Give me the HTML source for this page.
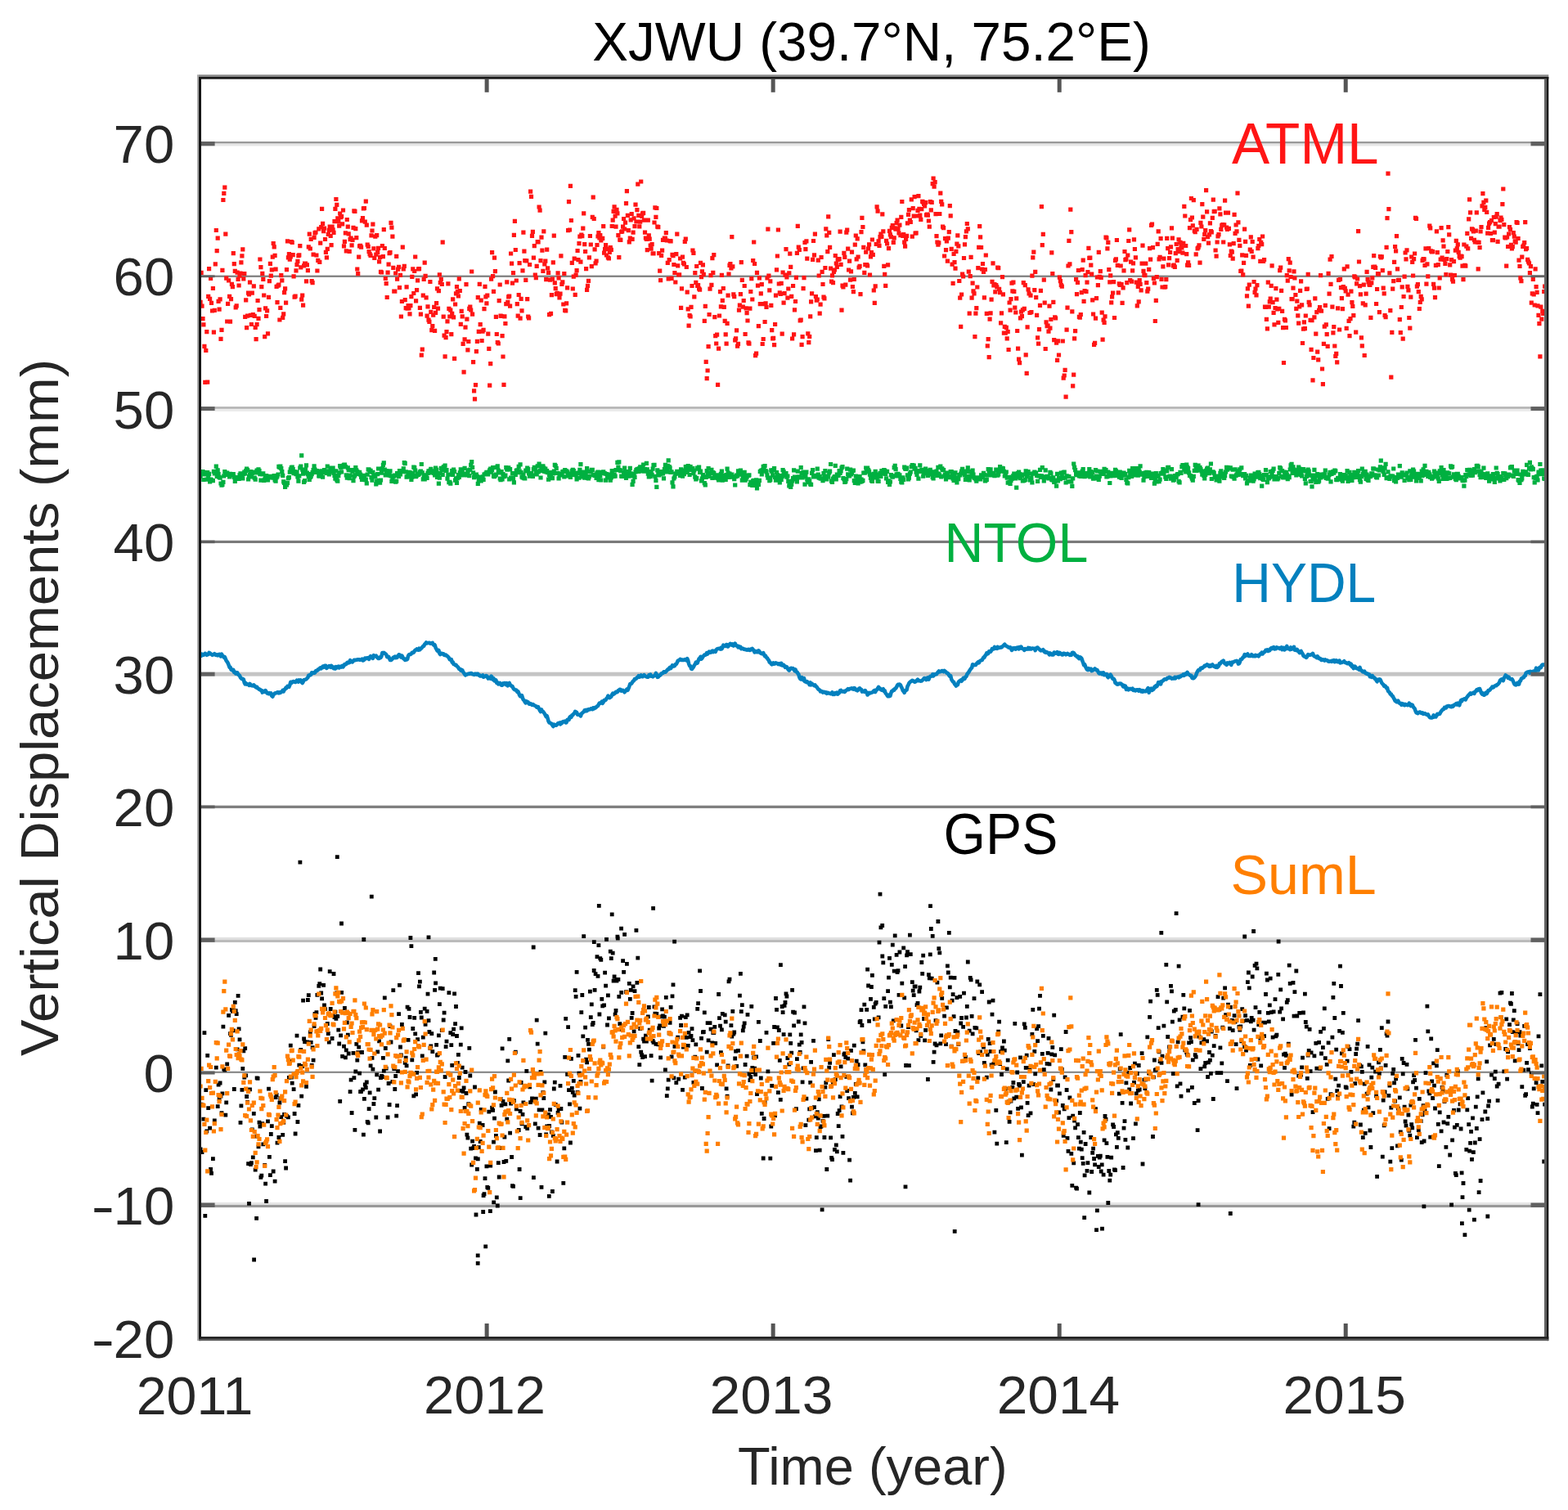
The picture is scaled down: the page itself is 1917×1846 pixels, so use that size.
<!DOCTYPE html><html><head><meta charset="utf-8"><title>XJWU</title><style>html,body{margin:0;padding:0;background:#fff;overflow:hidden}svg{display:block}</style></head><body><svg width="1917" height="1846" viewBox="0 0 1917 1846"><rect width="1917" height="1846" fill="#fff"/><g><rect x="246" y="173.0" width="1642" height="2.6" fill="#999999"/><rect x="246" y="175.6" width="1642" height="2.9" fill="#e6e6e6"/><rect x="246" y="336.6" width="1642" height="2.3" fill="#808080"/><rect x="246" y="497.1" width="1642" height="2.8" fill="#b5b5b5"/><rect x="246" y="499.9" width="1642" height="3.1" fill="#ebebeb"/><rect x="246" y="660.8" width="1642" height="3.2" fill="#7a7a7a"/><rect x="246" y="821.7" width="1642" height="4.9" fill="#c4c4c4"/><rect x="246" y="984.75" width="1642" height="3.35" fill="#7f7f7f"/><rect x="246" y="1145.9" width="1642" height="3.0" fill="#e0e0e0"/><rect x="246" y="1148.9" width="1642" height="3.1" fill="#bbbbbb"/><rect x="246" y="1309.7" width="1642" height="2.2" fill="#888888"/><rect x="246" y="1469.9" width="1642" height="3.0" fill="#e5e5e5"/><rect x="246" y="1472.9" width="1642" height="3.2" fill="#999999"/></g><g fill="none" stroke-linecap="butt"><path d="M242.5 369.4h5.2M243.5 333.3h5.2M244.4 374.1h5.2M245.4 389.6h5.2M246.3 396.8h5.2M247.3 423.3h5.2M248.2 467.3h5.2M249.2 428.5h5.2M250.2 405.7h5.2M251.1 467.1h5.2M252.1 362.4h5.2M253.0 328.6h5.2M254.0 365.3h5.2M255.0 340.3h5.2M255.9 370.3h5.2M256.9 380.0h5.2M257.8 352.5h5.2M258.8 406.1h5.2M259.7 379.3h5.2M260.7 322.9h5.2M261.7 281.5h5.2M262.6 306.6h5.2M263.6 291.1h5.2M264.5 368.3h5.2M265.5 378.2h5.2M266.5 365.8h5.2M267.4 414.4h5.2M268.4 403.3h5.2M269.3 330.4h5.2M270.3 244.5h5.2M271.2 236.3h5.2M272.2 229.1h5.2M273.2 286.2h5.2M274.1 340.1h5.2M275.1 393.0h5.2M276.0 371.3h5.2M277.0 342.8h5.2M278.0 362.3h5.2M278.9 393.1h5.2M279.9 365.7h5.2M280.8 347.3h5.2M281.8 350.7h5.2M282.7 309.6h5.2M283.7 322.7h5.2M284.7 331.3h5.2M285.6 375.8h5.2M286.6 373.9h5.2M287.5 333.2h5.2M288.5 341.5h5.2M289.5 349.0h5.2M290.4 337.2h5.2M291.4 334.0h5.2M292.3 320.9h5.2M293.3 312.9h5.2M294.2 304.9h5.2M295.2 340.9h5.2M296.2 334.5h5.2M297.1 387.3h5.2M298.1 366.9h5.2M299.0 400.6h5.2M300.0 386.2h5.2M301.0 358.1h5.2M301.9 359.8h5.2M302.9 345.2h5.2M303.8 385.4h5.2M304.8 396.5h5.2M305.7 358.1h5.2M306.7 384.7h5.2M307.7 349.8h5.2M308.6 386.4h5.2M309.6 400.3h5.2M310.5 414.7h5.2M311.5 396.7h5.2M312.5 367.5h5.2M313.4 389.3h5.2M314.4 378.7h5.2M315.3 317.0h5.2M316.3 326.7h5.2M317.2 350.6h5.2M318.2 334.3h5.2M319.2 341.4h5.2M320.1 361.0h5.2M321.1 411.6h5.2M322.0 376.9h5.2M323.0 386.5h5.2M324.0 379.9h5.2M324.9 407.8h5.2M325.9 363.3h5.2M326.8 343.7h5.2M327.8 322.3h5.2M328.7 337.1h5.2M329.7 329.8h5.2M330.7 314.1h5.2M331.6 297.5h5.2M332.6 301.8h5.2M333.5 312.4h5.2M334.5 329.2h5.2M335.5 350.4h5.2M336.4 369.7h5.2M337.4 349.1h5.2M338.3 348.2h5.2M339.3 391.0h5.2M340.2 376.3h5.2M341.2 336.7h5.2M342.2 342.9h5.2M343.1 388.4h5.2M344.1 383.9h5.2M345.0 357.7h5.2M346.0 352.9h5.2M347.0 370.1h5.2M347.9 329.7h5.2M348.9 294.9h5.2M349.8 314.9h5.2M350.8 310.6h5.2M351.7 317.2h5.2M352.7 313.8h5.2M353.7 295.5h5.2M354.6 296.5h5.2M355.6 311.7h5.2M356.5 337.9h5.2M357.5 363.1h5.2M358.5 362.1h5.2M359.4 330.9h5.2M360.4 323.6h5.2M361.3 319.4h5.2M362.3 312.7h5.2M363.2 311.9h5.2M364.2 300.6h5.2M365.2 326.8h5.2M366.1 366.1h5.2M367.1 361.0h5.2M368.0 373.1h5.2M369.0 324.9h5.2M370.0 322.1h5.2M370.9 322.1h5.2M371.9 343.9h5.2M372.8 323.9h5.2M373.8 330.7h5.2M374.7 301.9h5.2M375.7 286.2h5.2M376.7 304.0h5.2M377.6 292.3h5.2M378.6 343.6h5.2M379.5 345.6h5.2M380.5 311.1h5.2M381.5 290.3h5.2M382.4 284.9h5.2M383.4 284.0h5.2M384.3 312.0h5.2M385.3 331.0h5.2M386.2 318.4h5.2M387.2 279.9h5.2M388.2 320.4h5.2M389.1 297.1h5.2M390.1 277.6h5.2M391.0 255.4h5.2M392.0 273.3h5.2M393.0 282.6h5.2M393.9 279.0h5.2M394.9 292.5h5.2M395.8 308.3h5.2M396.8 314.8h5.2M397.7 304.3h5.2M398.7 286.5h5.2M399.7 281.3h5.2M400.6 277.1h5.2M401.6 288.5h5.2M402.5 299.6h5.2M403.5 277.0h5.2M404.5 280.8h5.2M405.4 284.3h5.2M406.4 270.7h5.2M407.3 255.3h5.2M408.3 243.5h5.2M409.2 250.4h5.2M410.2 266.8h5.2M411.2 270.6h5.2M412.1 276.2h5.2M413.1 261.0h5.2M414.0 265.7h5.2M415.0 264.7h5.2M416.0 273.9h5.2M416.9 257.0h5.2M417.9 300.8h5.2M418.8 295.3h5.2M419.8 284.8h5.2M420.7 306.9h5.2M421.7 268.5h5.2M422.7 277.2h5.2M423.6 285.9h5.2M424.6 307.3h5.2M425.5 292.7h5.2M426.5 291.0h5.2M427.5 299.8h5.2M428.4 293.3h5.2M429.4 278.4h5.2M430.3 257.9h5.2M431.3 258.4h5.2M432.2 279.7h5.2M433.2 290.6h5.2M434.2 329.0h5.2M435.1 334.7h5.2M436.1 314.2h5.2M437.0 300.8h5.2M438.0 300.3h5.2M439.0 302.1h5.2M439.9 269.9h5.2M440.9 266.7h5.2M441.8 254.9h5.2M442.8 254.5h5.2M443.7 271.2h5.2M444.7 246.1h5.2M445.7 275.2h5.2M446.6 299.1h5.2M447.6 301.4h5.2M448.5 307.7h5.2M449.5 310.6h5.2M450.5 312.4h5.2M451.4 287.8h5.2M452.4 282.0h5.2M453.3 274.1h5.2M454.3 303.8h5.2M455.2 315.3h5.2M456.2 289.2h5.2M457.2 311.1h5.2M458.1 287.6h5.2M459.1 308.5h5.2M460.0 303.3h5.2M461.0 319.9h5.2M462.0 314.4h5.2M462.9 332.4h5.2M463.9 333.0h5.2M464.8 300.5h5.2M465.8 313.7h5.2M466.7 280.7h5.2M467.7 303.5h5.2M468.7 340.5h5.2M469.6 346.7h5.2M470.6 363.5h5.2M471.5 333.1h5.2M472.5 323.2h5.2M473.5 309.6h5.2M474.4 308.6h5.2M475.4 272.4h5.2M476.3 278.2h5.2M477.3 289.1h5.2M478.2 327.3h5.2M479.2 356.1h5.2M480.2 356.1h5.2M481.1 334.0h5.2M482.1 313.3h5.2M483.0 341.1h5.2M484.0 329.2h5.2M485.0 326.4h5.2M485.9 351.6h5.2M486.9 336.4h5.2M487.8 387.0h5.2M488.8 368.5h5.2M489.7 302.2h5.2M490.7 328.8h5.2M491.7 325.4h5.2M492.6 366.7h5.2M493.6 376.6h5.2M494.5 350.8h5.2M495.5 377.1h5.2M496.5 373.5h5.2M497.4 376.8h5.2M498.4 383.9h5.2M499.3 373.7h5.2M500.3 362.6h5.2M501.2 338.3h5.2M502.2 328.9h5.2M503.2 358.5h5.2M504.1 331.5h5.2M505.1 314.0h5.2M506.0 367.8h5.2M507.0 354.7h5.2M508.0 342.9h5.2M508.9 328.9h5.2M509.9 328.6h5.2M510.8 376.4h5.2M511.8 384.2h5.2M512.7 434.1h5.2M513.7 427.2h5.2M514.7 361.2h5.2M515.6 341.3h5.2M516.6 321.2h5.2M517.5 337.4h5.2M518.5 363.9h5.2M519.5 386.2h5.2M520.4 374.8h5.2M521.4 391.2h5.2M522.3 393.4h5.2M523.3 344.5h5.2M524.2 381.4h5.2M525.2 403.6h5.2M526.2 398.5h5.2M527.1 385.2h5.2M528.1 375.4h5.2M529.0 404.4h5.2M530.0 382.4h5.2M531.0 370.7h5.2M531.9 352.9h5.2M532.9 377.2h5.2M533.8 355.7h5.2M534.8 335.8h5.2M535.7 345.5h5.2M536.7 341.6h5.2M537.7 347.5h5.2M538.6 296.1h5.2M539.6 387.1h5.2M540.5 410.1h5.2M541.5 435.8h5.2M542.5 412.6h5.2M543.4 405.6h5.2M544.4 392.8h5.2M545.3 346.9h5.2M546.3 377.3h5.2M547.2 387.0h5.2M548.2 379.2h5.2M549.2 408.7h5.2M550.1 383.4h5.2M551.1 365.8h5.2M552.0 387.8h5.2M553.0 438.3h5.2M554.0 372.0h5.2M554.9 358.8h5.2M555.9 350.6h5.2M556.8 356.7h5.2M557.8 362.0h5.2M558.7 340.9h5.2M559.7 355.5h5.2M560.7 396.4h5.2M561.6 380.4h5.2M562.6 386.9h5.2M563.5 420.3h5.2M564.5 454.9h5.2M565.5 414.9h5.2M566.4 400.2h5.2M567.4 347.6h5.2M568.3 390.2h5.2M569.3 427.8h5.2M570.2 417.5h5.2M571.2 377.4h5.2M572.2 375.1h5.2M573.1 379.0h5.2M574.1 332.0h5.2M575.0 384.2h5.2M576.0 442.7h5.2M577.0 477.9h5.2M577.9 487.8h5.2M578.9 470.6h5.2M579.8 429.6h5.2M580.8 417.3h5.2M581.7 363.7h5.2M582.7 405.3h5.2M583.7 347.3h5.2M584.6 396.7h5.2M585.6 367.1h5.2M586.5 416.5h5.2M587.5 405.2h5.2M588.5 403.4h5.2M589.4 377.7h5.2M590.4 350.4h5.2M591.3 362.8h5.2M592.3 370.8h5.2M593.2 361.2h5.2M594.2 408.1h5.2M595.2 426.4h5.2M596.1 471.2h5.2M597.1 444.6h5.2M598.0 341.1h5.2M599.0 308.7h5.2M600.0 337.6h5.2M600.9 356.4h5.2M601.9 315.1h5.2M602.8 331.6h5.2M603.8 387.3h5.2M604.7 408.5h5.2M605.7 418.5h5.2M606.7 420.0h5.2M607.6 367.6h5.2M608.6 348.0h5.2M609.5 386.2h5.2M610.5 386.5h5.2M611.5 410.6h5.2M612.4 436.0h5.2M613.4 470.4h5.2M614.3 386.9h5.2M615.3 395.5h5.2M616.2 371.7h5.2M617.2 344.9h5.2M618.2 369.3h5.2M619.1 362.9h5.2M620.1 362.0h5.2M621.0 374.1h5.2M622.0 310.0h5.2M623.0 322.1h5.2M623.9 346.1h5.2M624.9 333.7h5.2M625.8 287.3h5.2M626.8 270.4h5.2M627.7 305.5h5.2M628.7 343.0h5.2M629.7 371.6h5.2M630.6 386.1h5.2M631.6 360.5h5.2M632.5 321.7h5.2M633.5 389.2h5.2M634.5 365.4h5.2M635.4 379.9h5.2M636.4 330.8h5.2M637.3 284.2h5.2M638.3 307.2h5.2M639.2 318.7h5.2M640.2 342.3h5.2M641.2 318.8h5.2M642.1 365.6h5.2M643.1 387.0h5.2M644.0 388.8h5.2M645.0 323.5h5.2M646.0 234.1h5.2M646.9 240.4h5.2M647.9 288.4h5.2M648.8 283.4h5.2M649.8 315.2h5.2M650.7 300.7h5.2M651.7 336.0h5.2M652.7 339.6h5.2M653.6 325.4h5.2M654.6 295.5h5.2M655.5 295.8h5.2M656.5 253.0h5.2M657.5 257.1h5.2M658.4 318.6h5.2M659.4 290.1h5.2M660.3 306.1h5.2M661.3 331.4h5.2M662.2 282.8h5.2M663.2 323.0h5.2M664.2 319.2h5.2M665.1 341.7h5.2M666.1 305.1h5.2M667.0 327.9h5.2M668.0 333.3h5.2M669.0 384.6h5.2M669.9 342.1h5.2M670.9 383.3h5.2M671.8 360.7h5.2M672.8 341.2h5.2M673.7 320.8h5.2M674.7 288.2h5.2M675.7 345.9h5.2M676.6 352.7h5.2M677.6 359.6h5.2M678.5 358.3h5.2M679.5 333.8h5.2M680.5 339.9h5.2M681.4 364.0h5.2M682.4 359.2h5.2M683.3 312.9h5.2M684.3 347.5h5.2M685.2 344.8h5.2M686.2 372.0h5.2M687.2 334.5h5.2M688.1 379.4h5.2M689.1 379.8h5.2M690.0 370.8h5.2M691.0 351.8h5.2M692.0 281.6h5.2M692.9 246.6h5.2M693.9 281.0h5.2M694.8 227.3h5.2M695.8 269.5h5.2M696.7 321.4h5.2M697.7 353.0h5.2M698.7 338.2h5.2M699.6 316.1h5.2M700.6 360.3h5.2M701.5 336.2h5.2M702.5 330.7h5.2M703.5 306.5h5.2M704.4 317.7h5.2M705.4 297.7h5.2M706.3 289.2h5.2M707.3 320.1h5.2M708.2 287.1h5.2M709.2 288.6h5.2M710.2 279.1h5.2M711.1 260.8h5.2M712.1 298.6h5.2M713.0 307.5h5.2M714.0 328.6h5.2M715.0 354.3h5.2M715.9 349.4h5.2M716.9 343.3h5.2M717.8 314.8h5.2M718.8 288.5h5.2M719.7 299.0h5.2M720.7 325.7h5.2M721.7 265.3h5.2M722.6 241.1h5.2M723.6 267.5h5.2M724.5 304.9h5.2M725.5 321.8h5.2M726.5 319.0h5.2M727.4 299.5h5.2M728.4 289.0h5.2M729.3 284.5h5.2M730.3 290.9h5.2M731.2 287.6h5.2M732.2 293.8h5.2M733.2 291.6h5.2M734.1 291.3h5.2M735.1 276.7h5.2M736.0 309.2h5.2M737.0 304.7h5.2M738.0 299.5h5.2M738.9 312.0h5.2M739.9 304.4h5.2M740.8 314.8h5.2M741.8 316.0h5.2M742.7 308.4h5.2M743.7 302.7h5.2M744.7 305.3h5.2M745.6 276.5h5.2M746.6 269.1h5.2M747.5 258.3h5.2M748.5 252.8h5.2M749.5 264.2h5.2M750.4 277.1h5.2M751.4 256.3h5.2M752.3 260.8h5.2M753.3 287.7h5.2M754.2 314.7h5.2M755.2 293.1h5.2M756.2 293.4h5.2M757.1 283.5h5.2M758.1 282.8h5.2M759.0 277.2h5.2M760.0 267.5h5.2M761.0 280.0h5.2M761.9 272.1h5.2M762.9 248.7h5.2M763.8 233.6h5.2M764.8 263.3h5.2M765.7 281.6h5.2M766.7 295.8h5.2M767.7 291.0h5.2M768.6 268.9h5.2M769.6 261.5h5.2M770.5 292.3h5.2M771.5 284.2h5.2M772.5 266.8h5.2M773.4 276.7h5.2M774.4 250.2h5.2M775.3 271.0h5.2M776.3 256.6h5.2M777.2 225.2h5.2M778.2 263.3h5.2M779.2 276.9h5.2M780.1 271.1h5.2M781.1 222.0h5.2M782.0 264.3h5.2M783.0 260.8h5.2M784.0 260.4h5.2M784.9 269.2h5.2M785.9 284.2h5.2M786.8 291.0h5.2M787.8 292.3h5.2M788.7 305.6h5.2M789.7 269.2h5.2M790.7 287.9h5.2M791.6 292.1h5.2M792.6 300.0h5.2M793.5 304.2h5.2M794.5 298.6h5.2M795.5 309.9h5.2M796.4 309.8h5.2M797.4 272.0h5.2M798.3 253.9h5.2M799.3 265.4h5.2M800.2 254.5h5.2M801.2 277.1h5.2M802.2 277.6h5.2M803.1 309.6h5.2M804.1 331.2h5.2M805.0 342.6h5.2M806.0 312.3h5.2M807.0 306.1h5.2M807.9 293.4h5.2M808.9 293.4h5.2M809.8 291.2h5.2M810.8 291.4h5.2M811.7 284.6h5.2M812.7 294.0h5.2M813.7 321.3h5.2M814.6 340.9h5.2M815.6 317.7h5.2M816.5 294.7h5.2M817.5 294.9h5.2M818.5 340.3h5.2M819.4 311.3h5.2M820.4 312.6h5.2M821.3 323.5h5.2M822.3 333.5h5.2M823.2 345.0h5.2M824.2 310.6h5.2M825.2 286.1h5.2M826.1 324.8h5.2M827.1 335.8h5.2M828.0 335.8h5.2M829.0 316.0h5.2M830.0 376.4h5.2M830.9 352.8h5.2M831.9 314.1h5.2M832.8 321.4h5.2M833.8 322.9h5.2M834.7 295.5h5.2M835.7 292.2h5.2M836.7 326.5h5.2M837.6 357.1h5.2M838.6 377.8h5.2M839.5 398.2h5.2M840.5 385.5h5.2M841.5 387.0h5.2M842.4 375.4h5.2M843.4 349.5h5.2M844.3 306.0h5.2M845.3 309.3h5.2M846.2 362.8h5.2M847.2 333.6h5.2M848.2 345.3h5.2M849.1 325.5h5.2M850.1 349.3h5.2M851.0 348.7h5.2M852.0 352.9h5.2M853.0 354.1h5.2M853.9 321.4h5.2M854.9 338.7h5.2M855.8 331.8h5.2M856.8 323.8h5.2M857.7 335.4h5.2M858.7 392.4h5.2M859.7 374.4h5.2M860.6 442.3h5.2M861.6 462.7h5.2M862.5 453.0h5.2M863.5 423.7h5.2M864.5 384.5h5.2M865.4 353.1h5.2M866.4 336.6h5.2M867.3 348.4h5.2M868.3 315.6h5.2M869.2 333.3h5.2M870.2 311.7h5.2M871.2 387.6h5.2M872.1 410.7h5.2M873.1 420.0h5.2M874.0 409.1h5.2M875.0 470.3h5.2M876.0 426.2h5.2M876.9 386.0h5.2M877.9 356.7h5.2M878.8 374.9h5.2M879.8 336.3h5.2M880.7 367.4h5.2M881.7 352.5h5.2M882.7 375.4h5.2M883.6 392.3h5.2M884.6 408.9h5.2M885.5 420.2h5.2M886.5 395.4h5.2M887.5 361.2h5.2M888.4 335.0h5.2M889.4 324.4h5.2M890.3 322.7h5.2M891.3 327.8h5.2M892.2 289.6h5.2M893.2 325.8h5.2M894.2 359.9h5.2M895.1 362.6h5.2M896.1 415.8h5.2M897.0 413.8h5.2M898.0 403.8h5.2M899.0 423.1h5.2M899.9 420.3h5.2M900.9 379.2h5.2M901.8 373.2h5.2M902.8 359.7h5.2M903.7 320.7h5.2M904.7 342.3h5.2M905.7 375.2h5.2M906.6 367.5h5.2M907.6 349.5h5.2M908.5 408.5h5.2M909.5 376.8h5.2M910.5 382.7h5.2M911.4 392.0h5.2M912.4 418.8h5.2M913.3 420.2h5.2M914.3 377.2h5.2M915.2 356.5h5.2M916.2 340.6h5.2M917.2 366.0h5.2M918.1 318.5h5.2M919.1 296.0h5.2M920.0 322.5h5.2M921.0 434.6h5.2M922.0 432.2h5.2M922.9 333.4h5.2M923.9 349.1h5.2M924.8 398.6h5.2M925.8 339.9h5.2M926.7 371.7h5.2M927.7 358.8h5.2M928.7 347.6h5.2M929.6 420.5h5.2M930.6 414.5h5.2M931.5 371.7h5.2M932.5 393.5h5.2M933.5 370.9h5.2M934.4 375.5h5.2M935.4 340.0h5.2M936.3 280.1h5.2M937.3 337.2h5.2M938.2 354.8h5.2M939.2 343.8h5.2M940.2 373.3h5.2M941.1 403.7h5.2M942.1 413.8h5.2M943.0 413.4h5.2M944.0 421.7h5.2M945.0 396.5h5.2M945.9 361.1h5.2M946.9 329.9h5.2M947.8 313.0h5.2M948.8 281.0h5.2M949.7 347.0h5.2M950.7 357.8h5.2M951.7 359.5h5.2M952.6 346.4h5.2M953.6 408.1h5.2M954.5 333.0h5.2M955.5 370.2h5.2M956.5 358.7h5.2M957.4 336.2h5.2M958.4 304.7h5.2M959.3 338.8h5.2M960.3 364.1h5.2M961.2 353.0h5.2M962.2 333.9h5.2M963.2 310.2h5.2M964.1 326.4h5.2M965.1 362.3h5.2M966.0 414.0h5.2M967.0 349.5h5.2M968.0 408.9h5.2M968.9 378.9h5.2M969.9 368.5h5.2M970.8 339.3h5.2M971.8 309.3h5.2M972.7 276.3h5.2M973.7 302.1h5.2M974.7 305.5h5.2M975.6 391.8h5.2M976.6 391.1h5.2M977.5 421.3h5.2M978.5 411.7h5.2M979.5 352.6h5.2M980.4 339.7h5.2M981.4 296.5h5.2M982.3 304.6h5.2M983.3 294.8h5.2M984.2 316.2h5.2M985.2 407.8h5.2M986.2 418.7h5.2M987.1 411.5h5.2M988.1 386.8h5.2M989.0 368.9h5.2M990.0 358.9h5.2M991.0 317.4h5.2M991.9 294.5h5.2M992.9 311.9h5.2M993.8 286.2h5.2M994.8 362.5h5.2M995.7 367.1h5.2M996.7 366.0h5.2M997.7 318.2h5.2M998.6 337.0h5.2M999.6 383.1h5.2M1000.5 372.1h5.2M1001.5 314.5h5.2M1002.5 332.4h5.2M1003.4 347.5h5.2M1004.4 363.1h5.2M1005.3 364.8h5.2M1006.3 327.5h5.2M1007.2 279.9h5.2M1008.2 287.9h5.2M1009.2 307.6h5.2M1010.1 264.9h5.2M1011.1 284.4h5.2M1012.0 302.3h5.2M1013.0 328.1h5.2M1014.0 344.2h5.2M1014.9 336.8h5.2M1015.9 345.7h5.2M1016.8 332.4h5.2M1017.8 330.0h5.2M1018.7 312.5h5.2M1019.7 322.0h5.2M1020.7 326.4h5.2M1021.6 317.3h5.2M1022.6 317.2h5.2M1023.5 316.7h5.2M1024.5 283.1h5.2M1025.5 323.3h5.2M1026.4 379.1h5.2M1027.4 349.1h5.2M1028.3 351.0h5.2M1029.3 309.4h5.2M1030.2 314.3h5.2M1031.2 348.1h5.2M1032.2 284.1h5.2M1033.1 281.1h5.2M1034.1 304.2h5.2M1035.0 330.0h5.2M1036.0 319.2h5.2M1037.0 342.2h5.2M1037.9 331.9h5.2M1038.9 308.2h5.2M1039.8 350.5h5.2M1040.8 356.6h5.2M1041.7 341.5h5.2M1042.7 299.1h5.2M1043.7 288.0h5.2M1044.6 316.8h5.2M1045.6 291.9h5.2M1046.5 314.0h5.2M1047.5 327.0h5.2M1048.5 325.3h5.2M1049.4 359.7h5.2M1050.4 283.6h5.2M1051.3 266.3h5.2M1052.3 277.5h5.2M1053.2 302.3h5.2M1054.2 333.4h5.2M1055.2 323.6h5.2M1056.1 308.1h5.2M1057.1 323.5h5.2M1058.0 325.0h5.2M1059.0 304.0h5.2M1060.0 298.9h5.2M1060.9 336.0h5.2M1061.9 313.9h5.2M1062.8 308.6h5.2M1063.8 293.0h5.2M1064.7 311.3h5.2M1065.7 355.0h5.2M1066.7 370.3h5.2M1067.6 349.9h5.2M1068.6 298.5h5.2M1069.5 252.9h5.2M1070.5 258.2h5.2M1071.5 294.8h5.2M1072.4 300.3h5.2M1073.4 289.6h5.2M1074.3 286.0h5.2M1075.3 289.3h5.2M1076.2 261.9h5.2M1077.2 282.8h5.2M1078.2 325.4h5.2M1079.1 335.3h5.2M1080.1 349.3h5.2M1081.0 294.3h5.2M1082.0 298.0h5.2M1083.0 323.8h5.2M1083.9 303.6h5.2M1084.9 282.3h5.2M1085.8 286.8h5.2M1086.8 289.7h5.2M1087.7 278.4h5.2M1088.7 275.7h5.2M1089.7 296.3h5.2M1090.6 290.9h5.2M1091.6 278.8h5.2M1092.5 280.1h5.2M1093.5 272.7h5.2M1094.5 269.2h5.2M1095.4 279.9h5.2M1096.4 285.0h5.2M1097.3 275.2h5.2M1098.3 287.6h5.2M1099.2 265.4h5.2M1100.2 246.5h5.2M1101.2 288.4h5.2M1102.1 286.5h5.2M1103.1 296.1h5.2M1104.0 301.2h5.2M1105.0 292.3h5.2M1106.0 288.3h5.2M1106.9 272.8h5.2M1107.9 262.4h5.2M1108.8 256.7h5.2M1109.8 269.0h5.2M1110.7 271.5h5.2M1111.7 243.8h5.2M1112.7 289.2h5.2M1113.6 254.6h5.2M1114.6 264.1h5.2M1115.5 240.7h5.2M1116.5 285.2h5.2M1117.5 284.9h5.2M1118.4 264.0h5.2M1119.4 257.3h5.2M1120.3 239.7h5.2M1121.3 255.3h5.2M1122.2 263.1h5.2M1123.2 268.4h5.2M1124.2 255.6h5.2M1125.1 246.4h5.2M1126.1 247.2h5.2M1127.0 249.4h5.2M1128.0 251.9h5.2M1129.0 247.7h5.2M1129.9 262.9h5.2M1130.9 262.1h5.2M1131.8 263.1h5.2M1132.8 270.0h5.2M1133.7 277.2h5.2M1134.7 246.6h5.2M1135.7 256.8h5.2M1136.6 247.3h5.2M1137.6 224.6h5.2M1138.5 218.0h5.2M1139.5 228.2h5.2M1140.5 222.7h5.2M1141.4 261.7h5.2M1142.4 288.7h5.2M1143.3 296.0h5.2M1144.3 299.2h5.2M1145.2 296.9h5.2M1146.2 261.5h5.2M1147.2 236.2h5.2M1148.1 246.3h5.2M1149.1 249.9h5.2M1150.0 277.1h5.2M1151.0 278.7h5.2M1152.0 313.0h5.2M1152.9 291.7h5.2M1153.9 305.7h5.2M1154.8 294.8h5.2M1155.8 319.1h5.2M1156.7 291.1h5.2M1157.7 283.7h5.2M1158.7 251.6h5.2M1159.6 263.9h5.2M1160.6 304.4h5.2M1161.5 323.1h5.2M1162.5 346.3h5.2M1163.5 310.4h5.2M1164.4 320.7h5.2M1165.4 328.2h5.2M1166.3 307.4h5.2M1167.3 298.2h5.2M1168.2 287.8h5.2M1169.2 300.8h5.2M1170.2 343.5h5.2M1171.1 364.1h5.2M1172.1 399.3h5.2M1173.0 360.0h5.2M1174.0 335.1h5.2M1175.0 338.0h5.2M1175.9 315.5h5.2M1176.9 298.8h5.2M1177.8 289.7h5.2M1178.8 282.9h5.2M1179.7 273.5h5.2M1180.7 279.8h5.2M1181.7 332.1h5.2M1182.6 383.2h5.2M1183.6 337.7h5.2M1184.5 314.4h5.2M1185.5 364.1h5.2M1186.5 346.1h5.2M1187.4 355.8h5.2M1188.4 358.9h5.2M1189.3 411.7h5.2M1190.3 383.1h5.2M1191.2 376.7h5.2M1192.2 351.0h5.2M1193.2 327.7h5.2M1194.1 302.3h5.2M1195.1 276.6h5.2M1196.0 289.9h5.2M1197.0 302.5h5.2M1198.0 329.0h5.2M1198.9 322.5h5.2M1199.9 332.5h5.2M1200.8 363.8h5.2M1201.8 329.5h5.2M1202.7 312.0h5.2M1203.7 383.4h5.2M1204.7 422.9h5.2M1205.6 414.6h5.2M1206.6 436.6h5.2M1207.5 390.2h5.2M1208.5 382.9h5.2M1209.5 366.1h5.2M1210.4 344.3h5.2M1211.4 321.9h5.2M1212.3 348.8h5.2M1213.3 347.6h5.2M1214.2 356.9h5.2M1215.2 348.5h5.2M1216.2 350.8h5.2M1217.1 327.1h5.2M1218.1 327.6h5.2M1219.0 353.4h5.2M1220.0 357.6h5.2M1221.0 394.8h5.2M1221.9 382.9h5.2M1222.9 338.7h5.2M1223.8 359.9h5.2M1224.8 407.2h5.2M1225.7 399.3h5.2M1226.7 407.2h5.2M1227.7 400.3h5.2M1228.6 413.8h5.2M1229.6 405.5h5.2M1230.5 427.5h5.2M1231.5 370.0h5.2M1232.5 379.2h5.2M1233.4 365.7h5.2M1234.4 346.1h5.2M1235.3 355.8h5.2M1236.3 345.1h5.2M1237.2 356.4h5.2M1238.2 376.1h5.2M1239.2 382.0h5.2M1240.1 364.8h5.2M1241.1 404.5h5.2M1242.0 426.1h5.2M1243.0 439.1h5.2M1244.0 443.6h5.2M1244.9 388.8h5.2M1245.9 381.1h5.2M1246.8 386.7h5.2M1247.8 378.8h5.2M1248.7 345.6h5.2M1249.7 377.3h5.2M1250.7 348.7h5.2M1251.6 433.9h5.2M1252.6 456.3h5.2M1253.5 399.9h5.2M1254.5 353.8h5.2M1255.5 358.8h5.2M1256.4 382.5h5.2M1257.4 361.2h5.2M1258.3 381.7h5.2M1259.3 337.2h5.2M1260.2 314.8h5.2M1261.2 308.1h5.2M1262.2 354.7h5.2M1263.1 332.3h5.2M1264.1 363.6h5.2M1265.0 385.4h5.2M1266.0 412.9h5.2M1267.0 420.2h5.2M1267.9 402.7h5.2M1268.9 373.3h5.2M1269.8 355.3h5.2M1270.8 252.6h5.2M1271.7 299.6h5.2M1272.7 286.4h5.2M1273.7 342.1h5.2M1274.6 370.2h5.2M1275.6 426.5h5.2M1276.5 393.8h5.2M1277.5 398.6h5.2M1278.5 398.1h5.2M1279.4 405.2h5.2M1280.4 374.2h5.2M1281.3 401.2h5.2M1282.3 390.5h5.2M1283.2 308.9h5.2M1284.2 334.5h5.2M1285.2 369.4h5.2M1286.1 415.7h5.2M1287.1 387.9h5.2M1288.0 389.0h5.2M1289.0 419.2h5.2M1290.0 440.3h5.2M1290.9 416.9h5.2M1291.9 434.0h5.2M1292.8 339.2h5.2M1293.8 343.6h5.2M1294.7 348.5h5.2M1295.7 350.1h5.2M1296.7 417.0h5.2M1297.6 462.2h5.2M1298.6 459.0h5.2M1299.5 452.4h5.2M1300.5 485.2h5.2M1301.5 403.2h5.2M1302.4 376.2h5.2M1303.4 325.0h5.2M1304.3 294.4h5.2M1305.3 322.9h5.2M1306.2 256.1h5.2M1307.2 283.7h5.2M1308.2 380.8h5.2M1309.1 471.8h5.2M1310.1 458.1h5.2M1311.0 413.9h5.2M1312.0 404.7h5.2M1313.0 341.6h5.2M1313.9 359.6h5.2M1314.9 345.4h5.2M1315.8 330.5h5.2M1316.8 387.3h5.2M1317.7 388.1h5.2M1318.7 384.5h5.2M1319.7 357.6h5.2M1320.6 329.6h5.2M1321.6 318.2h5.2M1322.5 368.4h5.2M1323.5 355.7h5.2M1324.5 336.6h5.2M1325.4 356.3h5.2M1326.4 345.2h5.2M1327.3 332.6h5.2M1328.3 303.3h5.2M1329.2 315.4h5.2M1330.2 315.1h5.2M1331.2 324.2h5.2M1332.1 335.2h5.2M1333.1 366.8h5.2M1334.0 384.0h5.2M1335.0 421.4h5.2M1336.0 419.4h5.2M1336.9 389.1h5.2M1337.9 364.6h5.2M1338.8 339.0h5.2M1339.8 348.6h5.2M1340.7 308.3h5.2M1341.7 338.4h5.2M1342.7 331.6h5.2M1343.6 339.3h5.2M1344.6 382.1h5.2M1345.5 415.1h5.2M1346.5 391.2h5.2M1347.5 394.4h5.2M1348.4 386.9h5.2M1349.4 290.2h5.2M1350.3 290.8h5.2M1351.3 303.9h5.2M1352.2 296.3h5.2M1353.2 329.7h5.2M1354.2 344.8h5.2M1355.1 336.8h5.2M1356.1 369.8h5.2M1357.0 362.9h5.2M1358.0 358.0h5.2M1359.0 344.6h5.2M1359.9 388.5h5.2M1360.9 318.4h5.2M1361.8 316.9h5.2M1362.8 293.5h5.2M1363.7 324.3h5.2M1364.7 357.8h5.2M1365.7 346.9h5.2M1366.6 348.3h5.2M1367.6 325.0h5.2M1368.5 347.7h5.2M1369.5 370.4h5.2M1370.5 351.9h5.2M1371.4 330.9h5.2M1372.4 307.5h5.2M1373.3 317.7h5.2M1374.3 316.8h5.2M1375.2 345.6h5.2M1376.2 312.0h5.2M1377.2 294.5h5.2M1378.1 280.8h5.2M1379.1 342.5h5.2M1380.0 320.2h5.2M1381.0 344.2h5.2M1382.0 330.9h5.2M1382.9 321.9h5.2M1383.9 292.8h5.2M1384.8 304.5h5.2M1385.8 314.9h5.2M1386.7 345.2h5.2M1387.7 373.8h5.2M1388.7 350.3h5.2M1389.6 368.9h5.2M1390.6 342.6h5.2M1391.5 347.5h5.2M1392.5 354.9h5.2M1393.5 322.2h5.2M1394.4 300.1h5.2M1395.4 331.3h5.2M1396.3 336.2h5.2M1397.3 336.6h5.2M1398.2 322.2h5.2M1399.2 345.7h5.2M1400.2 356.2h5.2M1401.1 353.2h5.2M1402.1 329.4h5.2M1403.0 303.6h5.2M1404.0 317.2h5.2M1405.0 275.4h5.2M1405.9 274.0h5.2M1406.9 302.6h5.2M1407.8 340.4h5.2M1408.8 346.0h5.2M1409.7 392.5h5.2M1410.7 367.4h5.2M1411.7 338.6h5.2M1412.6 298.4h5.2M1413.6 282.9h5.2M1414.5 316.9h5.2M1415.5 314.3h5.2M1416.5 291.7h5.2M1417.4 341.4h5.2M1418.4 351.0h5.2M1419.3 325.8h5.2M1420.3 316.2h5.2M1421.2 351.2h5.2M1422.2 350.7h5.2M1423.2 341.7h5.2M1424.1 291.3h5.2M1425.1 303.6h5.2M1426.0 323.8h5.2M1427.0 315.6h5.2M1428.0 308.5h5.2M1428.9 301.8h5.2M1429.9 278.9h5.2M1430.8 291.2h5.2M1431.8 324.8h5.2M1432.7 324.2h5.2M1433.7 326.4h5.2M1434.7 309.6h5.2M1435.6 298.5h5.2M1436.6 318.4h5.2M1437.5 304.7h5.2M1438.5 292.9h5.2M1439.5 307.6h5.2M1440.4 296.3h5.2M1441.4 301.2h5.2M1442.3 302.8h5.2M1443.3 309.2h5.2M1444.2 297.4h5.2M1445.2 252.3h5.2M1446.2 264.0h5.2M1447.1 300.5h5.2M1448.1 310.6h5.2M1449.0 324.1h5.2M1450.0 320.8h5.2M1451.0 324.3h5.2M1451.9 278.7h5.2M1452.9 268.7h5.2M1453.8 242.5h5.2M1454.8 266.0h5.2M1455.7 275.9h5.2M1456.7 244.6h5.2M1457.7 282.2h5.2M1458.6 283.6h5.2M1459.6 310.8h5.2M1460.5 280.4h5.2M1461.5 303.8h5.2M1462.5 302.5h5.2M1463.4 299.8h5.2M1464.4 321.1h5.2M1465.3 272.4h5.2M1466.3 277.0h5.2M1467.2 249.7h5.2M1468.2 265.1h5.2M1469.2 292.3h5.2M1470.1 286.5h5.2M1471.1 281.5h5.2M1472.0 232.7h5.2M1473.0 258.8h5.2M1474.0 289.6h5.2M1474.9 297.1h5.2M1475.9 286.9h5.2M1476.8 272.9h5.2M1477.8 282.5h5.2M1478.7 283.8h5.2M1479.7 266.4h5.2M1480.7 244.2h5.2M1481.6 258.7h5.2M1482.6 258.4h5.2M1483.5 306.0h5.2M1484.5 313.1h5.2M1485.5 296.0h5.2M1486.4 288.9h5.2M1487.4 286.7h5.2M1488.3 254.8h5.2M1489.3 261.8h5.2M1490.2 280.3h5.2M1491.2 275.6h5.2M1492.2 274.5h5.2M1493.1 296.0h5.2M1494.1 274.9h5.2M1495.0 245.1h5.2M1496.0 260.1h5.2M1497.0 278.2h5.2M1497.9 280.4h5.2M1498.9 260.1h5.2M1499.8 279.3h5.2M1500.8 298.8h5.2M1501.7 312.5h5.2M1502.7 307.2h5.2M1503.7 308.1h5.2M1504.6 316.2h5.2M1505.6 297.7h5.2M1506.5 262.3h5.2M1507.5 285.4h5.2M1508.5 275.0h5.2M1509.4 282.9h5.2M1510.4 236.2h5.2M1511.3 271.9h5.2M1512.3 293.4h5.2M1513.2 300.3h5.2M1514.2 331.5h5.2M1515.2 331.2h5.2M1516.1 311.8h5.2M1517.1 335.9h5.2M1518.0 321.3h5.2M1519.0 280.2h5.2M1520.0 295.3h5.2M1520.9 312.3h5.2M1521.9 361.9h5.2M1522.8 352.9h5.2M1523.8 374.2h5.2M1524.7 348.2h5.2M1525.7 305.1h5.2M1526.7 289.9h5.2M1527.6 307.3h5.2M1528.6 295.5h5.2M1529.5 314.1h5.2M1530.5 344.5h5.2M1531.5 357.3h5.2M1532.4 353.0h5.2M1533.4 360.9h5.2M1534.3 348.7h5.2M1535.3 303.6h5.2M1536.2 300.5h5.2M1537.2 292.5h5.2M1538.2 319.4h5.2M1539.1 296.4h5.2M1540.1 298.6h5.2M1541.0 289.0h5.2M1542.0 319.3h5.2M1543.0 317.5h5.2M1543.9 375.2h5.2M1544.9 375.5h5.2M1545.8 390.3h5.2M1546.8 401.9h5.2M1547.7 345.2h5.2M1548.7 375.2h5.2M1549.7 368.9h5.2M1550.6 365.2h5.2M1551.6 349.3h5.2M1552.5 324.8h5.2M1553.5 369.7h5.2M1554.5 382.3h5.2M1555.4 396.9h5.2M1556.4 376.5h5.2M1557.3 352.7h5.2M1558.3 366.2h5.2M1559.2 377.9h5.2M1560.2 394.3h5.2M1561.2 377.4h5.2M1562.1 330.6h5.2M1563.1 327.1h5.2M1564.0 355.4h5.2M1565.0 380.4h5.2M1566.0 400.6h5.2M1566.9 443.5h5.2M1567.9 390.3h5.2M1568.8 391.9h5.2M1569.8 400.5h5.2M1570.7 336.6h5.2M1571.7 343.1h5.2M1572.7 316.7h5.2M1573.6 330.8h5.2M1574.6 321.2h5.2M1575.5 338.5h5.2M1576.5 365.7h5.2M1577.5 365.6h5.2M1578.4 352.2h5.2M1579.4 331.8h5.2M1580.3 340.0h5.2M1581.3 360.5h5.2M1582.2 377.3h5.2M1583.2 368.1h5.2M1584.2 385.9h5.2M1585.1 395.2h5.2M1586.1 374.8h5.2M1587.0 355.4h5.2M1588.0 343.9h5.2M1589.0 372.9h5.2M1589.9 419.5h5.2M1590.9 402.1h5.2M1591.8 393.8h5.2M1592.8 401.7h5.2M1593.7 386.0h5.2M1594.7 353.3h5.2M1595.7 353.0h5.2M1596.6 335.4h5.2M1597.6 369.3h5.2M1598.5 372.8h5.2M1599.5 391.4h5.2M1600.5 427.4h5.2M1601.4 391.7h5.2M1602.4 464.8h5.2M1603.3 437.5h5.2M1604.3 387.8h5.2M1605.2 364.9h5.2M1606.2 408.2h5.2M1607.2 381.7h5.2M1608.1 430.1h5.2M1609.1 439.9h5.2M1610.0 379.4h5.2M1611.0 375.6h5.2M1612.0 336.6h5.2M1612.9 380.1h5.2M1613.9 451.0h5.2M1614.8 469.6h5.2M1615.8 420.4h5.2M1616.7 399.1h5.2M1617.7 373.3h5.2M1618.7 396.8h5.2M1619.6 408.6h5.2M1620.6 423.3h5.2M1621.5 334.3h5.2M1622.5 359.2h5.2M1623.5 317.2h5.2M1624.4 347.3h5.2M1625.4 313.5h5.2M1626.3 375.1h5.2M1627.3 406.9h5.2M1628.2 399.6h5.2M1629.2 423.0h5.2M1630.2 435.5h5.2M1631.1 432.4h5.2M1632.1 442.9h5.2M1633.0 376.8h5.2M1634.0 342.3h5.2M1635.0 403.0h5.2M1635.9 341.5h5.2M1636.9 351.7h5.2M1637.8 364.6h5.2M1638.8 377.7h5.2M1639.7 350.6h5.2M1640.7 328.9h5.2M1641.7 352.4h5.2M1642.6 355.8h5.2M1643.6 401.3h5.2M1644.5 325.9h5.2M1645.5 360.1h5.2M1646.5 392.3h5.2M1647.4 410.6h5.2M1648.4 389.6h5.2M1649.3 356.2h5.2M1650.3 369.6h5.2M1651.2 374.5h5.2M1652.2 385.6h5.2M1653.2 337.9h5.2M1654.1 338.9h5.2M1655.1 406.2h5.2M1656.0 346.9h5.2M1657.0 341.0h5.2M1658.0 282.7h5.2M1658.9 320.0h5.2M1659.9 349.6h5.2M1660.8 359.9h5.2M1661.8 412.8h5.2M1662.7 422.8h5.2M1663.7 370.8h5.2M1664.7 348.2h5.2M1665.6 434.5h5.2M1666.6 372.9h5.2M1667.5 359.1h5.2M1668.5 332.4h5.2M1669.5 341.7h5.2M1670.4 344.8h5.2M1671.4 347.9h5.2M1672.3 348.4h5.2M1673.3 388.4h5.2M1674.2 345.9h5.2M1675.2 339.8h5.2M1676.2 326.4h5.2M1677.1 312.6h5.2M1678.1 326.0h5.2M1679.0 327.5h5.2M1680.0 371.5h5.2M1681.0 353.5h5.2M1681.9 334.6h5.2M1682.9 335.2h5.2M1683.8 381.6h5.2M1684.8 313.5h5.2M1685.7 314.8h5.2M1686.7 313.9h5.2M1687.7 330.7h5.2M1688.6 352.1h5.2M1689.6 358.8h5.2M1690.5 385.5h5.2M1691.5 387.6h5.2M1692.5 302.3h5.2M1693.4 266.6h5.2M1694.4 212.1h5.2M1695.3 255.7h5.2M1696.3 333.8h5.2M1697.2 379.7h5.2M1698.2 461.2h5.2M1699.2 406.3h5.2M1700.1 353.1h5.2M1701.1 343.7h5.2M1702.0 320.3h5.2M1703.0 301.5h5.2M1704.0 306.8h5.2M1704.9 288.6h5.2M1705.9 328.8h5.2M1706.8 342.5h5.2M1707.8 342.3h5.2M1708.7 390.7h5.2M1709.7 406.6h5.2M1710.7 375.5h5.2M1711.6 350.9h5.2M1712.6 414.1h5.2M1713.5 362.5h5.2M1714.5 338.2h5.2M1715.5 309.0h5.2M1716.4 316.9h5.2M1717.4 305.9h5.2M1718.3 350.4h5.2M1719.3 354.9h5.2M1720.2 388.5h5.2M1721.2 401.2h5.2M1722.2 363.1h5.2M1723.1 314.0h5.2M1724.1 320.4h5.2M1725.0 337.0h5.2M1726.0 316.6h5.2M1727.0 310.0h5.2M1727.9 266.4h5.2M1728.9 267.4h5.2M1729.8 350.1h5.2M1730.8 347.7h5.2M1731.7 356.7h5.2M1732.7 377.5h5.2M1733.7 369.5h5.2M1734.6 362.3h5.2M1735.6 365.9h5.2M1736.5 318.3h5.2M1737.5 316.7h5.2M1738.5 316.8h5.2M1739.4 324.5h5.2M1740.4 303.9h5.2M1741.3 347.1h5.2M1742.3 322.8h5.2M1743.2 337.9h5.2M1744.2 303.6h5.2M1745.2 276.2h5.2M1746.1 278.8h5.2M1747.1 306.8h5.2M1748.0 307.8h5.2M1749.0 307.7h5.2M1750.0 347.3h5.2M1750.9 352.1h5.2M1751.9 363.6h5.2M1752.8 324.4h5.2M1753.8 282.9h5.2M1754.7 308.6h5.2M1755.7 323.6h5.2M1756.7 352.0h5.2M1757.6 339.9h5.2M1758.6 317.1h5.2M1759.5 278.7h5.2M1760.5 315.1h5.2M1761.5 293.9h5.2M1762.4 301.2h5.2M1763.4 317.4h5.2M1764.3 322.5h5.2M1765.3 335.6h5.2M1766.2 316.6h5.2M1767.2 307.5h5.2M1768.2 277.6h5.2M1769.1 286.9h5.2M1770.1 323.8h5.2M1771.0 336.1h5.2M1772.0 317.7h5.2M1773.0 341.6h5.2M1773.9 344.2h5.2M1774.9 319.6h5.2M1775.8 336.5h5.2M1776.8 306.1h5.2M1777.7 294.4h5.2M1778.7 303.8h5.2M1779.7 298.8h5.2M1780.6 308.3h5.2M1781.6 313.4h5.2M1782.5 315.1h5.2M1783.5 313.1h5.2M1784.5 313.7h5.2M1785.4 325.2h5.2M1786.4 341.7h5.2M1787.3 299.0h5.2M1788.3 324.4h5.2M1789.2 325.2h5.2M1790.2 301.2h5.2M1791.2 285.3h5.2M1792.1 303.8h5.2M1793.1 267.8h5.2M1794.0 243.8h5.2M1795.0 259.8h5.2M1796.0 291.3h5.2M1796.9 279.9h5.2M1797.9 280.7h5.2M1798.8 283.0h5.2M1799.8 293.4h5.2M1800.7 296.0h5.2M1801.7 282.2h5.2M1802.7 259.8h5.2M1803.6 296.1h5.2M1804.6 328.9h5.2M1805.5 296.4h5.2M1806.5 302.7h5.2M1807.5 283.0h5.2M1808.4 277.5h5.2M1809.4 251.9h5.2M1810.3 236.7h5.2M1811.3 247.4h5.2M1812.2 256.5h5.2M1813.2 253.3h5.2M1814.2 245.2h5.2M1815.1 259.4h5.2M1816.1 285.2h5.2M1817.0 278.3h5.2M1818.0 273.1h5.2M1819.0 271.7h5.2M1819.9 285.5h5.2M1820.9 269.6h5.2M1821.8 293.6h5.2M1822.8 293.6h5.2M1823.7 265.5h5.2M1824.7 284.2h5.2M1825.7 273.7h5.2M1826.6 265.2h5.2M1827.6 261.5h5.2M1828.5 295.3h5.2M1829.5 277.1h5.2M1830.5 277.1h5.2M1831.4 269.7h5.2M1832.4 266.0h5.2M1833.3 268.5h5.2M1834.3 249.6h5.2M1835.2 231.0h5.2M1836.2 274.7h5.2M1837.2 290.2h5.2M1838.1 290.9h5.2M1839.1 325.2h5.2M1840.0 290.0h5.2M1841.0 301.5h5.2M1842.0 286.0h5.2M1842.9 277.7h5.2M1843.9 280.6h5.2M1844.8 299.4h5.2M1845.8 303.9h5.2M1846.7 301.6h5.2M1847.7 284.6h5.2M1848.7 289.1h5.2M1849.6 294.8h5.2M1850.6 296.2h5.2M1851.5 271.7h5.2M1852.5 272.5h5.2M1853.5 291.5h5.2M1854.4 318.1h5.2M1855.4 325.5h5.2M1856.3 339.8h5.2M1857.3 343.6h5.2M1858.2 314.1h5.2M1859.2 301.5h5.2M1860.2 300.0h5.2M1861.1 296.5h5.2M1862.1 271.7h5.2M1863.0 304.6h5.2M1864.0 303.5h5.2M1865.0 317.4h5.2M1865.9 319.9h5.2M1866.9 321.8h5.2M1867.8 333.7h5.2M1868.8 325.6h5.2M1869.7 370.2h5.2M1870.7 358.9h5.2M1871.7 341.3h5.2M1872.6 359.9h5.2M1873.6 373.0h5.2M1874.5 328.9h5.2M1875.5 350.6h5.2M1876.5 357.4h5.2M1877.4 373.9h5.2M1878.4 385.3h5.2M1879.3 395.6h5.2M1880.3 435.8h5.2M1881.2 375.1h5.2M1882.2 390.1h5.2M1883.2 380.3h5.2M1884.1 383.4h5.2M1885.1 356.5h5.2M1886.0 350.2h5.2" stroke="#ff1515" stroke-width="5.2"/><path d="M242.5 582.2h5.2M243.5 578.2h5.2M244.4 579.8h5.2M245.4 576.6h5.2M246.3 586.5h5.2M247.3 580.0h5.2M248.2 577.7h5.2M249.2 578.3h5.2M250.2 586.1h5.2M251.1 577.7h5.2M252.1 582.8h5.2M253.0 579.3h5.2M254.0 588.9h5.2M255.0 586.1h5.2M255.9 586.8h5.2M256.9 587.7h5.2M257.8 587.6h5.2M258.8 576.3h5.2M259.7 579.0h5.2M260.7 578.6h5.2M261.7 570.1h5.2M262.6 582.3h5.2M263.6 574.8h5.2M264.5 579.7h5.2M265.5 583.4h5.2M266.5 584.2h5.2M267.4 591.0h5.2M268.4 593.2h5.2M269.3 592.4h5.2M270.3 589.3h5.2M271.2 581.9h5.2M272.2 576.5h5.2M273.2 580.5h5.2M274.1 579.0h5.2M275.1 578.0h5.2M276.0 580.5h5.2M277.0 579.7h5.2M278.0 583.0h5.2M278.9 579.4h5.2M279.9 581.2h5.2M280.8 580.8h5.2M281.8 579.6h5.2M282.7 579.5h5.2M283.7 583.4h5.2M284.7 588.3h5.2M285.6 584.8h5.2M286.6 585.4h5.2M287.5 585.4h5.2M288.5 583.5h5.2M289.5 585.3h5.2M290.4 580.9h5.2M291.4 578.9h5.2M292.3 583.8h5.2M293.3 580.5h5.2M294.2 584.9h5.2M295.2 579.3h5.2M296.2 577.0h5.2M297.1 578.8h5.2M298.1 575.5h5.2M299.0 573.2h5.2M300.0 574.7h5.2M301.0 586.0h5.2M301.9 582.5h5.2M302.9 580.4h5.2M303.8 576.6h5.2M304.8 582.9h5.2M305.7 578.3h5.2M306.7 577.6h5.2M307.7 577.0h5.2M308.6 584.2h5.2M309.6 586.1h5.2M310.5 577.8h5.2M311.5 575.1h5.2M312.5 577.9h5.2M313.4 573.9h5.2M314.4 575.7h5.2M315.3 579.7h5.2M316.3 587.1h5.2M317.2 578.8h5.2M318.2 579.9h5.2M319.2 578.8h5.2M320.1 587.5h5.2M321.1 586.1h5.2M322.0 581.5h5.2M323.0 581.7h5.2M324.0 584.1h5.2M324.9 587.0h5.2M325.9 582.3h5.2M326.8 582.6h5.2M327.8 582.7h5.2M328.7 582.4h5.2M329.7 583.9h5.2M330.7 583.2h5.2M331.6 584.2h5.2M332.6 581.7h5.2M333.5 586.8h5.2M334.5 588.2h5.2M335.5 583.6h5.2M336.4 582.2h5.2M337.4 580.0h5.2M338.3 570.4h5.2M339.3 571.4h5.2M340.2 570.1h5.2M341.2 572.7h5.2M342.2 576.5h5.2M343.1 581.4h5.2M344.1 588.8h5.2M345.0 590.4h5.2M346.0 595.5h5.2M347.0 592.4h5.2M347.9 593.0h5.2M348.9 590.4h5.2M349.8 584.7h5.2M350.8 583.7h5.2M351.7 577.2h5.2M352.7 573.9h5.2M353.7 571.6h5.2M354.6 571.2h5.2M355.6 573.7h5.2M356.5 578.6h5.2M357.5 576.5h5.2M358.5 578.7h5.2M359.4 579.6h5.2M360.4 577.2h5.2M361.3 582.9h5.2M362.3 588.2h5.2M363.2 581.8h5.2M364.2 572.0h5.2M365.2 570.0h5.2M366.1 556.9h5.2M367.1 574.1h5.2M368.0 579.1h5.2M369.0 589.3h5.2M370.0 587.7h5.2M370.9 574.2h5.2M371.9 568.8h5.2M372.8 578.1h5.2M373.8 579.6h5.2M374.7 582.6h5.2M375.7 586.5h5.2M376.7 583.4h5.2M377.6 582.2h5.2M378.6 579.6h5.2M379.5 577.6h5.2M380.5 574.5h5.2M381.5 569.9h5.2M382.4 574.2h5.2M383.4 576.9h5.2M384.3 577.3h5.2M385.3 575.5h5.2M386.2 577.2h5.2M387.2 582.0h5.2M388.2 582.2h5.2M389.1 576.5h5.2M390.1 581.7h5.2M391.0 575.9h5.2M392.0 583.1h5.2M393.0 577.5h5.2M393.9 574.7h5.2M394.9 577.0h5.2M395.8 577.3h5.2M396.8 578.4h5.2M397.7 570.1h5.2M398.7 575.8h5.2M399.7 579.9h5.2M400.6 576.9h5.2M401.6 572.1h5.2M402.5 573.2h5.2M403.5 576.0h5.2M404.5 572.0h5.2M405.4 578.3h5.2M406.4 581.5h5.2M407.3 585.2h5.2M408.3 575.8h5.2M409.2 586.8h5.2M410.2 588.1h5.2M411.2 581.7h5.2M412.1 577.8h5.2M413.1 569.7h5.2M414.0 571.7h5.2M415.0 577.0h5.2M416.0 571.0h5.2M416.9 569.4h5.2M417.9 568.3h5.2M418.8 568.1h5.2M419.8 570.6h5.2M420.7 580.8h5.2M421.7 584.1h5.2M422.7 571.9h5.2M423.6 574.7h5.2M424.6 584.7h5.2M425.5 581.0h5.2M426.5 575.0h5.2M427.5 574.6h5.2M428.4 576.2h5.2M429.4 587.7h5.2M430.3 582.5h5.2M431.3 580.9h5.2M432.2 571.7h5.2M433.2 574.8h5.2M434.2 576.6h5.2M435.1 579.3h5.2M436.1 579.2h5.2M437.0 577.4h5.2M438.0 580.1h5.2M439.0 583.1h5.2M439.9 586.3h5.2M440.9 581.7h5.2M441.8 581.5h5.2M442.8 581.3h5.2M443.7 586.7h5.2M444.7 586.2h5.2M445.7 590.9h5.2M446.6 580.2h5.2M447.6 573.8h5.2M448.5 574.2h5.2M449.5 576.8h5.2M450.5 575.4h5.2M451.4 583.7h5.2M452.4 587.1h5.2M453.3 577.3h5.2M454.3 582.6h5.2M455.2 580.8h5.2M456.2 582.7h5.2M457.2 591.8h5.2M458.1 588.2h5.2M459.1 579.6h5.2M460.0 573.0h5.2M461.0 587.3h5.2M462.0 590.1h5.2M462.9 587.0h5.2M463.9 578.2h5.2M464.8 572.8h5.2M465.8 568.4h5.2M466.7 565.8h5.2M467.7 574.1h5.2M468.7 580.9h5.2M469.6 575.6h5.2M470.6 578.3h5.2M471.5 578.3h5.2M472.5 580.2h5.2M473.5 581.2h5.2M474.4 575.8h5.2M475.4 581.9h5.2M476.3 588.4h5.2M477.3 586.8h5.2M478.2 582.3h5.2M479.2 582.0h5.2M480.2 581.1h5.2M481.1 589.1h5.2M482.1 588.1h5.2M483.0 578.6h5.2M484.0 579.5h5.2M485.0 582.4h5.2M485.9 575.5h5.2M486.9 579.9h5.2M487.8 576.0h5.2M488.8 576.6h5.2M489.7 576.0h5.2M490.7 572.8h5.2M491.7 565.6h5.2M492.6 566.6h5.2M493.6 576.8h5.2M494.5 583.1h5.2M495.5 582.7h5.2M496.5 581.8h5.2M497.4 577.4h5.2M498.4 578.2h5.2M499.3 577.9h5.2M500.3 586.4h5.2M501.2 583.1h5.2M502.2 578.8h5.2M503.2 571.2h5.2M504.1 571.7h5.2M505.1 575.1h5.2M506.0 582.7h5.2M507.0 581.1h5.2M508.0 580.2h5.2M508.9 580.4h5.2M509.9 579.2h5.2M510.8 577.0h5.2M511.8 576.1h5.2M512.7 567.5h5.2M513.7 577.9h5.2M514.7 585.9h5.2M515.6 580.9h5.2M516.6 585.8h5.2M517.5 583.6h5.2M518.5 581.9h5.2M519.5 584.4h5.2M520.4 578.3h5.2M521.4 575.9h5.2M522.3 577.0h5.2M523.3 575.4h5.2M524.2 573.4h5.2M525.2 577.9h5.2M526.2 575.9h5.2M527.1 577.1h5.2M528.1 578.3h5.2M529.0 581.0h5.2M530.0 572.2h5.2M531.0 574.4h5.2M531.9 583.5h5.2M532.9 579.2h5.2M533.8 591.2h5.2M534.8 584.1h5.2M535.7 578.3h5.2M536.7 572.4h5.2M537.7 575.0h5.2M538.6 580.5h5.2M539.6 571.1h5.2M540.5 570.5h5.2M541.5 569.1h5.2M542.5 575.5h5.2M543.4 574.6h5.2M544.4 585.2h5.2M545.3 580.2h5.2M546.3 589.6h5.2M547.2 589.3h5.2M548.2 591.2h5.2M549.2 580.1h5.2M550.1 575.6h5.2M551.1 580.3h5.2M552.0 574.2h5.2M553.0 576.5h5.2M554.0 587.2h5.2M554.9 585.2h5.2M555.9 590.4h5.2M556.8 584.7h5.2M557.8 580.5h5.2M558.7 583.4h5.2M559.7 577.8h5.2M560.7 573.8h5.2M561.6 580.8h5.2M562.6 577.6h5.2M563.5 579.0h5.2M564.5 580.6h5.2M565.5 572.3h5.2M566.4 579.2h5.2M567.4 581.0h5.2M568.3 580.6h5.2M569.3 577.5h5.2M570.2 574.9h5.2M571.2 581.6h5.2M572.2 574.2h5.2M573.1 568.4h5.2M574.1 564.7h5.2M575.0 571.3h5.2M576.0 577.8h5.2M577.0 583.6h5.2M577.9 580.0h5.2M578.9 580.1h5.2M579.8 580.1h5.2M580.8 582.7h5.2M581.7 591.3h5.2M582.7 586.8h5.2M583.7 583.9h5.2M584.6 583.4h5.2M585.6 588.0h5.2M586.5 585.0h5.2M587.5 582.9h5.2M588.5 586.4h5.2M589.4 580.0h5.2M590.4 579.9h5.2M591.3 579.1h5.2M592.3 577.4h5.2M593.2 579.6h5.2M594.2 579.9h5.2M595.2 577.2h5.2M596.1 574.8h5.2M597.1 573.0h5.2M598.0 577.1h5.2M599.0 574.7h5.2M600.0 571.7h5.2M600.9 582.1h5.2M601.9 582.6h5.2M602.8 581.1h5.2M603.8 580.2h5.2M604.7 571.4h5.2M605.7 569.9h5.2M606.7 575.2h5.2M607.6 577.8h5.2M608.6 585.0h5.2M609.5 586.7h5.2M610.5 576.7h5.2M611.5 586.0h5.2M612.4 579.7h5.2M613.4 582.7h5.2M614.3 582.4h5.2M615.3 581.2h5.2M616.2 571.7h5.2M617.2 573.8h5.2M618.2 574.1h5.2M619.1 571.9h5.2M620.1 585.8h5.2M621.0 573.7h5.2M622.0 584.1h5.2M623.0 584.9h5.2M623.9 578.7h5.2M624.9 584.6h5.2M625.8 589.9h5.2M626.8 579.0h5.2M627.7 580.4h5.2M628.7 575.3h5.2M629.7 574.8h5.2M630.6 577.7h5.2M631.6 570.4h5.2M632.5 575.8h5.2M633.5 567.9h5.2M634.5 577.5h5.2M635.4 582.8h5.2M636.4 583.9h5.2M637.3 580.2h5.2M638.3 584.7h5.2M639.2 585.0h5.2M640.2 575.1h5.2M641.2 576.0h5.2M642.1 572.0h5.2M643.1 573.6h5.2M644.0 578.8h5.2M645.0 582.2h5.2M646.0 579.5h5.2M646.9 578.7h5.2M647.9 581.0h5.2M648.8 582.4h5.2M649.8 573.7h5.2M650.7 571.3h5.2M651.7 573.5h5.2M652.7 577.5h5.2M653.6 579.9h5.2M654.6 569.9h5.2M655.5 576.9h5.2M656.5 567.0h5.2M657.5 575.7h5.2M658.4 584.0h5.2M659.4 571.8h5.2M660.3 575.6h5.2M661.3 569.9h5.2M662.2 572.1h5.2M663.2 576.4h5.2M664.2 573.0h5.2M665.1 577.0h5.2M666.1 575.7h5.2M667.0 577.7h5.2M668.0 586.2h5.2M669.0 580.4h5.2M669.9 581.8h5.2M670.9 580.8h5.2M671.8 577.6h5.2M672.8 584.6h5.2M673.7 578.9h5.2M674.7 576.0h5.2M675.7 568.3h5.2M676.6 569.5h5.2M677.6 572.3h5.2M678.5 578.3h5.2M679.5 578.4h5.2M680.5 584.9h5.2M681.4 579.7h5.2M682.4 580.0h5.2M683.3 580.8h5.2M684.3 579.5h5.2M685.2 576.8h5.2M686.2 576.4h5.2M687.2 582.8h5.2M688.1 574.5h5.2M689.1 576.3h5.2M690.0 575.8h5.2M691.0 577.0h5.2M692.0 582.0h5.2M692.9 579.0h5.2M693.9 580.5h5.2M694.8 583.3h5.2M695.8 580.3h5.2M696.7 575.8h5.2M697.7 574.3h5.2M698.7 575.5h5.2M699.6 579.7h5.2M700.6 580.6h5.2M701.5 580.1h5.2M702.5 585.8h5.2M703.5 578.4h5.2M704.4 578.0h5.2M705.4 584.1h5.2M706.3 574.4h5.2M707.3 567.6h5.2M708.2 579.0h5.2M709.2 579.5h5.2M710.2 582.9h5.2M711.1 577.2h5.2M712.1 584.1h5.2M713.0 579.1h5.2M714.0 577.1h5.2M715.0 572.7h5.2M715.9 584.3h5.2M716.9 585.0h5.2M717.8 582.7h5.2M718.8 576.3h5.2M719.7 577.0h5.2M720.7 574.4h5.2M721.7 574.4h5.2M722.6 580.7h5.2M723.6 580.2h5.2M724.5 581.3h5.2M725.5 581.4h5.2M726.5 584.3h5.2M727.4 578.0h5.2M728.4 577.0h5.2M729.3 586.6h5.2M730.3 579.3h5.2M731.2 581.6h5.2M732.2 587.0h5.2M733.2 577.3h5.2M734.1 578.2h5.2M735.1 576.9h5.2M736.0 578.5h5.2M737.0 578.8h5.2M738.0 587.1h5.2M738.9 579.5h5.2M739.9 582.6h5.2M740.8 580.7h5.2M741.8 580.2h5.2M742.7 584.0h5.2M743.7 587.2h5.2M744.7 583.8h5.2M745.6 575.5h5.2M746.6 580.2h5.2M747.5 582.3h5.2M748.5 580.2h5.2M749.5 582.2h5.2M750.4 574.6h5.2M751.4 574.6h5.2M752.3 565.3h5.2M753.3 571.1h5.2M754.2 564.8h5.2M755.2 574.6h5.2M756.2 575.7h5.2M757.1 582.2h5.2M758.1 582.3h5.2M759.0 582.0h5.2M760.0 577.6h5.2M761.0 572.0h5.2M761.9 576.6h5.2M762.9 584.4h5.2M763.8 581.6h5.2M764.8 581.0h5.2M765.7 582.1h5.2M766.7 576.5h5.2M767.7 572.4h5.2M768.6 578.8h5.2M769.6 582.0h5.2M770.5 592.3h5.2M771.5 588.4h5.2M772.5 579.7h5.2M773.4 583.4h5.2M774.4 576.9h5.2M775.3 574.6h5.2M776.3 573.8h5.2M777.2 573.3h5.2M778.2 576.3h5.2M779.2 572.7h5.2M780.1 570.8h5.2M781.1 573.0h5.2M782.0 576.0h5.2M783.0 571.2h5.2M784.0 568.0h5.2M784.9 576.2h5.2M785.9 573.5h5.2M786.8 575.7h5.2M787.8 566.3h5.2M788.7 573.9h5.2M789.7 579.1h5.2M790.7 583.0h5.2M791.6 576.5h5.2M792.6 582.4h5.2M793.5 577.5h5.2M794.5 580.4h5.2M795.5 573.2h5.2M796.4 568.6h5.2M797.4 568.3h5.2M798.3 582.4h5.2M799.3 587.3h5.2M800.2 595.4h5.2M801.2 574.9h5.2M802.2 579.5h5.2M803.1 581.0h5.2M804.1 579.7h5.2M805.0 576.5h5.2M806.0 579.2h5.2M807.0 578.7h5.2M807.9 578.9h5.2M808.9 584.9h5.2M809.8 573.6h5.2M810.8 568.3h5.2M811.7 573.5h5.2M812.7 576.9h5.2M813.7 569.3h5.2M814.6 562.9h5.2M815.6 570.7h5.2M816.5 572.1h5.2M817.5 577.5h5.2M818.5 576.8h5.2M819.4 589.8h5.2M820.4 594.9h5.2M821.3 585.0h5.2M822.3 583.0h5.2M823.2 579.3h5.2M824.2 578.9h5.2M825.2 576.3h5.2M826.1 576.6h5.2M827.1 578.8h5.2M828.0 577.1h5.2M829.0 581.3h5.2M830.0 573.8h5.2M830.9 581.1h5.2M831.9 582.1h5.2M832.8 576.6h5.2M833.8 579.7h5.2M834.7 575.2h5.2M835.7 570.6h5.2M836.7 571.4h5.2M837.6 577.5h5.2M838.6 569.7h5.2M839.5 572.5h5.2M840.5 580.5h5.2M841.5 570.7h5.2M842.4 574.3h5.2M843.4 574.1h5.2M844.3 572.7h5.2M845.3 578.6h5.2M846.2 575.0h5.2M847.2 583.1h5.2M848.2 586.0h5.2M849.1 584.7h5.2M850.1 572.1h5.2M851.0 573.2h5.2M852.0 571.1h5.2M853.0 577.5h5.2M853.9 576.2h5.2M854.9 587.8h5.2M855.8 585.1h5.2M856.8 580.5h5.2M857.7 582.8h5.2M858.7 590.6h5.2M859.7 592.9h5.2M860.6 583.5h5.2M861.6 575.6h5.2M862.5 579.6h5.2M863.5 572.5h5.2M864.5 582.4h5.2M865.4 578.4h5.2M866.4 578.0h5.2M867.3 574.3h5.2M868.3 584.3h5.2M869.2 577.7h5.2M870.2 578.6h5.2M871.2 583.6h5.2M872.1 584.2h5.2M873.1 583.4h5.2M874.0 580.8h5.2M875.0 584.7h5.2M876.0 586.8h5.2M876.9 583.4h5.2M877.9 582.4h5.2M878.8 579.4h5.2M879.8 576.0h5.2M880.7 587.2h5.2M881.7 584.6h5.2M882.7 581.8h5.2M883.6 581.4h5.2M884.6 586.4h5.2M885.5 580.6h5.2M886.5 573.1h5.2M887.5 578.1h5.2M888.4 583.5h5.2M889.4 579.0h5.2M890.3 580.3h5.2M891.3 580.5h5.2M892.2 580.1h5.2M893.2 583.1h5.2M894.2 582.6h5.2M895.1 585.6h5.2M896.1 593.0h5.2M897.0 582.7h5.2M898.0 581.0h5.2M899.0 581.9h5.2M899.9 575.8h5.2M900.9 579.7h5.2M901.8 575.8h5.2M902.8 575.2h5.2M903.7 580.2h5.2M904.7 587.2h5.2M905.7 582.6h5.2M906.6 581.5h5.2M907.6 577.4h5.2M908.5 587.2h5.2M909.5 585.6h5.2M910.5 583.1h5.2M911.4 581.3h5.2M912.4 581.5h5.2M913.3 580.8h5.2M914.3 592.7h5.2M915.2 589.3h5.2M916.2 589.3h5.2M917.2 593.4h5.2M918.1 587.8h5.2M919.1 587.3h5.2M920.0 590.7h5.2M921.0 593.5h5.2M922.0 586.9h5.2M922.9 597.0h5.2M923.9 590.7h5.2M924.8 592.3h5.2M925.8 587.3h5.2M926.7 576.5h5.2M927.7 575.3h5.2M928.7 579.8h5.2M929.6 574.7h5.2M930.6 570.4h5.2M931.5 572.5h5.2M932.5 569.5h5.2M933.5 575.7h5.2M934.4 576.8h5.2M935.4 580.8h5.2M936.3 584.1h5.2M937.3 584.0h5.2M938.2 587.6h5.2M939.2 586.3h5.2M940.2 574.9h5.2M941.1 576.2h5.2M942.1 581.1h5.2M943.0 574.6h5.2M944.0 572.7h5.2M945.0 583.5h5.2M945.9 587.2h5.2M946.9 577.7h5.2M947.8 580.6h5.2M948.8 581.5h5.2M949.7 585.3h5.2M950.7 589.9h5.2M951.7 581.5h5.2M952.6 586.5h5.2M953.6 582.6h5.2M954.5 574.5h5.2M955.5 576.5h5.2M956.5 581.1h5.2M957.4 579.3h5.2M958.4 578.7h5.2M959.3 583.2h5.2M960.3 582.0h5.2M961.2 588.3h5.2M962.2 593.9h5.2M963.2 591.1h5.2M964.1 595.3h5.2M965.1 592.1h5.2M966.0 588.0h5.2M967.0 584.6h5.2M968.0 574.9h5.2M968.9 583.1h5.2M969.9 585.0h5.2M970.8 586.0h5.2M971.8 589.0h5.2M972.7 576.2h5.2M973.7 582.9h5.2M974.7 583.7h5.2M975.6 583.8h5.2M976.6 571.5h5.2M977.5 578.3h5.2M978.5 583.8h5.2M979.5 577.0h5.2M980.4 582.6h5.2M981.4 592.1h5.2M982.3 581.6h5.2M983.3 577.2h5.2M984.2 586.2h5.2M985.2 589.7h5.2M986.2 585.8h5.2M987.1 588.2h5.2M988.1 592.0h5.2M989.0 592.3h5.2M990.0 578.4h5.2M991.0 574.7h5.2M991.9 583.0h5.2M992.9 582.8h5.2M993.8 581.4h5.2M994.8 582.8h5.2M995.7 582.1h5.2M996.7 573.2h5.2M997.7 580.0h5.2M998.6 584.1h5.2M999.6 582.7h5.2M1000.5 585.0h5.2M1001.5 585.1h5.2M1002.5 585.1h5.2M1003.4 587.7h5.2M1004.4 578.6h5.2M1005.3 582.9h5.2M1006.3 575.6h5.2M1007.2 582.3h5.2M1008.2 585.9h5.2M1009.2 582.2h5.2M1010.1 582.8h5.2M1011.1 577.8h5.2M1012.0 576.1h5.2M1013.0 567.5h5.2M1014.0 588.2h5.2M1014.9 589.5h5.2M1015.9 585.3h5.2M1016.8 584.1h5.2M1017.8 582.7h5.2M1018.7 569.4h5.2M1019.7 585.8h5.2M1020.7 580.1h5.2M1021.6 581.5h5.2M1022.6 581.1h5.2M1023.5 575.7h5.2M1024.5 578.5h5.2M1025.5 575.8h5.2M1026.4 572.0h5.2M1027.4 570.6h5.2M1028.3 584.5h5.2M1029.3 585.7h5.2M1030.2 589.4h5.2M1031.2 588.7h5.2M1032.2 585.6h5.2M1033.1 573.2h5.2M1034.1 579.9h5.2M1035.0 581.7h5.2M1036.0 582.0h5.2M1037.0 574.1h5.2M1037.9 580.0h5.2M1038.9 578.1h5.2M1039.8 575.4h5.2M1040.8 575.2h5.2M1041.7 587.6h5.2M1042.7 590.3h5.2M1043.7 582.2h5.2M1044.6 589.9h5.2M1045.6 586.4h5.2M1046.5 590.8h5.2M1047.5 583.8h5.2M1048.5 582.5h5.2M1049.4 589.1h5.2M1050.4 586.1h5.2M1051.3 588.5h5.2M1052.3 587.3h5.2M1053.2 578.1h5.2M1054.2 578.1h5.2M1055.2 577.8h5.2M1056.1 572.0h5.2M1057.1 575.8h5.2M1058.0 572.0h5.2M1059.0 574.5h5.2M1060.0 576.3h5.2M1060.9 580.2h5.2M1061.9 584.4h5.2M1062.8 587.5h5.2M1063.8 588.5h5.2M1064.7 582.1h5.2M1065.7 579.4h5.2M1066.7 584.0h5.2M1067.6 576.4h5.2M1068.6 581.5h5.2M1069.5 582.9h5.2M1070.5 588.2h5.2M1071.5 588.3h5.2M1072.4 580.2h5.2M1073.4 578.3h5.2M1074.3 582.3h5.2M1075.3 575.5h5.2M1076.2 578.2h5.2M1077.2 578.9h5.2M1078.2 574.6h5.2M1079.1 575.3h5.2M1080.1 579.4h5.2M1081.0 584.8h5.2M1082.0 576.4h5.2M1083.0 589.5h5.2M1083.9 587.8h5.2M1084.9 592.3h5.2M1085.8 589.0h5.2M1086.8 580.6h5.2M1087.7 582.0h5.2M1088.7 583.1h5.2M1089.7 581.8h5.2M1090.6 571.7h5.2M1091.6 569.4h5.2M1092.5 573.7h5.2M1093.5 579.9h5.2M1094.5 581.8h5.2M1095.4 579.3h5.2M1096.4 580.8h5.2M1097.3 580.9h5.2M1098.3 585.4h5.2M1099.2 589.1h5.2M1100.2 589.8h5.2M1101.2 583.8h5.2M1102.1 586.3h5.2M1103.1 571.2h5.2M1104.0 573.0h5.2M1105.0 573.4h5.2M1106.0 572.0h5.2M1106.9 580.9h5.2M1107.9 586.0h5.2M1108.8 584.1h5.2M1109.8 579.2h5.2M1110.7 577.0h5.2M1111.7 570.7h5.2M1112.7 568.7h5.2M1113.6 569.3h5.2M1114.6 569.2h5.2M1115.5 573.2h5.2M1116.5 572.3h5.2M1117.5 577.2h5.2M1118.4 580.3h5.2M1119.4 575.5h5.2M1120.3 585.2h5.2M1121.3 575.7h5.2M1122.2 568.8h5.2M1123.2 576.3h5.2M1124.2 574.3h5.2M1125.1 575.9h5.2M1126.1 582.1h5.2M1127.0 578.9h5.2M1128.0 576.5h5.2M1129.0 573.1h5.2M1129.9 577.6h5.2M1130.9 577.7h5.2M1131.8 581.3h5.2M1132.8 575.5h5.2M1133.7 577.8h5.2M1134.7 574.4h5.2M1135.7 580.0h5.2M1136.6 579.0h5.2M1137.6 583.3h5.2M1138.5 584.8h5.2M1139.5 576.8h5.2M1140.5 578.9h5.2M1141.4 579.5h5.2M1142.4 576.0h5.2M1143.3 581.5h5.2M1144.3 571.3h5.2M1145.2 579.0h5.2M1146.2 581.1h5.2M1147.2 570.1h5.2M1148.1 582.8h5.2M1149.1 572.9h5.2M1150.0 574.4h5.2M1151.0 574.6h5.2M1152.0 582.0h5.2M1152.9 580.0h5.2M1153.9 585.8h5.2M1154.8 578.1h5.2M1155.8 580.1h5.2M1156.7 583.0h5.2M1157.7 583.7h5.2M1158.7 582.5h5.2M1159.6 576.7h5.2M1160.6 576.6h5.2M1161.5 581.9h5.2M1162.5 585.1h5.2M1163.5 587.4h5.2M1164.4 580.1h5.2M1165.4 577.9h5.2M1166.3 584.2h5.2M1167.3 589.8h5.2M1168.2 585.4h5.2M1169.2 585.6h5.2M1170.2 580.5h5.2M1171.1 581.0h5.2M1172.1 579.0h5.2M1173.0 576.0h5.2M1174.0 573.4h5.2M1175.0 578.0h5.2M1175.9 576.0h5.2M1176.9 581.0h5.2M1177.8 586.5h5.2M1178.8 582.6h5.2M1179.7 576.1h5.2M1180.7 571.8h5.2M1181.7 576.6h5.2M1182.6 586.8h5.2M1183.6 582.4h5.2M1184.5 582.7h5.2M1185.5 578.9h5.2M1186.5 575.0h5.2M1187.4 580.1h5.2M1188.4 583.9h5.2M1189.3 584.4h5.2M1190.3 586.0h5.2M1191.2 588.2h5.2M1192.2 583.8h5.2M1193.2 586.0h5.2M1194.1 585.0h5.2M1195.1 584.7h5.2M1196.0 585.9h5.2M1197.0 580.9h5.2M1198.0 583.3h5.2M1198.9 582.8h5.2M1199.9 578.4h5.2M1200.8 580.6h5.2M1201.8 587.8h5.2M1202.7 586.9h5.2M1203.7 586.4h5.2M1204.7 581.0h5.2M1205.6 573.6h5.2M1206.6 576.6h5.2M1207.5 579.7h5.2M1208.5 573.8h5.2M1209.5 580.9h5.2M1210.4 579.8h5.2M1211.4 578.4h5.2M1212.3 580.2h5.2M1213.3 581.7h5.2M1214.2 580.8h5.2M1215.2 574.1h5.2M1216.2 575.2h5.2M1217.1 581.1h5.2M1218.1 579.9h5.2M1219.0 576.3h5.2M1220.0 570.6h5.2M1221.0 572.3h5.2M1221.9 576.0h5.2M1222.9 572.3h5.2M1223.8 572.8h5.2M1224.8 576.4h5.2M1225.7 582.0h5.2M1226.7 581.3h5.2M1227.7 577.0h5.2M1228.6 584.1h5.2M1229.6 590.1h5.2M1230.5 583.4h5.2M1231.5 589.5h5.2M1232.5 591.4h5.2M1233.4 587.4h5.2M1234.4 585.5h5.2M1235.3 583.2h5.2M1236.3 581.6h5.2M1237.2 579.1h5.2M1238.2 580.7h5.2M1239.2 584.9h5.2M1240.1 596.2h5.2M1241.1 583.1h5.2M1242.0 578.7h5.2M1243.0 577.2h5.2M1244.0 579.5h5.2M1244.9 584.6h5.2M1245.9 580.9h5.2M1246.8 581.5h5.2M1247.8 587.8h5.2M1248.7 580.0h5.2M1249.7 587.3h5.2M1250.7 586.4h5.2M1251.6 575.9h5.2M1252.6 582.5h5.2M1253.5 581.2h5.2M1254.5 576.5h5.2M1255.5 579.0h5.2M1256.4 586.8h5.2M1257.4 586.5h5.2M1258.3 584.3h5.2M1259.3 589.9h5.2M1260.2 579.1h5.2M1261.2 578.9h5.2M1262.2 577.0h5.2M1263.1 578.1h5.2M1264.1 578.1h5.2M1265.0 581.5h5.2M1266.0 588.4h5.2M1267.0 581.9h5.2M1267.9 581.6h5.2M1268.9 574.4h5.2M1269.8 583.4h5.2M1270.8 581.8h5.2M1271.7 571.7h5.2M1272.7 582.9h5.2M1273.7 587.8h5.2M1274.6 583.7h5.2M1275.6 574.8h5.2M1276.5 583.8h5.2M1277.5 582.4h5.2M1278.5 582.9h5.2M1279.4 584.9h5.2M1280.4 584.5h5.2M1281.3 577.4h5.2M1282.3 578.9h5.2M1283.2 586.4h5.2M1284.2 586.9h5.2M1285.2 583.9h5.2M1286.1 589.3h5.2M1287.1 588.7h5.2M1288.0 587.1h5.2M1289.0 594.1h5.2M1290.0 579.4h5.2M1290.9 588.0h5.2M1291.9 584.6h5.2M1292.8 584.0h5.2M1293.8 585.7h5.2M1294.7 578.1h5.2M1295.7 579.6h5.2M1296.7 584.5h5.2M1297.6 577.7h5.2M1298.6 577.2h5.2M1299.5 584.2h5.2M1300.5 590.0h5.2M1301.5 581.8h5.2M1302.4 582.4h5.2M1303.4 588.8h5.2M1304.3 582.7h5.2M1305.3 588.8h5.2M1306.2 588.5h5.2M1307.2 588.9h5.2M1308.2 594.4h5.2M1309.1 584.8h5.2M1310.1 567.0h5.2M1311.0 571.3h5.2M1312.0 574.6h5.2M1313.0 579.3h5.2M1313.9 580.7h5.2M1314.9 579.8h5.2M1315.8 577.8h5.2M1316.8 582.0h5.2M1317.7 581.5h5.2M1318.7 582.5h5.2M1319.7 579.3h5.2M1320.6 576.0h5.2M1321.6 573.5h5.2M1322.5 579.4h5.2M1323.5 582.6h5.2M1324.5 578.6h5.2M1325.4 581.1h5.2M1326.4 582.0h5.2M1327.3 579.4h5.2M1328.3 578.4h5.2M1329.2 573.5h5.2M1330.2 582.8h5.2M1331.2 576.6h5.2M1332.1 580.9h5.2M1333.1 577.7h5.2M1334.0 585.2h5.2M1335.0 583.6h5.2M1336.0 585.0h5.2M1336.9 574.6h5.2M1337.9 582.0h5.2M1338.8 576.0h5.2M1339.8 582.0h5.2M1340.7 586.5h5.2M1341.7 582.1h5.2M1342.7 576.4h5.2M1343.6 578.7h5.2M1344.6 576.8h5.2M1345.5 577.5h5.2M1346.5 579.3h5.2M1347.5 573.4h5.2M1348.4 576.9h5.2M1349.4 574.6h5.2M1350.3 582.8h5.2M1351.3 582.5h5.2M1352.2 577.0h5.2M1353.2 580.8h5.2M1354.2 590.5h5.2M1355.1 581.9h5.2M1356.1 578.3h5.2M1357.0 580.6h5.2M1358.0 579.9h5.2M1359.0 581.6h5.2M1359.9 579.0h5.2M1360.9 574.4h5.2M1361.8 575.8h5.2M1362.8 578.3h5.2M1363.7 581.4h5.2M1364.7 581.5h5.2M1365.7 583.1h5.2M1366.6 577.0h5.2M1367.6 583.4h5.2M1368.5 584.4h5.2M1369.5 580.5h5.2M1370.5 578.7h5.2M1371.4 578.1h5.2M1372.4 581.0h5.2M1373.3 579.5h5.2M1374.3 586.3h5.2M1375.2 590.1h5.2M1376.2 590.9h5.2M1377.2 583.6h5.2M1378.1 575.3h5.2M1379.1 579.5h5.2M1380.0 582.2h5.2M1381.0 582.3h5.2M1382.0 572.6h5.2M1382.9 575.1h5.2M1383.9 576.9h5.2M1384.8 580.8h5.2M1385.8 577.9h5.2M1386.7 572.7h5.2M1387.7 575.2h5.2M1388.7 581.1h5.2M1389.6 574.2h5.2M1390.6 576.9h5.2M1391.5 569.9h5.2M1392.5 579.5h5.2M1393.5 580.2h5.2M1394.4 578.5h5.2M1395.4 587.1h5.2M1396.3 582.8h5.2M1397.3 578.2h5.2M1398.2 579.4h5.2M1399.2 577.4h5.2M1400.2 577.6h5.2M1401.1 582.4h5.2M1402.1 577.6h5.2M1403.0 582.0h5.2M1404.0 582.2h5.2M1405.0 584.3h5.2M1405.9 579.0h5.2M1406.9 581.5h5.2M1407.8 582.7h5.2M1408.8 591.1h5.2M1409.7 586.7h5.2M1410.7 578.6h5.2M1411.7 588.8h5.2M1412.6 582.5h5.2M1413.6 581.3h5.2M1414.5 588.6h5.2M1415.5 586.1h5.2M1416.5 578.5h5.2M1417.4 579.2h5.2M1418.4 577.9h5.2M1419.3 573.7h5.2M1420.3 578.3h5.2M1421.2 575.0h5.2M1422.2 583.2h5.2M1423.2 585.5h5.2M1424.1 576.0h5.2M1425.1 571.6h5.2M1426.0 571.4h5.2M1427.0 582.5h5.2M1428.0 582.2h5.2M1428.9 585.1h5.2M1429.9 573.6h5.2M1430.8 582.9h5.2M1431.8 587.2h5.2M1432.7 586.3h5.2M1433.7 581.5h5.2M1434.7 583.3h5.2M1435.6 582.9h5.2M1436.6 580.0h5.2M1437.5 579.7h5.2M1438.5 588.4h5.2M1439.5 589.9h5.2M1440.4 577.3h5.2M1441.4 578.3h5.2M1442.3 570.6h5.2M1443.3 568.5h5.2M1444.2 569.0h5.2M1445.2 574.1h5.2M1446.2 569.8h5.2M1447.1 576.8h5.2M1448.1 568.0h5.2M1449.0 571.1h5.2M1450.0 572.6h5.2M1451.0 577.9h5.2M1451.9 581.3h5.2M1452.9 581.5h5.2M1453.8 582.9h5.2M1454.8 585.1h5.2M1455.7 587.2h5.2M1456.7 582.4h5.2M1457.7 575.4h5.2M1458.6 568.3h5.2M1459.6 570.3h5.2M1460.5 575.3h5.2M1461.5 574.4h5.2M1462.5 569.0h5.2M1463.4 573.5h5.2M1464.4 571.7h5.2M1465.3 573.6h5.2M1466.3 575.8h5.2M1467.2 580.1h5.2M1468.2 576.3h5.2M1469.2 581.5h5.2M1470.1 584.9h5.2M1471.1 580.5h5.2M1472.0 575.3h5.2M1473.0 573.0h5.2M1474.0 572.2h5.2M1474.9 577.1h5.2M1475.9 578.7h5.2M1476.8 573.8h5.2M1477.8 567.0h5.2M1478.7 585.5h5.2M1479.7 576.8h5.2M1480.7 577.0h5.2M1481.6 578.4h5.2M1482.6 582.2h5.2M1483.5 583.7h5.2M1484.5 587.0h5.2M1485.5 582.0h5.2M1486.4 585.2h5.2M1487.4 583.1h5.2M1488.3 588.2h5.2M1489.3 578.4h5.2M1490.2 575.8h5.2M1491.2 583.0h5.2M1492.2 579.2h5.2M1493.1 581.2h5.2M1494.1 584.4h5.2M1495.0 581.7h5.2M1496.0 576.8h5.2M1497.0 571.3h5.2M1497.9 574.2h5.2M1498.9 571.6h5.2M1499.8 572.5h5.2M1500.8 572.9h5.2M1501.7 571.8h5.2M1502.7 582.0h5.2M1503.7 582.6h5.2M1504.6 574.2h5.2M1505.6 583.1h5.2M1506.5 585.2h5.2M1507.5 573.8h5.2M1508.5 581.4h5.2M1509.4 580.0h5.2M1510.4 578.6h5.2M1511.3 580.5h5.2M1512.3 575.8h5.2M1513.2 573.8h5.2M1514.2 580.0h5.2M1515.2 571.8h5.2M1516.1 579.6h5.2M1517.1 581.7h5.2M1518.0 581.4h5.2M1519.0 579.7h5.2M1520.0 584.9h5.2M1520.9 581.3h5.2M1521.9 590.8h5.2M1522.8 587.7h5.2M1523.8 588.0h5.2M1524.7 587.3h5.2M1525.7 584.2h5.2M1526.7 581.1h5.2M1527.6 584.1h5.2M1528.6 582.1h5.2M1529.5 588.2h5.2M1530.5 586.0h5.2M1531.5 579.0h5.2M1532.4 582.9h5.2M1533.4 583.1h5.2M1534.3 581.9h5.2M1535.3 577.5h5.2M1536.2 577.3h5.2M1537.2 579.7h5.2M1538.2 584.7h5.2M1539.1 581.5h5.2M1540.1 594.2h5.2M1541.0 585.5h5.2M1542.0 586.4h5.2M1543.0 580.6h5.2M1543.9 580.9h5.2M1544.9 574.6h5.2M1545.8 580.5h5.2M1546.8 589.6h5.2M1547.7 585.0h5.2M1548.7 585.0h5.2M1549.7 583.2h5.2M1550.6 576.5h5.2M1551.6 582.7h5.2M1552.5 578.5h5.2M1553.5 575.5h5.2M1554.5 573.2h5.2M1555.4 586.0h5.2M1556.4 582.6h5.2M1557.3 584.7h5.2M1558.3 583.7h5.2M1559.2 585.8h5.2M1560.2 584.7h5.2M1561.2 578.3h5.2M1562.1 571.6h5.2M1563.1 572.9h5.2M1564.0 582.3h5.2M1565.0 575.7h5.2M1566.0 583.7h5.2M1566.9 583.8h5.2M1567.9 577.0h5.2M1568.8 581.4h5.2M1569.8 577.6h5.2M1570.7 580.2h5.2M1571.7 585.6h5.2M1572.7 582.0h5.2M1573.6 583.6h5.2M1574.6 574.0h5.2M1575.5 568.8h5.2M1576.5 567.4h5.2M1577.5 578.5h5.2M1578.4 570.8h5.2M1579.4 574.1h5.2M1580.3 574.9h5.2M1581.3 576.7h5.2M1582.2 580.9h5.2M1583.2 580.0h5.2M1584.2 576.1h5.2M1585.1 571.1h5.2M1586.1 573.0h5.2M1587.0 576.5h5.2M1588.0 580.5h5.2M1589.0 581.8h5.2M1589.9 573.5h5.2M1590.9 573.7h5.2M1591.8 575.9h5.2M1592.8 585.5h5.2M1593.7 590.9h5.2M1594.7 582.4h5.2M1595.7 578.4h5.2M1596.6 574.1h5.2M1597.6 576.2h5.2M1598.5 581.2h5.2M1599.5 588.5h5.2M1600.5 588.5h5.2M1601.4 594.9h5.2M1602.4 586.2h5.2M1603.3 581.0h5.2M1604.3 574.3h5.2M1605.2 585.6h5.2M1606.2 589.4h5.2M1607.2 582.0h5.2M1608.1 579.6h5.2M1609.1 589.1h5.2M1610.0 588.0h5.2M1611.0 583.7h5.2M1612.0 583.8h5.2M1612.9 580.3h5.2M1613.9 580.2h5.2M1614.8 582.8h5.2M1615.8 579.9h5.2M1616.7 580.5h5.2M1617.7 575.1h5.2M1618.7 584.4h5.2M1619.6 583.5h5.2M1620.6 585.1h5.2M1621.5 583.9h5.2M1622.5 580.3h5.2M1623.5 577.4h5.2M1624.4 588.8h5.2M1625.4 579.3h5.2M1626.3 577.4h5.2M1627.3 576.5h5.2M1628.2 578.2h5.2M1629.2 575.0h5.2M1630.2 575.9h5.2M1631.1 586.5h5.2M1632.1 586.6h5.2M1633.0 584.7h5.2M1634.0 584.3h5.2M1635.0 584.5h5.2M1635.9 579.7h5.2M1636.9 585.3h5.2M1637.8 586.4h5.2M1638.8 588.1h5.2M1639.7 584.5h5.2M1640.7 580.5h5.2M1641.7 584.8h5.2M1642.6 580.9h5.2M1643.6 583.3h5.2M1644.5 575.5h5.2M1645.5 588.4h5.2M1646.5 584.6h5.2M1647.4 577.4h5.2M1648.4 580.7h5.2M1649.3 585.8h5.2M1650.3 587.3h5.2M1651.2 581.4h5.2M1652.2 583.6h5.2M1653.2 577.3h5.2M1654.1 578.7h5.2M1655.1 582.3h5.2M1656.0 583.5h5.2M1657.0 579.9h5.2M1658.0 575.6h5.2M1658.9 581.9h5.2M1659.9 586.7h5.2M1660.8 589.1h5.2M1661.8 582.7h5.2M1662.7 573.2h5.2M1663.7 579.4h5.2M1664.7 576.9h5.2M1665.6 580.6h5.2M1666.6 576.3h5.2M1667.5 585.3h5.2M1668.5 580.2h5.2M1669.5 586.5h5.2M1670.4 587.5h5.2M1671.4 582.5h5.2M1672.3 582.7h5.2M1673.3 582.0h5.2M1674.2 578.9h5.2M1675.2 578.8h5.2M1676.2 572.8h5.2M1677.1 573.2h5.2M1678.1 580.9h5.2M1679.0 581.1h5.2M1680.0 583.4h5.2M1681.0 583.9h5.2M1681.9 574.0h5.2M1682.9 581.0h5.2M1683.8 574.9h5.2M1684.8 570.8h5.2M1685.7 563.1h5.2M1686.7 571.8h5.2M1687.7 575.0h5.2M1688.6 576.5h5.2M1689.6 580.3h5.2M1690.5 572.2h5.2M1691.5 567.3h5.2M1692.5 584.7h5.2M1693.4 584.2h5.2M1694.4 576.9h5.2M1695.3 583.6h5.2M1696.3 585.4h5.2M1697.2 582.9h5.2M1698.2 581.9h5.2M1699.2 582.2h5.2M1700.1 582.1h5.2M1701.1 573.0h5.2M1702.0 587.6h5.2M1703.0 586.5h5.2M1704.0 588.9h5.2M1704.9 583.7h5.2M1705.9 584.3h5.2M1706.8 580.2h5.2M1707.8 580.4h5.2M1708.7 569.7h5.2M1709.7 581.3h5.2M1710.7 583.2h5.2M1711.6 577.8h5.2M1712.6 581.0h5.2M1713.5 580.0h5.2M1714.5 587.4h5.2M1715.5 580.7h5.2M1716.4 581.2h5.2M1717.4 578.2h5.2M1718.3 583.7h5.2M1719.3 584.7h5.2M1720.2 586.6h5.2M1721.2 575.8h5.2M1722.2 586.4h5.2M1723.1 581.4h5.2M1724.1 579.8h5.2M1725.0 574.2h5.2M1726.0 576.0h5.2M1727.0 583.1h5.2M1727.9 579.4h5.2M1728.9 588.0h5.2M1729.8 579.3h5.2M1730.8 580.4h5.2M1731.7 583.9h5.2M1732.7 584.5h5.2M1733.7 579.7h5.2M1734.6 587.9h5.2M1735.6 576.1h5.2M1736.5 581.6h5.2M1737.5 573.8h5.2M1738.5 576.3h5.2M1739.4 569.3h5.2M1740.4 580.5h5.2M1741.3 576.3h5.2M1742.3 578.6h5.2M1743.2 582.4h5.2M1744.2 577.4h5.2M1745.2 579.9h5.2M1746.1 583.5h5.2M1747.1 582.9h5.2M1748.0 585.2h5.2M1749.0 583.8h5.2M1750.0 582.2h5.2M1750.9 576.1h5.2M1751.9 578.6h5.2M1752.8 583.0h5.2M1753.8 578.0h5.2M1754.7 580.8h5.2M1755.7 585.0h5.2M1756.7 588.3h5.2M1757.6 575.9h5.2M1758.6 578.5h5.2M1759.5 571.7h5.2M1760.5 580.5h5.2M1761.5 585.3h5.2M1762.4 574.6h5.2M1763.4 578.5h5.2M1764.3 580.2h5.2M1765.3 581.2h5.2M1766.2 585.5h5.2M1767.2 577.9h5.2M1768.2 584.7h5.2M1769.1 578.8h5.2M1770.1 584.4h5.2M1771.0 569.9h5.2M1772.0 571.5h5.2M1773.0 570.5h5.2M1773.9 583.2h5.2M1774.9 579.9h5.2M1775.8 582.9h5.2M1776.8 585.5h5.2M1777.7 586.6h5.2M1778.7 579.4h5.2M1779.7 579.4h5.2M1780.6 582.0h5.2M1781.6 583.7h5.2M1782.5 584.8h5.2M1783.5 584.8h5.2M1784.5 583.6h5.2M1785.4 587.1h5.2M1786.4 587.7h5.2M1787.3 594.2h5.2M1788.3 587.1h5.2M1789.2 580.7h5.2M1790.2 582.5h5.2M1791.2 574.6h5.2M1792.1 580.7h5.2M1793.1 580.0h5.2M1794.0 574.4h5.2M1795.0 575.8h5.2M1796.0 581.4h5.2M1796.9 578.8h5.2M1797.9 581.1h5.2M1798.8 575.1h5.2M1799.8 573.7h5.2M1800.7 577.7h5.2M1801.7 576.2h5.2M1802.7 569.7h5.2M1803.6 569.4h5.2M1804.6 570.5h5.2M1805.5 575.9h5.2M1806.5 580.5h5.2M1807.5 583.6h5.2M1808.4 576.8h5.2M1809.4 583.3h5.2M1810.3 579.6h5.2M1811.3 572.2h5.2M1812.2 583.4h5.2M1813.2 579.9h5.2M1814.2 584.5h5.2M1815.1 582.8h5.2M1816.1 578.8h5.2M1817.0 584.0h5.2M1818.0 588.1h5.2M1819.0 585.9h5.2M1819.9 581.9h5.2M1820.9 582.7h5.2M1821.8 585.8h5.2M1822.8 579.7h5.2M1823.7 585.1h5.2M1824.7 589.3h5.2M1825.7 584.1h5.2M1826.6 572.0h5.2M1827.6 578.4h5.2M1828.5 579.6h5.2M1829.5 584.6h5.2M1830.5 585.2h5.2M1831.4 588.0h5.2M1832.4 582.7h5.2M1833.3 584.6h5.2M1834.3 586.1h5.2M1835.2 578.7h5.2M1836.2 586.3h5.2M1837.2 578.9h5.2M1838.1 580.4h5.2M1839.1 584.6h5.2M1840.0 582.6h5.2M1841.0 582.7h5.2M1842.0 580.0h5.2M1842.9 581.2h5.2M1843.9 571.9h5.2M1844.8 571.1h5.2M1845.8 570.5h5.2M1846.7 581.1h5.2M1847.7 582.3h5.2M1848.7 575.7h5.2M1849.6 575.2h5.2M1850.6 577.7h5.2M1851.5 579.4h5.2M1852.5 575.0h5.2M1853.5 586.6h5.2M1854.4 587.6h5.2M1855.4 590.5h5.2M1856.3 580.0h5.2M1857.3 586.7h5.2M1858.2 584.8h5.2M1859.2 576.3h5.2M1860.2 579.8h5.2M1861.1 578.8h5.2M1862.1 579.5h5.2M1863.0 576.8h5.2M1864.0 568.3h5.2M1865.0 579.9h5.2M1865.9 580.4h5.2M1866.9 572.7h5.2M1867.8 565.4h5.2M1868.8 574.0h5.2M1869.7 570.8h5.2M1870.7 572.5h5.2M1871.7 573.6h5.2M1872.6 583.7h5.2M1873.6 589.8h5.2M1874.5 584.5h5.2M1875.5 583.2h5.2M1876.5 582.4h5.2M1877.4 587.0h5.2M1878.4 577.1h5.2M1879.3 579.7h5.2M1880.3 567.5h5.2M1881.2 575.2h5.2M1882.2 576.2h5.2M1883.2 574.9h5.2M1884.1 579.4h5.2M1885.1 584.8h5.2M1886.0 585.4h5.2" stroke="#00b040" stroke-width="5.2"/><polyline points="245.1,800.7 246.1,801.8 247.0,799.7 248.0,800.4 248.9,800.7 249.9,800.2 250.8,798.8 251.8,800.0 252.8,800.8 253.7,800.3 254.7,800.0 255.6,797.9 256.6,798.3 257.6,799.3 258.5,800.0 259.5,800.8 260.4,800.0 261.4,800.3 262.3,799.2 263.3,800.5 264.3,801.0 265.2,800.4 266.2,801.3 267.1,800.4 268.1,799.9 269.1,800.0 270.0,802.3 271.0,799.7 271.9,801.6 272.9,802.3 273.8,803.6 274.8,803.2 275.8,805.8 276.7,807.8 277.7,809.0 278.6,810.5 279.6,812.9 280.6,815.8 281.5,815.6 282.5,818.6 283.4,818.3 284.4,819.7 285.3,819.0 286.3,822.0 287.3,821.7 288.2,823.5 289.2,822.3 290.1,822.3 291.1,824.5 292.1,825.2 293.0,826.0 294.0,828.3 294.9,829.4 295.9,830.1 296.8,829.9 297.8,830.6 298.8,834.7 299.7,836.3 300.7,835.3 301.6,836.6 302.6,836.4 303.6,836.8 304.5,837.9 305.5,836.0 306.4,837.5 307.4,838.2 308.3,837.9 309.3,838.4 310.3,837.4 311.2,838.5 312.2,839.5 313.1,840.4 314.1,839.8 315.1,841.5 316.0,841.9 317.0,842.9 317.9,842.9 318.9,844.0 319.8,844.1 320.8,846.5 321.8,844.9 322.7,846.0 323.7,845.5 324.6,844.1 325.6,845.9 326.6,847.4 327.5,847.6 328.5,848.2 329.4,847.2 330.4,848.4 331.3,847.5 332.3,850.7 333.3,851.7 334.2,849.0 335.2,848.6 336.1,847.4 337.1,847.2 338.1,847.2 339.0,846.3 340.0,846.4 340.9,847.3 341.9,846.4 342.8,846.8 343.8,845.8 344.8,845.6 345.7,843.9 346.7,845.3 347.6,843.2 348.6,842.5 349.6,840.6 350.5,841.0 351.5,838.9 352.4,839.1 353.4,839.7 354.3,837.6 355.3,833.8 356.3,835.0 357.2,833.8 358.2,833.2 359.1,833.0 360.1,833.8 361.1,834.0 362.0,833.1 363.0,831.7 363.9,832.5 364.9,833.6 365.8,831.5 366.8,832.9 367.8,831.5 368.7,833.9 369.7,835.0 370.6,833.5 371.6,831.2 372.6,830.9 373.5,830.7 374.5,830.3 375.4,829.3 376.4,828.2 377.3,825.7 378.3,825.4 379.3,825.5 380.2,824.8 381.2,822.4 382.1,823.0 383.1,822.3 384.1,822.7 385.0,822.5 386.0,820.2 386.9,819.7 387.9,819.9 388.8,818.4 389.8,818.4 390.8,817.1 391.7,816.4 392.7,817.2 393.6,816.0 394.6,814.8 395.6,815.9 396.5,814.0 397.5,813.8 398.4,813.9 399.4,816.9 400.3,815.6 401.3,815.5 402.3,814.3 403.2,815.2 404.2,815.8 405.1,813.8 406.1,814.8 407.1,816.4 408.0,817.1 409.0,815.8 409.9,817.5 410.9,815.2 411.8,816.3 412.8,816.2 413.8,814.7 414.7,816.4 415.7,814.8 416.6,814.9 417.6,815.5 418.6,814.0 419.5,815.3 420.5,813.7 421.4,812.0 422.4,812.4 423.3,811.8 424.3,810.1 425.3,809.7 426.2,810.4 427.2,810.1 428.1,807.2 429.1,808.8 430.1,809.2 431.0,809.4 432.0,807.8 432.9,806.9 433.9,807.2 434.8,806.7 435.8,806.8 436.8,806.4 437.7,806.5 438.7,806.2 439.6,806.6 440.6,806.7 441.6,806.2 442.5,805.7 443.5,807.5 444.4,807.2 445.4,806.4 446.3,804.6 447.3,805.2 448.3,804.4 449.2,804.6 450.2,804.1 451.1,805.9 452.1,803.7 453.1,802.1 454.0,803.8 455.0,804.4 455.9,804.8 456.9,801.2 457.8,801.8 458.8,802.2 459.8,801.6 460.7,803.1 461.7,804.2 462.6,805.0 463.6,805.0 464.6,803.4 465.5,803.8 466.5,802.1 467.4,798.1 468.4,798.7 469.3,797.9 470.3,798.6 471.3,799.3 472.2,800.3 473.2,803.1 474.1,802.6 475.1,802.7 476.1,805.0 477.0,806.9 478.0,807.0 478.9,806.4 479.9,805.2 480.8,803.7 481.8,803.4 482.8,802.7 483.7,804.2 484.7,802.9 485.6,803.7 486.6,802.0 487.6,800.3 488.5,800.5 489.5,801.4 490.4,803.5 491.4,801.6 492.3,803.2 493.3,805.2 494.3,805.3 495.2,806.9 496.2,805.9 497.1,806.5 498.1,805.9 499.1,801.8 500.0,800.4 501.0,800.0 501.9,800.0 502.9,799.2 503.8,797.9 504.8,798.0 505.8,797.6 506.7,796.0 507.7,794.8 508.6,794.6 509.6,793.5 510.6,794.5 511.5,794.6 512.5,792.7 513.4,794.3 514.4,792.8 515.3,792.5 516.3,791.1 517.3,789.9 518.2,789.8 519.2,787.6 520.1,787.1 521.1,785.4 522.1,786.4 523.0,786.1 524.0,785.9 524.9,785.7 525.9,786.7 526.8,786.7 527.8,786.2 528.8,785.8 529.7,787.9 530.7,789.0 531.6,788.5 532.6,791.9 533.6,793.6 534.5,795.3 535.5,796.2 536.4,795.0 537.4,798.8 538.3,800.0 539.3,798.8 540.3,798.9 541.2,799.5 542.2,799.3 543.1,800.8 544.1,801.1 545.1,800.6 546.0,801.5 547.0,802.1 547.9,803.1 548.9,804.3 549.8,806.2 550.8,806.5 551.8,806.1 552.7,809.6 553.7,809.3 554.6,811.9 555.6,812.2 556.6,813.2 557.5,812.9 558.5,814.3 559.4,815.0 560.4,816.2 561.3,817.7 562.3,818.0 563.3,819.7 564.2,818.7 565.2,819.2 566.1,821.4 567.1,822.7 568.1,824.2 569.0,825.4 570.0,824.5 570.9,824.5 571.9,824.0 572.8,823.8 573.8,823.5 574.8,823.6 575.7,823.0 576.7,823.2 577.6,824.2 578.6,824.2 579.6,824.8 580.5,823.7 581.5,823.7 582.4,824.6 583.4,823.9 584.3,823.8 585.3,825.5 586.3,825.3 587.2,826.5 588.2,826.4 589.1,826.0 590.1,825.5 591.1,827.7 592.0,827.4 593.0,826.7 593.9,826.1 594.9,826.3 595.8,827.4 596.8,829.5 597.8,828.3 598.7,829.3 599.7,829.7 600.6,826.6 601.6,827.9 602.6,830.8 603.5,829.3 604.5,832.4 605.4,832.6 606.4,831.5 607.3,835.0 608.3,834.5 609.3,836.4 610.2,836.1 611.2,835.0 612.1,836.5 613.1,837.7 614.1,837.6 615.0,835.3 616.0,836.4 616.9,835.0 617.9,835.2 618.8,837.2 619.8,835.2 620.8,838.4 621.7,835.6 622.7,835.0 623.6,837.1 624.6,837.8 625.6,838.8 626.5,839.0 627.5,841.5 628.4,842.5 629.4,843.2 630.3,843.5 631.3,843.6 632.3,845.8 633.2,845.1 634.2,847.2 635.1,849.7 636.1,851.3 637.1,851.5 638.0,850.2 639.0,853.5 639.9,855.6 640.9,856.2 641.8,858.3 642.8,859.4 643.8,857.4 644.7,858.2 645.7,858.3 646.6,860.5 647.6,860.8 648.6,860.1 649.5,860.8 650.5,861.8 651.4,861.0 652.4,861.7 653.3,862.4 654.3,862.8 655.3,863.4 656.2,864.6 657.2,864.0 658.1,864.3 659.1,866.8 660.1,868.7 661.0,870.1 662.0,867.4 662.9,869.6 663.9,869.9 664.8,871.1 665.8,872.5 666.8,874.4 667.7,876.1 668.7,875.2 669.6,878.1 670.6,881.9 671.6,883.5 672.5,883.6 673.5,884.5 674.4,884.8 675.4,886.7 676.3,888.0 677.3,885.7 678.3,886.7 679.2,886.2 680.2,886.6 681.1,885.7 682.1,884.3 683.1,884.1 684.0,883.7 685.0,885.4 685.9,883.5 686.9,884.0 687.8,882.5 688.8,882.0 689.8,882.4 690.7,881.6 691.7,883.5 692.6,883.2 693.6,879.8 694.6,879.8 695.5,880.0 696.5,876.8 697.4,875.9 698.4,876.8 699.3,874.2 700.3,874.1 701.3,872.7 702.2,871.9 703.2,869.8 704.1,870.5 705.1,870.9 706.1,873.7 707.0,873.8 708.0,873.8 708.9,874.1 709.9,875.4 710.8,872.7 711.8,871.7 712.8,870.9 713.7,870.1 714.7,868.3 715.6,869.3 716.6,867.9 717.6,869.1 718.5,867.9 719.5,867.1 720.4,867.4 721.4,867.2 722.3,866.3 723.3,866.6 724.3,867.1 725.2,865.4 726.2,866.4 727.1,865.0 728.1,865.4 729.1,864.4 730.0,863.4 731.0,863.1 731.9,861.1 732.9,859.5 733.8,859.9 734.8,859.3 735.8,857.7 736.7,859.8 737.7,858.2 738.6,856.1 739.6,856.1 740.6,855.6 741.5,853.9 742.5,853.0 743.4,850.7 744.4,851.6 745.3,853.1 746.3,852.3 747.3,851.6 748.2,849.3 749.2,847.7 750.1,848.7 751.1,848.0 752.1,846.8 753.0,845.9 754.0,846.4 754.9,845.8 755.9,844.1 756.8,844.1 757.8,842.7 758.8,842.9 759.7,844.7 760.7,844.3 761.6,843.9 762.6,845.0 763.6,846.3 764.5,844.8 765.5,844.0 766.4,842.6 767.4,843.8 768.3,841.8 769.3,839.4 770.3,836.1 771.2,836.2 772.2,835.5 773.1,834.1 774.1,832.6 775.1,831.9 776.0,830.0 777.0,830.1 777.9,829.5 778.9,828.3 779.8,828.0 780.8,826.2 781.8,827.7 782.7,826.6 783.7,825.5 784.6,827.0 785.6,827.2 786.6,826.3 787.5,825.2 788.5,826.1 789.4,826.9 790.4,827.3 791.3,827.7 792.3,827.7 793.3,825.5 794.2,826.3 795.2,824.6 796.1,826.7 797.1,826.8 798.1,827.3 799.0,826.5 800.0,826.1 800.9,825.5 801.9,823.0 802.8,824.7 803.8,827.9 804.8,827.5 805.7,825.9 806.7,825.8 807.6,825.2 808.6,823.5 809.6,823.1 810.5,822.8 811.5,821.4 812.4,821.4 813.4,821.7 814.3,820.9 815.3,819.6 816.3,818.4 817.2,818.5 818.2,816.9 819.1,815.9 820.1,817.0 821.1,815.3 822.0,813.4 823.0,814.6 823.9,814.4 824.9,813.9 825.8,812.0 826.8,811.9 827.8,810.0 828.7,807.9 829.7,807.4 830.6,807.0 831.6,805.9 832.6,806.4 833.5,807.0 834.5,806.6 835.4,806.9 836.4,806.9 837.3,806.2 838.3,807.0 839.3,807.5 840.2,805.2 841.2,807.5 842.1,811.5 843.1,814.0 844.1,814.2 845.0,817.5 846.0,817.9 846.9,816.7 847.9,815.4 848.8,813.3 849.8,812.1 850.8,809.7 851.7,809.3 852.7,810.5 853.6,807.8 854.6,805.3 855.6,805.6 856.5,802.8 857.5,805.7 858.4,804.5 859.4,802.8 860.3,801.8 861.3,800.5 862.3,800.7 863.2,800.2 864.2,798.1 865.1,799.5 866.1,798.1 867.1,796.6 868.0,797.7 869.0,797.7 869.9,796.4 870.9,795.7 871.8,797.0 872.8,795.8 873.8,795.9 874.7,796.8 875.7,794.5 876.6,793.4 877.6,793.1 878.6,792.9 879.5,793.0 880.5,793.6 881.4,792.0 882.4,793.2 883.3,791.7 884.3,788.7 885.3,789.3 886.2,789.8 887.2,789.9 888.1,788.1 889.1,788.3 890.1,790.5 891.0,789.2 892.0,787.8 892.9,786.8 893.9,787.6 894.8,788.6 895.8,787.4 896.8,789.5 897.7,788.1 898.7,786.6 899.6,789.0 900.6,789.4 901.6,789.6 902.5,791.3 903.5,790.3 904.4,791.6 905.4,791.0 906.3,793.2 907.3,792.6 908.3,792.7 909.2,793.6 910.2,793.5 911.1,794.2 912.1,794.0 913.1,794.7 914.0,794.4 915.0,793.8 915.9,794.8 916.9,795.0 917.8,793.7 918.8,794.1 919.8,792.9 920.7,794.3 921.7,795.5 922.6,797.4 923.6,796.0 924.6,796.4 925.5,797.3 926.5,797.3 927.4,795.3 928.4,796.4 929.3,797.9 930.3,798.7 931.3,799.1 932.2,798.7 933.2,798.1 934.1,800.4 935.1,802.2 936.1,801.9 937.0,803.9 938.0,804.5 938.9,806.1 939.9,807.1 940.8,809.8 941.8,809.9 942.8,811.5 943.7,812.4 944.7,811.8 945.6,810.4 946.6,811.6 947.6,811.4 948.5,810.3 949.5,811.0 950.4,811.1 951.4,812.0 952.3,811.2 953.3,811.5 954.3,812.6 955.2,810.8 956.2,813.4 957.1,813.6 958.1,813.0 959.1,814.2 960.0,815.8 961.0,815.0 961.9,815.2 962.9,817.4 963.8,818.6 964.8,819.6 965.8,818.2 966.7,817.0 967.7,816.8 968.6,817.5 969.6,817.2 970.6,818.7 971.5,820.1 972.5,818.4 973.4,821.3 974.4,821.5 975.3,823.1 976.3,824.2 977.3,827.9 978.2,829.6 979.2,830.4 980.1,828.0 981.1,829.7 982.1,831.3 983.0,829.1 984.0,833.2 984.9,833.1 985.9,834.0 986.8,833.2 987.8,834.4 988.8,835.3 989.7,837.1 990.7,834.5 991.6,837.3 992.6,835.7 993.6,837.0 994.5,837.4 995.5,838.2 996.4,837.4 997.4,839.2 998.3,839.4 999.3,841.0 1000.3,842.5 1001.2,843.2 1002.2,843.6 1003.1,845.3 1004.1,845.0 1005.1,845.4 1006.0,846.5 1007.0,845.7 1007.9,845.9 1008.9,846.7 1009.8,846.3 1010.8,847.9 1011.8,846.8 1012.7,847.1 1013.7,847.5 1014.6,847.7 1015.6,848.2 1016.6,848.2 1017.5,846.3 1018.5,848.9 1019.4,848.1 1020.4,848.8 1021.3,847.2 1022.3,848.2 1023.3,846.6 1024.2,848.6 1025.2,847.6 1026.1,846.9 1027.1,844.2 1028.1,843.9 1029.0,845.3 1030.0,845.5 1030.9,845.2 1031.9,844.9 1032.8,845.9 1033.8,844.6 1034.8,843.9 1035.7,843.1 1036.7,842.2 1037.6,843.0 1038.6,842.2 1039.6,841.7 1040.5,841.9 1041.5,841.4 1042.4,842.1 1043.4,842.6 1044.3,841.2 1045.3,841.5 1046.3,843.5 1047.2,843.2 1048.2,844.3 1049.1,843.5 1050.1,841.8 1051.1,841.3 1052.0,842.5 1053.0,842.9 1053.9,845.6 1054.9,844.7 1055.8,844.8 1056.8,845.8 1057.8,844.2 1058.7,845.8 1059.7,846.7 1060.6,849.5 1061.6,848.4 1062.6,847.0 1063.5,847.5 1064.5,847.0 1065.4,846.7 1066.4,846.4 1067.3,845.9 1068.3,844.5 1069.3,844.0 1070.2,846.0 1071.2,843.5 1072.1,843.4 1073.1,841.5 1074.1,839.9 1075.0,841.5 1076.0,841.8 1076.9,843.2 1077.9,843.6 1078.8,843.2 1079.8,842.3 1080.8,844.9 1081.7,844.3 1082.7,847.6 1083.6,848.4 1084.6,850.0 1085.6,851.3 1086.5,851.3 1087.5,849.5 1088.4,850.6 1089.4,847.1 1090.3,844.7 1091.3,844.9 1092.3,843.3 1093.2,843.6 1094.2,841.8 1095.1,841.7 1096.1,839.9 1097.1,837.8 1098.0,836.8 1099.0,836.7 1099.9,836.6 1100.9,837.5 1101.8,839.5 1102.8,841.5 1103.8,844.1 1104.7,845.1 1105.7,846.8 1106.6,844.2 1107.6,844.1 1108.6,843.2 1109.5,839.0 1110.5,837.3 1111.4,835.2 1112.4,834.0 1113.3,833.3 1114.3,832.7 1115.3,831.8 1116.2,832.2 1117.2,832.7 1118.1,833.7 1119.1,833.5 1120.1,832.4 1121.0,831.7 1122.0,830.6 1122.9,832.3 1123.9,832.1 1124.8,832.5 1125.8,832.6 1126.8,832.4 1127.7,831.5 1128.7,830.7 1129.6,829.4 1130.6,829.0 1131.6,829.6 1132.5,831.1 1133.5,828.8 1134.4,828.3 1135.4,830.6 1136.3,828.1 1137.3,826.8 1138.3,826.7 1139.2,826.3 1140.2,824.5 1141.1,826.4 1142.1,824.4 1143.1,824.8 1144.0,824.1 1145.0,824.1 1145.9,822.8 1146.9,821.5 1147.8,820.5 1148.8,821.4 1149.8,821.1 1150.7,820.7 1151.7,820.0 1152.6,820.2 1153.6,821.2 1154.6,819.9 1155.5,821.1 1156.5,821.4 1157.4,822.8 1158.4,822.8 1159.3,823.6 1160.3,825.6 1161.3,826.9 1162.2,826.2 1163.2,830.6 1164.1,832.0 1165.1,833.4 1166.1,833.9 1167.0,836.1 1168.0,837.2 1168.9,838.6 1169.9,837.4 1170.8,837.2 1171.8,834.0 1172.8,832.8 1173.7,832.3 1174.7,831.4 1175.6,832.7 1176.6,831.3 1177.6,829.0 1178.5,828.5 1179.5,829.7 1180.4,827.5 1181.4,827.1 1182.3,824.3 1183.3,823.0 1184.3,821.8 1185.2,820.1 1186.2,818.7 1187.1,817.3 1188.1,816.5 1189.1,812.3 1190.0,812.8 1191.0,813.2 1191.9,812.6 1192.9,812.9 1193.8,811.5 1194.8,810.4 1195.8,809.4 1196.7,810.4 1197.7,808.3 1198.6,807.7 1199.6,807.2 1200.6,807.0 1201.5,805.4 1202.5,803.6 1203.4,803.8 1204.4,801.6 1205.3,800.6 1206.3,798.4 1207.3,799.3 1208.2,798.9 1209.2,796.4 1210.1,796.5 1211.1,796.7 1212.1,795.1 1213.0,793.0 1214.0,793.3 1214.9,793.5 1215.9,791.0 1216.8,792.7 1217.8,792.2 1218.8,792.8 1219.7,790.9 1220.7,792.1 1221.6,791.7 1222.6,791.8 1223.6,791.0 1224.5,791.5 1225.5,790.4 1226.4,789.6 1227.4,788.6 1228.3,787.7 1229.3,789.3 1230.3,789.7 1231.2,790.3 1232.2,790.6 1233.1,791.5 1234.1,791.7 1235.1,791.4 1236.0,792.9 1237.0,794.9 1237.9,792.6 1238.9,792.3 1239.8,793.2 1240.8,792.2 1241.8,793.6 1242.7,792.4 1243.7,791.5 1244.6,791.5 1245.6,793.4 1246.6,791.1 1247.5,792.4 1248.5,790.7 1249.4,792.8 1250.4,793.1 1251.3,793.4 1252.3,794.8 1253.3,793.1 1254.2,793.7 1255.2,793.4 1256.1,793.6 1257.1,792.0 1258.1,793.2 1259.0,792.2 1260.0,793.5 1260.9,793.4 1261.9,792.5 1262.8,792.7 1263.8,792.7 1264.8,792.7 1265.7,795.2 1266.7,792.8 1267.6,791.7 1268.6,791.6 1269.6,792.8 1270.5,793.5 1271.5,794.6 1272.4,795.4 1273.4,795.1 1274.3,795.1 1275.3,794.2 1276.3,796.0 1277.2,797.3 1278.2,796.7 1279.1,797.8 1280.1,797.3 1281.1,798.1 1282.0,798.9 1283.0,800.3 1283.9,798.5 1284.9,799.4 1285.8,800.4 1286.8,800.2 1287.8,800.4 1288.7,797.5 1289.7,798.2 1290.6,798.8 1291.6,798.6 1292.6,797.1 1293.5,799.8 1294.5,799.9 1295.4,797.8 1296.4,798.6 1297.3,799.3 1298.3,800.4 1299.3,800.4 1300.2,798.8 1301.2,798.7 1302.1,799.5 1303.1,800.4 1304.1,799.4 1305.0,798.9 1306.0,799.9 1306.9,799.7 1307.9,800.9 1308.8,800.4 1309.8,800.7 1310.8,798.0 1311.7,797.8 1312.7,798.1 1313.6,799.4 1314.6,801.2 1315.6,801.5 1316.5,802.8 1317.5,802.3 1318.4,804.3 1319.4,805.1 1320.3,803.3 1321.3,803.8 1322.3,804.8 1323.2,807.7 1324.2,810.1 1325.1,813.1 1326.1,812.2 1327.1,814.9 1328.0,816.8 1329.0,818.5 1329.9,819.0 1330.9,817.1 1331.8,818.8 1332.8,818.7 1333.8,817.8 1334.7,820.1 1335.7,818.8 1336.6,819.3 1337.6,818.5 1338.6,817.5 1339.5,818.2 1340.5,819.4 1341.4,819.0 1342.4,820.8 1343.3,822.9 1344.3,823.5 1345.3,822.7 1346.2,822.5 1347.2,824.2 1348.1,822.5 1349.1,822.4 1350.1,825.1 1351.0,824.7 1352.0,824.7 1352.9,824.1 1353.9,827.0 1354.8,828.2 1355.8,825.5 1356.8,825.7 1357.7,824.8 1358.7,826.4 1359.6,828.6 1360.6,830.0 1361.6,829.8 1362.5,831.2 1363.5,834.8 1364.4,834.9 1365.4,836.3 1366.3,836.7 1367.3,836.4 1368.3,835.6 1369.2,835.9 1370.2,835.6 1371.1,836.4 1372.1,837.2 1373.1,839.4 1374.0,838.0 1375.0,840.0 1375.9,838.6 1376.9,842.9 1377.8,841.3 1378.8,841.6 1379.8,843.3 1380.7,842.0 1381.7,842.0 1382.6,842.1 1383.6,842.6 1384.6,841.8 1385.5,843.9 1386.5,844.0 1387.4,843.3 1388.4,844.4 1389.3,843.6 1390.3,843.2 1391.3,843.6 1392.2,844.6 1393.2,843.1 1394.1,844.0 1395.1,845.3 1396.1,844.3 1397.0,845.6 1398.0,844.4 1398.9,845.1 1399.9,845.0 1400.8,845.2 1401.8,844.1 1402.8,842.4 1403.7,841.1 1404.7,846.8 1405.6,843.3 1406.6,842.7 1407.6,841.6 1408.5,843.8 1409.5,843.1 1410.4,842.5 1411.4,839.7 1412.3,840.4 1413.3,838.3 1414.3,839.1 1415.2,837.4 1416.2,834.1 1417.1,834.8 1418.1,833.9 1419.1,836.4 1420.0,833.1 1421.0,832.7 1421.9,832.2 1422.9,831.1 1423.8,830.4 1424.8,830.5 1425.8,830.5 1426.7,829.4 1427.7,828.7 1428.6,828.9 1429.6,827.9 1430.6,828.3 1431.5,828.6 1432.5,829.6 1433.4,829.5 1434.4,829.2 1435.3,829.5 1436.3,827.8 1437.3,829.2 1438.2,828.0 1439.2,827.8 1440.1,827.5 1441.1,828.3 1442.1,826.9 1443.0,827.4 1444.0,826.3 1444.9,825.5 1445.9,825.9 1446.8,824.4 1447.8,825.7 1448.8,823.9 1449.7,823.3 1450.7,824.4 1451.6,821.9 1452.6,824.0 1453.6,824.5 1454.5,825.2 1455.5,826.1 1456.4,825.8 1457.4,828.8 1458.3,829.2 1459.3,829.3 1460.3,828.2 1461.2,827.2 1462.2,825.4 1463.1,822.8 1464.1,820.8 1465.1,819.3 1466.0,818.8 1467.0,819.2 1467.9,816.7 1468.9,816.6 1469.8,817.0 1470.8,815.9 1471.8,815.2 1472.7,813.9 1473.7,814.3 1474.6,813.3 1475.6,812.4 1476.6,812.9 1477.5,813.9 1478.5,814.9 1479.4,813.3 1480.4,814.5 1481.3,813.5 1482.3,812.5 1483.3,813.6 1484.2,814.7 1485.2,815.1 1486.1,815.7 1487.1,813.8 1488.1,815.9 1489.0,815.2 1490.0,814.2 1490.9,811.0 1491.9,811.4 1492.8,809.9 1493.8,808.8 1494.8,808.5 1495.7,807.6 1496.7,810.2 1497.6,811.3 1498.6,811.7 1499.6,812.8 1500.5,810.4 1501.5,811.4 1502.4,811.3 1503.4,809.9 1504.3,811.2 1505.3,812.9 1506.3,809.6 1507.2,809.9 1508.2,809.2 1509.1,808.7 1510.1,808.2 1511.1,808.2 1512.0,807.9 1513.0,808.7 1513.9,811.6 1514.9,811.3 1515.8,809.4 1516.8,806.1 1517.8,806.2 1518.7,805.2 1519.7,803.5 1520.6,803.2 1521.6,800.1 1522.6,802.0 1523.5,800.3 1524.5,800.3 1525.4,799.5 1526.4,802.0 1527.3,801.9 1528.3,801.6 1529.3,802.0 1530.2,800.2 1531.2,801.1 1532.1,802.2 1533.1,801.8 1534.1,802.3 1535.0,801.0 1536.0,801.8 1536.9,801.2 1537.9,801.2 1538.8,802.2 1539.8,800.7 1540.8,799.3 1541.7,799.5 1542.7,797.7 1543.6,799.4 1544.6,797.9 1545.6,797.1 1546.5,796.9 1547.5,794.7 1548.4,794.8 1549.4,794.3 1550.3,796.0 1551.3,795.4 1552.3,795.2 1553.2,793.0 1554.2,792.2 1555.1,793.1 1556.1,791.8 1557.1,791.2 1558.0,793.5 1559.0,793.3 1559.9,793.3 1560.9,791.3 1561.8,792.0 1562.8,792.2 1563.8,792.1 1564.7,793.0 1565.7,792.0 1566.6,791.4 1567.6,794.2 1568.6,793.5 1569.5,791.8 1570.5,794.3 1571.4,793.5 1572.4,793.0 1573.3,789.9 1574.3,793.0 1575.3,792.6 1576.2,793.4 1577.2,794.1 1578.1,791.4 1579.1,793.6 1580.1,793.2 1581.0,792.9 1582.0,790.9 1582.9,794.7 1583.9,794.6 1584.8,795.2 1585.8,794.0 1586.8,795.7 1587.7,796.5 1588.7,798.0 1589.6,796.5 1590.6,795.9 1591.6,798.0 1592.5,799.1 1593.5,801.5 1594.4,802.4 1595.4,802.5 1596.3,803.4 1597.3,803.9 1598.3,802.3 1599.2,800.1 1600.2,800.8 1601.1,800.7 1602.1,800.6 1603.1,800.3 1604.0,800.3 1605.0,798.8 1605.9,801.3 1606.9,802.3 1607.8,802.8 1608.8,802.8 1609.8,804.1 1610.7,802.4 1611.7,803.7 1612.6,805.1 1613.6,804.8 1614.6,805.5 1615.5,807.0 1616.5,806.7 1617.4,806.2 1618.4,806.7 1619.3,807.6 1620.3,806.5 1621.3,807.3 1622.2,807.2 1623.2,807.6 1624.1,808.5 1625.1,808.7 1626.1,808.2 1627.0,808.3 1628.0,808.9 1628.9,807.6 1629.9,808.2 1630.8,807.2 1631.8,809.2 1632.8,808.8 1633.7,807.4 1634.7,807.8 1635.6,809.2 1636.6,809.3 1637.6,807.6 1638.5,810.4 1639.5,809.9 1640.4,810.0 1641.4,809.5 1642.3,809.0 1643.3,808.3 1644.3,809.8 1645.2,810.2 1646.2,810.2 1647.1,811.2 1648.1,811.2 1649.1,810.2 1650.0,811.0 1651.0,813.1 1651.9,811.8 1652.9,815.1 1653.8,814.0 1654.8,817.1 1655.8,816.4 1656.7,814.7 1657.7,816.5 1658.6,817.1 1659.6,817.1 1660.6,817.9 1661.5,818.5 1662.5,815.9 1663.4,819.2 1664.4,819.5 1665.3,820.3 1666.3,821.5 1667.3,821.5 1668.2,820.7 1669.2,822.9 1670.1,822.8 1671.1,823.8 1672.1,823.6 1673.0,824.5 1674.0,824.4 1674.9,827.2 1675.9,825.9 1676.8,827.9 1677.8,826.1 1678.8,827.8 1679.7,828.1 1680.7,829.6 1681.6,829.6 1682.6,831.8 1683.6,833.3 1684.5,830.8 1685.5,831.4 1686.4,830.3 1687.4,830.7 1688.3,832.6 1689.3,834.9 1690.3,836.2 1691.2,836.7 1692.2,838.9 1693.1,838.3 1694.1,839.2 1695.1,841.1 1696.0,840.9 1697.0,844.8 1697.9,845.6 1698.9,846.6 1699.8,848.7 1700.8,848.6 1701.8,850.7 1702.7,850.9 1703.7,853.2 1704.6,854.6 1705.6,856.8 1706.6,856.5 1707.5,858.2 1708.5,857.9 1709.4,856.8 1710.4,859.2 1711.3,859.8 1712.3,859.9 1713.3,861.7 1714.2,860.2 1715.2,860.5 1716.1,861.7 1717.1,862.2 1718.1,861.0 1719.0,861.6 1720.0,861.6 1720.9,862.2 1721.9,861.6 1722.8,859.7 1723.8,860.8 1724.8,863.0 1725.7,861.5 1726.7,861.7 1727.6,863.7 1728.6,865.2 1729.6,866.3 1730.5,869.1 1731.5,871.2 1732.4,871.7 1733.4,872.1 1734.3,871.0 1735.3,870.5 1736.3,870.6 1737.2,871.5 1738.2,871.9 1739.1,871.4 1740.1,872.8 1741.1,872.7 1742.0,872.1 1743.0,872.8 1743.9,873.5 1744.9,873.9 1745.8,873.4 1746.8,875.3 1747.8,876.9 1748.7,877.3 1749.7,877.5 1750.6,877.4 1751.6,876.9 1752.6,874.4 1753.5,876.5 1754.5,875.3 1755.4,876.4 1756.4,874.5 1757.3,872.8 1758.3,873.4 1759.3,872.5 1760.2,872.7 1761.2,870.7 1762.1,869.4 1763.1,868.1 1764.1,867.1 1765.0,867.2 1766.0,864.9 1766.9,864.9 1767.9,865.4 1768.8,863.6 1769.8,863.7 1770.8,863.0 1771.7,863.1 1772.7,863.5 1773.6,864.1 1774.6,864.3 1775.6,862.8 1776.5,863.5 1777.5,862.4 1778.4,861.4 1779.4,861.2 1780.3,860.1 1781.3,861.5 1782.3,859.7 1783.2,860.4 1784.2,862.3 1785.1,858.9 1786.1,856.2 1787.1,857.1 1788.0,855.4 1789.0,855.3 1789.9,854.6 1790.9,854.1 1791.8,855.3 1792.8,853.2 1793.8,851.9 1794.7,850.8 1795.7,849.4 1796.6,848.6 1797.6,847.5 1798.6,848.6 1799.5,847.5 1800.5,847.5 1801.4,846.7 1802.4,847.9 1803.3,845.6 1804.3,845.1 1805.3,843.4 1806.2,844.1 1807.2,842.5 1808.1,842.3 1809.1,842.1 1810.1,844.6 1811.0,847.2 1812.0,848.5 1812.9,847.4 1813.9,849.7 1814.8,849.6 1815.8,847.7 1816.8,846.6 1817.7,848.0 1818.7,846.1 1819.6,844.0 1820.6,844.1 1821.6,843.4 1822.5,841.8 1823.5,841.3 1824.4,839.6 1825.4,840.4 1826.3,839.9 1827.3,838.6 1828.3,838.3 1829.2,838.3 1830.2,837.0 1831.1,836.9 1832.1,835.6 1833.1,834.3 1834.0,831.8 1835.0,830.9 1835.9,830.2 1836.9,830.4 1837.8,832.2 1838.8,828.6 1839.8,827.4 1840.7,825.5 1841.7,826.1 1842.6,827.1 1843.6,828.7 1844.6,827.6 1845.5,829.5 1846.5,830.3 1847.4,830.4 1848.4,830.1 1849.3,831.4 1850.3,833.6 1851.3,836.0 1852.2,837.1 1853.2,837.4 1854.1,837.0 1855.1,834.9 1856.1,835.2 1857.0,836.6 1858.0,832.9 1858.9,832.5 1859.9,829.7 1860.8,829.1 1861.8,828.6 1862.8,828.3 1863.7,826.3 1864.7,826.2 1865.6,822.9 1866.6,822.1 1867.6,821.5 1868.5,821.5 1869.5,821.2 1870.4,822.8 1871.4,821.0 1872.3,821.7 1873.3,821.2 1874.3,822.5 1875.2,820.6 1876.2,820.8 1877.1,820.5 1878.1,816.7 1879.1,818.9 1880.0,819.4 1881.0,819.4 1881.9,816.4 1882.9,815.7 1883.8,816.2 1884.8,813.6 1885.8,812.5 1886.7,812.9 1887.7,812.5 1888.6,812.4" stroke="#0380be" stroke-width="4.6" stroke-linejoin="round"/><path d="M242.7 1405.0h4.8M243.7 1350.2h4.8M244.6 1408.5h4.8M246.5 1368.1h4.8M247.5 1262.6h4.8M249.4 1332.7h4.8M250.4 1382.8h4.8M251.3 1290.4h4.8M252.3 1354.7h4.8M254.2 1379.1h4.8M255.2 1429.5h4.8M256.1 1434.3h4.8M258.0 1416.6h4.8M259.9 1370.0h4.8M261.9 1305.1h4.8M263.8 1352.6h4.8M264.7 1326.1h4.8M265.7 1343.5h4.8M266.7 1324.0h4.8M267.6 1340.0h4.8M268.6 1360.6h4.8M269.5 1336.8h4.8M270.5 1255.2h4.8M271.4 1307.1h4.8M272.4 1308.1h4.8M273.4 1363.2h4.8M274.3 1347.8h4.8M275.3 1300.8h4.8M276.2 1306.7h4.8M277.2 1241.4h4.8M279.1 1263.6h4.8M280.1 1265.4h4.8M281.0 1234.4h4.8M282.0 1236.3h4.8M282.9 1259.8h4.8M283.9 1331.5h4.8M284.9 1225.3h4.8M285.8 1235.6h4.8M286.8 1239.6h4.8M287.7 1282.8h4.8M288.7 1217.4h4.8M289.7 1257.9h4.8M290.6 1270.8h4.8M291.6 1372.3h4.8M292.5 1351.9h4.8M293.5 1332.3h4.8M294.4 1306.4h4.8M295.4 1284.9h4.8M296.4 1317.2h4.8M297.3 1281.6h4.8M298.3 1314.8h4.8M299.2 1340.5h4.8M300.2 1347.3h4.8M301.2 1422.6h4.8M302.1 1471.3h4.8M303.1 1331.9h4.8M304.0 1423.5h4.8M305.0 1421.7h4.8M305.9 1380.9h4.8M306.9 1414.9h4.8M307.9 1361.3h4.8M309.8 1430.1h4.8M310.7 1389.1h4.8M311.7 1317.8h4.8M312.7 1318.4h4.8M313.6 1401.8h4.8M314.6 1372.1h4.8M315.5 1377.1h4.8M316.5 1439.4h4.8M317.4 1437.2h4.8M318.4 1373.7h4.8M319.4 1398.8h4.8M321.3 1424.3h4.8M322.2 1447.2h4.8M323.2 1468.5h4.8M325.1 1370.9h4.8M326.1 1331.2h4.8M327.0 1414.4h4.8M328.0 1436.6h4.8M328.9 1386.5h4.8M329.9 1376.6h4.8M331.8 1432.0h4.8M333.7 1444.2h4.8M334.7 1341.6h4.8M335.7 1338.5h4.8M336.6 1397.1h4.8M338.5 1390.5h4.8M339.5 1348.0h4.8M340.4 1342.9h4.8M341.4 1365.6h4.8M343.3 1387.3h4.8M344.3 1372.3h4.8M345.2 1362.5h4.8M346.2 1419.7h4.8M347.2 1428.0h4.8M348.1 1364.3h4.8M350.0 1365.8h4.8M351.0 1317.3h4.8M351.9 1297.5h4.8M352.9 1278.1h4.8M353.9 1317.0h4.8M354.8 1324.2h4.8M356.7 1331.6h4.8M357.7 1361.5h4.8M358.7 1386.0h4.8M360.6 1266.2h4.8M361.5 1371.5h4.8M362.5 1351.3h4.8M363.4 1302.2h4.8M365.4 1283.4h4.8M366.3 1340.2h4.8M367.3 1303.5h4.8M368.2 1223.1h4.8M369.2 1270.0h4.8M370.2 1273.7h4.8M372.1 1328.3h4.8M373.0 1273.8h4.8M374.0 1222.5h4.8M374.9 1216.6h4.8M376.9 1261.9h4.8M377.8 1274.4h4.8M378.8 1302.3h4.8M379.7 1280.7h4.8M380.7 1296.2h4.8M381.7 1254.5h4.8M382.6 1239.4h4.8M383.6 1244.3h4.8M384.5 1237.7h4.8M385.5 1216.4h4.8M386.4 1260.7h4.8M387.4 1205.4h4.8M388.4 1202.7h4.8M389.3 1185.0h4.8M390.3 1214.0h4.8M391.2 1220.9h4.8M393.2 1204.4h4.8M394.1 1229.0h4.8M395.1 1233.7h4.8M397.9 1251.5h4.8M398.9 1263.5h4.8M399.9 1274.1h4.8M400.8 1187.6h4.8M401.8 1233.5h4.8M403.7 1269.5h4.8M404.7 1241.6h4.8M405.6 1190.5h4.8M406.6 1243.5h4.8M407.5 1237.1h4.8M408.5 1245.4h4.8M409.4 1214.0h4.8M410.4 1242.4h4.8M411.4 1259.1h4.8M412.3 1276.0h4.8M413.3 1346.4h4.8M414.2 1265.9h4.8M415.2 1213.3h4.8M416.2 1291.4h4.8M418.1 1279.1h4.8M419.0 1232.5h4.8M420.0 1292.8h4.8M420.9 1283.9h4.8M421.9 1250.0h4.8M422.9 1265.2h4.8M423.8 1288.0h4.8M425.7 1334.7h4.8M426.7 1320.2h4.8M427.7 1360.5h4.8M429.6 1287.4h4.8M430.5 1317.6h4.8M431.5 1381.4h4.8M432.4 1310.0h4.8M433.4 1276.4h4.8M434.4 1296.1h4.8M435.3 1286.7h4.8M436.3 1280.1h4.8M437.2 1312.1h4.8M438.2 1334.7h4.8M439.2 1334.4h4.8M440.1 1286.5h4.8M441.1 1331.9h4.8M442.0 1387.1h4.8M443.0 1343.3h4.8M443.9 1326.0h4.8M444.9 1329.7h4.8M445.9 1323.0h4.8M446.8 1371.3h4.8M447.8 1372.9h4.8M448.7 1355.6h4.8M449.7 1335.9h4.8M450.7 1302.9h4.8M452.6 1293.3h4.8M453.5 1307.1h4.8M454.5 1349.5h4.8M455.4 1342.6h4.8M457.4 1366.0h4.8M458.3 1313.9h4.8M459.3 1285.9h4.8M460.2 1332.1h4.8M461.2 1272.9h4.8M462.2 1383.0h4.8M463.1 1317.6h4.8M464.1 1315.4h4.8M465.0 1316.5h4.8M466.0 1293.4h4.8M466.9 1309.2h4.8M467.9 1219.9h4.8M468.9 1281.5h4.8M469.8 1306.2h4.8M471.7 1366.0h4.8M472.7 1324.5h4.8M473.7 1350.5h4.8M474.6 1254.7h4.8M475.6 1274.0h4.8M477.5 1322.3h4.8M478.4 1210.6h4.8M479.4 1306.6h4.8M480.4 1331.5h4.8M481.3 1315.5h4.8M482.3 1364.2h4.8M483.2 1351.6h4.8M484.2 1309.6h4.8M485.2 1239.7h4.8M486.1 1204.3h4.8M487.1 1280.0h4.8M488.0 1290.0h4.8M489.0 1252.5h4.8M492.8 1299.3h4.8M493.8 1293.2h4.8M494.7 1302.9h4.8M495.7 1231.2h4.8M496.7 1271.4h4.8M497.6 1233.3h4.8M498.6 1243.5h4.8M499.5 1146.5h4.8M500.5 1156.7h4.8M501.4 1295.8h4.8M502.4 1257.5h4.8M503.4 1339.8h4.8M504.3 1244.3h4.8M505.3 1263.8h4.8M506.2 1337.8h4.8M507.2 1311.4h4.8M508.2 1270.7h4.8M509.1 1189.6h4.8M510.1 1205.9h4.8M511.0 1200.2h4.8M512.0 1237.3h4.8M512.9 1244.0h4.8M513.9 1290.8h4.8M514.9 1268.1h4.8M516.8 1233.2h4.8M517.7 1252.4h4.8M519.7 1236.4h4.8M520.6 1215.2h4.8M521.6 1247.6h4.8M522.5 1261.5h4.8M523.5 1281.3h4.8M524.4 1279.0h4.8M525.4 1263.6h4.8M526.4 1285.6h4.8M528.3 1189.0h4.8M529.2 1210.4h4.8M530.2 1201.9h4.8M531.2 1277.4h4.8M532.1 1290.0h4.8M533.1 1289.2h4.8M534.0 1265.9h4.8M535.0 1227.6h4.8M535.9 1208.2h4.8M537.9 1259.7h4.8M538.8 1208.7h4.8M539.8 1247.0h4.8M540.7 1238.2h4.8M541.7 1316.5h4.8M542.7 1279.6h4.8M543.6 1273.2h4.8M544.6 1343.3h4.8M546.5 1213.7h4.8M548.4 1262.6h4.8M549.4 1277.6h4.8M550.3 1302.3h4.8M551.3 1264.5h4.8M552.2 1258.2h4.8M553.2 1214.8h4.8M554.2 1251.6h4.8M555.1 1230.5h4.8M556.1 1266.5h4.8M557.0 1299.4h4.8M558.0 1289.3h4.8M558.9 1317.5h4.8M559.9 1333.3h4.8M560.9 1277.2h4.8M561.8 1256.8h4.8M562.8 1305.1h4.8M563.7 1334.4h4.8M564.7 1329.9h4.8M565.7 1354.5h4.8M566.6 1310.5h4.8M567.6 1336.5h4.8M568.5 1387.1h4.8M569.5 1391.1h4.8M570.4 1349.7h4.8M571.4 1281.4h4.8M572.4 1315.0h4.8M573.3 1404.2h4.8M574.3 1424.0h4.8M575.2 1395.2h4.8M576.2 1403.6h4.8M577.2 1401.3h4.8M578.1 1329.0h4.8M579.1 1415.9h4.8M581.0 1429.3h4.8M581.9 1416.8h4.8M582.9 1402.7h4.8M583.9 1373.2h4.8M584.8 1395.5h4.8M585.8 1356.3h4.8M587.7 1375.5h4.8M588.7 1461.5h4.8M589.6 1459.7h4.8M590.6 1440.7h4.8M592.5 1425.8h4.8M593.4 1451.3h4.8M594.4 1452.3h4.8M595.4 1359.2h4.8M597.3 1425.2h4.8M599.2 1354.1h4.8M600.2 1357.4h4.8M601.1 1396.2h4.8M602.1 1367.1h4.8M603.0 1335.0h4.8M604.0 1388.5h4.8M604.9 1463.9h4.8M605.9 1474.0h4.8M606.9 1421.6h4.8M607.8 1439.0h4.8M608.8 1403.5h4.8M609.7 1343.4h4.8M610.7 1351.3h4.8M611.7 1281.9h4.8M612.6 1346.4h4.8M613.6 1420.5h4.8M614.5 1390.0h4.8M615.5 1349.8h4.8M616.4 1419.4h4.8M617.4 1368.1h4.8M618.4 1296.9h4.8M619.3 1321.0h4.8M620.3 1270.3h4.8M621.2 1385.1h4.8M622.2 1349.2h4.8M623.2 1414.5h4.8M624.1 1449.6h4.8M625.1 1450.4h4.8M626.0 1345.7h4.8M627.9 1286.1h4.8M628.9 1355.9h4.8M631.8 1381.5h4.8M632.7 1429.5h4.8M633.7 1358.5h4.8M634.7 1323.5h4.8M635.6 1373.8h4.8M636.6 1362.4h4.8M637.5 1348.0h4.8M640.4 1377.6h4.8M641.4 1309.4h4.8M642.3 1379.6h4.8M645.2 1328.9h4.8M646.2 1347.7h4.8M648.1 1342.8h4.8M649.0 1345.3h4.8M650.0 1439.6h4.8M651.9 1373.8h4.8M652.9 1343.1h4.8M653.8 1247.1h4.8M654.8 1276.1h4.8M655.7 1379.1h4.8M656.7 1356.9h4.8M657.7 1387.5h4.8M658.6 1310.5h4.8M659.6 1451.4h4.8M660.5 1356.8h4.8M661.5 1335.4h4.8M662.4 1342.5h4.8M663.4 1322.9h4.8M664.4 1263.1h4.8M665.3 1386.8h4.8M666.3 1376.9h4.8M667.2 1365.4h4.8M668.2 1362.4h4.8M669.2 1376.5h4.8M670.1 1356.6h4.8M671.1 1365.3h4.8M672.0 1383.9h4.8M673.0 1456.5h4.8M673.9 1388.3h4.8M674.9 1331.0h4.8M675.9 1323.2h4.8M676.8 1350.3h4.8M678.7 1420.0h4.8M679.7 1360.3h4.8M680.7 1355.6h4.8M682.6 1327.4h4.8M683.5 1355.5h4.8M684.5 1372.0h4.8M686.4 1446.4h4.8M687.4 1403.9h4.8M688.3 1292.4h4.8M689.3 1245.4h4.8M691.2 1313.3h4.8M692.2 1255.6h4.8M693.1 1332.6h4.8M694.1 1349.9h4.8M695.0 1397.0h4.8M696.0 1294.4h4.8M696.9 1330.3h4.8M697.9 1335.4h4.8M698.9 1321.3h4.8M699.8 1339.2h4.8M700.8 1210.6h4.8M701.7 1218.4h4.8M702.7 1188.3h4.8M703.7 1335.3h4.8M704.6 1290.3h4.8M705.6 1312.2h4.8M706.5 1355.1h4.8M707.5 1322.4h4.8M708.4 1237.6h4.8M709.4 1216.5h4.8M710.4 1266.8h4.8M711.3 1144.6h4.8M713.2 1256.1h4.8M714.2 1295.1h4.8M715.2 1298.9h4.8M716.1 1271.3h4.8M717.1 1276.3h4.8M718.0 1283.1h4.8M719.0 1212.2h4.8M719.9 1243.6h4.8M720.9 1227.9h4.8M721.9 1252.6h4.8M722.8 1250.5h4.8M723.8 1186.5h4.8M724.7 1210.4h4.8M725.7 1190.7h4.8M727.6 1169.7h4.8M728.6 1193.3h4.8M729.5 1155.7h4.8M730.5 1240.0h4.8M731.4 1171.6h4.8M732.4 1173.3h4.8M733.4 1221.4h4.8M734.3 1229.9h4.8M735.3 1279.9h4.8M736.2 1228.8h4.8M737.2 1189.1h4.8M738.2 1205.1h4.8M739.1 1148.4h4.8M740.1 1253.0h4.8M741.0 1216.9h4.8M742.0 1244.9h4.8M743.9 1163.2h4.8M744.9 1171.6h4.8M745.8 1117.9h4.8M746.8 1165.1h4.8M747.7 1199.2h4.8M748.7 1194.0h4.8M749.7 1240.1h4.8M750.6 1235.3h4.8M751.6 1199.0h4.8M752.5 1145.1h4.8M753.5 1197.4h4.8M754.4 1218.4h4.8M755.4 1251.6h4.8M756.4 1258.5h4.8M757.3 1213.3h4.8M759.2 1174.6h4.8M760.2 1188.4h4.8M761.2 1142.4h4.8M763.1 1212.7h4.8M764.0 1178.3h4.8M766.9 1202.3h4.8M767.9 1221.3h4.8M768.8 1210.4h4.8M769.8 1244.4h4.8M770.7 1238.5h4.8M771.7 1205.9h4.8M772.7 1260.8h4.8M773.6 1211.7h4.8M775.5 1137.3h4.8M776.5 1201.4h4.8M777.4 1171.1h4.8M778.4 1279.6h4.8M779.4 1301.7h4.8M780.3 1257.5h4.8M781.3 1286.2h4.8M782.2 1289.6h4.8M783.2 1292.6h4.8M784.2 1270.1h4.8M785.1 1273.1h4.8M786.1 1291.7h4.8M787.0 1266.2h4.8M788.0 1273.0h4.8M789.9 1242.8h4.8M790.9 1231.5h4.8M791.8 1259.1h4.8M793.7 1290.7h4.8M794.7 1321.1h4.8M795.7 1272.4h4.8M796.6 1274.4h4.8M797.6 1230.8h4.8M798.5 1239.2h4.8M799.5 1276.4h4.8M800.4 1239.4h4.8M802.4 1276.9h4.8M803.3 1257.0h4.8M804.3 1253.9h4.8M805.2 1292.9h4.8M806.2 1242.9h4.8M807.2 1233.9h4.8M808.1 1241.9h4.8M809.1 1254.4h4.8M810.0 1243.1h4.8M811.0 1307.9h4.8M811.9 1219.4h4.8M812.9 1339.7h4.8M813.9 1330.9h4.8M814.8 1320.2h4.8M815.8 1263.1h4.8M816.7 1250.3h4.8M817.7 1231.3h4.8M818.7 1291.9h4.8M819.6 1217.9h4.8M820.6 1203.9h4.8M821.5 1317.8h4.8M822.5 1279.3h4.8M824.4 1323.6h4.8M826.3 1268.2h4.8M827.3 1319.1h4.8M829.2 1244.4h4.8M830.2 1253.5h4.8M831.1 1242.1h4.8M832.1 1332.3h4.8M833.0 1280.0h4.8M834.9 1317.1h4.8M835.9 1243.6h4.8M836.9 1268.3h4.8M837.8 1240.8h4.8M838.8 1278.3h4.8M839.7 1262.3h4.8M841.7 1267.7h4.8M842.6 1266.4h4.8M843.6 1257.7h4.8M844.5 1271.7h4.8M845.5 1323.4h4.8M847.4 1292.1h4.8M848.4 1276.8h4.8M849.3 1309.2h4.8M850.3 1233.4h4.8M851.2 1226.6h4.8M853.2 1186.9h4.8M854.1 1211.5h4.8M855.1 1269.3h4.8M856.0 1330.5h4.8M857.0 1261.8h4.8M857.9 1261.5h4.8M858.9 1237.8h4.8M861.8 1286.2h4.8M862.7 1250.7h4.8M863.7 1271.8h4.8M865.6 1250.7h4.8M866.6 1258.1h4.8M868.5 1274.8h4.8M869.4 1262.6h4.8M870.4 1262.5h4.8M871.4 1255.4h4.8M872.3 1275.4h4.8M874.2 1301.9h4.8M876.2 1215.5h4.8M877.1 1244.6h4.8M878.1 1254.2h4.8M879.0 1286.6h4.8M880.0 1258.9h4.8M880.9 1239.3h4.8M883.8 1240.8h4.8M884.8 1249.2h4.8M885.7 1330.9h4.8M886.7 1340.1h4.8M887.7 1303.0h4.8M888.6 1199.8h4.8M889.6 1197.1h4.8M891.5 1253.6h4.8M892.4 1267.1h4.8M893.4 1236.4h4.8M894.4 1264.0h4.8M895.3 1262.0h4.8M896.3 1294.0h4.8M897.2 1285.2h4.8M898.2 1303.4h4.8M900.1 1284.4h4.8M902.0 1217.2h4.8M903.0 1190.4h4.8M903.9 1236.7h4.8M904.9 1228.7h4.8M905.9 1259.9h4.8M906.8 1255.1h4.8M907.8 1250.9h4.8M908.7 1301.5h4.8M910.7 1291.2h4.8M911.6 1240.3h4.8M913.5 1313.2h4.8M914.5 1320.6h4.8M915.4 1316.5h4.8M916.4 1230.4h4.8M917.4 1305.3h4.8M918.3 1310.5h4.8M919.3 1292.9h4.8M920.2 1306.2h4.8M921.2 1313.6h4.8M922.2 1291.8h4.8M923.1 1337.7h4.8M925.0 1249.4h4.8M926.9 1272.5h4.8M927.9 1318.0h4.8M928.9 1361.4h4.8M930.8 1416.0h4.8M931.7 1367.5h4.8M932.7 1347.5h4.8M934.6 1262.3h4.8M936.5 1309.9h4.8M939.4 1416.2h4.8M940.4 1377.0h4.8M941.3 1327.4h4.8M943.2 1275.3h4.8M944.2 1255.5h4.8M945.2 1363.9h4.8M946.1 1220.5h4.8M947.1 1234.4h4.8M948.0 1255.9h4.8M949.0 1335.7h4.8M949.9 1259.5h4.8M950.9 1296.3h4.8M951.9 1344.3h4.8M953.8 1230.5h4.8M954.7 1237.7h4.8M955.7 1264.6h4.8M956.7 1229.3h4.8M957.6 1225.5h4.8M958.6 1214.9h4.8M959.5 1218.0h4.8M960.5 1293.5h4.8M962.4 1301.1h4.8M963.4 1264.8h4.8M964.3 1275.4h4.8M965.3 1287.1h4.8M966.2 1210.4h4.8M967.2 1237.1h4.8M968.2 1253.8h4.8M969.1 1238.0h4.8M971.0 1355.6h4.8M972.0 1294.7h4.8M973.9 1249.0h4.8M974.9 1277.2h4.8M975.8 1286.5h4.8M976.8 1264.8h4.8M977.7 1274.3h4.8M978.7 1322.9h4.8M979.7 1305.8h4.8M980.6 1230.8h4.8M981.6 1250.8h4.8M982.5 1375.6h4.8M983.5 1343.1h4.8M986.4 1369.2h4.8M987.3 1355.9h4.8M988.3 1323.3h4.8M989.2 1298.4h4.8M990.2 1354.7h4.8M992.1 1272.4h4.8M993.1 1353.6h4.8M994.0 1364.8h4.8M995.0 1406.7h4.8M995.9 1390.6h4.8M996.9 1359.7h4.8M997.9 1367.0h4.8M998.8 1343.8h4.8M999.8 1406.2h4.8M1000.7 1377.5h4.8M1001.7 1376.8h4.8M1002.7 1478.8h4.8M1003.6 1370.4h4.8M1004.6 1364.3h4.8M1005.5 1390.5h4.8M1006.5 1329.1h4.8M1007.4 1323.6h4.8M1008.4 1429.5h4.8M1009.4 1364.1h4.8M1010.3 1270.5h4.8M1011.3 1305.2h4.8M1012.2 1299.3h4.8M1013.2 1390.9h4.8M1014.2 1415.3h4.8M1015.1 1417.7h4.8M1016.1 1323.5h4.8M1017.0 1289.6h4.8M1018.0 1405.3h4.8M1018.9 1319.6h4.8M1019.9 1399.9h4.8M1020.9 1407.9h4.8M1021.8 1361.5h4.8M1022.8 1376.7h4.8M1023.7 1357.7h4.8M1024.7 1340.6h4.8M1025.7 1303.8h4.8M1026.6 1353.0h4.8M1027.6 1389.3h4.8M1028.5 1409.3h4.8M1029.5 1289.1h4.8M1030.4 1287.8h4.8M1031.4 1292.7h4.8M1032.4 1316.4h4.8M1033.3 1333.5h4.8M1034.3 1294.1h4.8M1035.2 1342.7h4.8M1036.2 1418.2h4.8M1037.2 1443.1h4.8M1038.1 1284.4h4.8M1039.1 1353.1h4.8M1040.0 1360.9h4.8M1041.0 1341.5h4.8M1041.9 1278.1h4.8M1042.9 1336.4h4.8M1043.9 1325.4h4.8M1044.8 1297.2h4.8M1045.8 1340.9h4.8M1046.7 1301.7h4.8M1048.7 1249.6h4.8M1049.6 1248.5h4.8M1050.6 1234.6h4.8M1051.5 1253.5h4.8M1052.5 1273.9h4.8M1053.4 1285.0h4.8M1054.4 1228.2h4.8M1055.4 1301.9h4.8M1057.3 1234.4h4.8M1058.2 1185.2h4.8M1059.2 1205.0h4.8M1060.2 1248.3h4.8M1062.1 1221.3h4.8M1063.0 1206.5h4.8M1064.0 1192.3h4.8M1065.9 1231.3h4.8M1066.9 1245.8h4.8M1067.8 1227.1h4.8M1068.8 1225.4h4.8M1071.7 1243.9h4.8M1072.6 1152.2h4.8M1073.6 1093.1h4.8M1074.5 1133.9h4.8M1076.4 1169.0h4.8M1077.4 1176.9h4.8M1078.4 1220.6h4.8M1079.3 1313.7h4.8M1080.3 1230.3h4.8M1083.2 1211.7h4.8M1084.1 1195.2h4.8M1085.1 1171.4h4.8M1086.0 1225.1h4.8M1087.0 1230.9h4.8M1087.9 1179.3h4.8M1088.9 1155.2h4.8M1089.9 1247.8h4.8M1090.8 1187.2h4.8M1091.8 1143.9h4.8M1093.7 1167.3h4.8M1094.7 1188.6h4.8M1095.6 1186.6h4.8M1096.6 1216.3h4.8M1097.5 1164.0h4.8M1099.4 1254.0h4.8M1100.4 1202.2h4.8M1102.3 1158.8h4.8M1103.3 1219.8h4.8M1104.2 1181.6h4.8M1105.2 1302.5h4.8M1106.2 1167.8h4.8M1107.1 1163.6h4.8M1108.1 1255.7h4.8M1109.0 1302.7h4.8M1110.0 1143.2h4.8M1110.9 1166.6h4.8M1112.9 1200.7h4.8M1113.8 1211.2h4.8M1114.8 1216.7h4.8M1115.7 1205.8h4.8M1116.7 1206.0h4.8M1117.7 1259.9h4.8M1118.6 1228.6h4.8M1119.6 1226.3h4.8M1120.5 1271.6h4.8M1121.5 1212.0h4.8M1122.4 1207.1h4.8M1123.4 1266.4h4.8M1124.4 1176.5h4.8M1125.3 1190.4h4.8M1126.3 1168.1h4.8M1127.2 1245.5h4.8M1128.2 1271.8h4.8M1129.2 1259.4h4.8M1132.0 1319.5h4.8M1133.0 1191.6h4.8M1133.9 1195.8h4.8M1134.9 1166.8h4.8M1135.9 1135.5h4.8M1136.8 1196.2h4.8M1137.8 1144.3h4.8M1138.7 1298.4h4.8M1139.7 1286.2h4.8M1140.7 1276.0h4.8M1141.6 1247.7h4.8M1142.6 1277.9h4.8M1143.5 1201.2h4.8M1144.5 1126.5h4.8M1145.4 1159.6h4.8M1146.4 1164.8h4.8M1147.4 1275.8h4.8M1148.3 1265.8h4.8M1149.3 1220.4h4.8M1152.2 1242.2h4.8M1154.1 1276.7h4.8M1155.0 1231.9h4.8M1156.0 1180.9h4.8M1156.9 1189.0h4.8M1157.9 1140.4h4.8M1158.9 1206.8h4.8M1159.8 1195.2h4.8M1160.8 1279.2h4.8M1161.7 1223.2h4.8M1162.7 1215.6h4.8M1163.7 1242.6h4.8M1164.6 1195.4h4.8M1165.6 1260.5h4.8M1167.5 1219.7h4.8M1168.4 1262.0h4.8M1169.4 1276.5h4.8M1171.3 1218.4h4.8M1172.3 1251.0h4.8M1173.2 1244.5h4.8M1175.2 1255.4h4.8M1176.1 1214.1h4.8M1178.0 1292.5h4.8M1179.0 1244.0h4.8M1179.9 1230.3h4.8M1180.9 1176.0h4.8M1182.8 1260.1h4.8M1183.8 1195.3h4.8M1184.7 1197.9h4.8M1185.7 1242.4h4.8M1186.7 1263.8h4.8M1188.6 1220.6h4.8M1189.5 1256.3h4.8M1191.4 1256.9h4.8M1192.4 1200.0h4.8M1193.4 1317.9h4.8M1194.3 1287.7h4.8M1195.3 1203.9h4.8M1196.2 1285.9h4.8M1198.2 1212.6h4.8M1200.1 1280.0h4.8M1201.0 1299.3h4.8M1203.9 1317.1h4.8M1204.9 1289.3h4.8M1205.8 1270.3h4.8M1206.8 1225.0h4.8M1207.7 1275.7h4.8M1208.7 1285.4h4.8M1209.7 1301.8h4.8M1210.6 1240.1h4.8M1211.6 1223.2h4.8M1212.5 1300.4h4.8M1213.5 1384.2h4.8M1215.4 1357.3h4.8M1216.4 1398.1h4.8M1218.3 1261.2h4.8M1219.2 1249.1h4.8M1220.2 1300.6h4.8M1221.2 1285.6h4.8M1222.1 1313.5h4.8M1223.1 1280.9h4.8M1225.0 1273.0h4.8M1225.9 1284.1h4.8M1226.9 1331.2h4.8M1227.9 1396.7h4.8M1228.8 1306.8h4.8M1229.8 1296.2h4.8M1230.7 1347.0h4.8M1231.7 1371.4h4.8M1232.7 1359.8h4.8M1233.6 1346.1h4.8M1235.5 1329.2h4.8M1236.5 1323.5h4.8M1237.4 1342.8h4.8M1238.4 1251.4h4.8M1240.3 1341.1h4.8M1241.3 1311.0h4.8M1242.2 1355.4h4.8M1243.2 1325.4h4.8M1244.2 1327.3h4.8M1245.1 1292.9h4.8M1246.1 1353.8h4.8M1247.0 1412.1h4.8M1248.9 1322.7h4.8M1249.9 1251.8h4.8M1250.9 1256.3h4.8M1251.8 1305.4h4.8M1252.8 1290.2h4.8M1253.7 1348.4h4.8M1254.7 1363.6h4.8M1255.7 1327.1h4.8M1256.6 1305.3h4.8M1257.6 1360.9h4.8M1259.5 1264.5h4.8M1260.4 1234.4h4.8M1261.4 1325.6h4.8M1262.4 1285.4h4.8M1263.3 1312.8h4.8M1265.2 1257.7h4.8M1266.2 1272.7h4.8M1267.2 1254.6h4.8M1268.1 1233.1h4.8M1269.1 1217.3h4.8M1271.9 1288.3h4.8M1272.9 1266.3h4.8M1273.9 1307.6h4.8M1277.7 1300.4h4.8M1278.7 1287.3h4.8M1279.6 1269.4h4.8M1280.6 1300.8h4.8M1282.5 1332.0h4.8M1283.4 1288.8h4.8M1284.4 1280.3h4.8M1285.4 1319.7h4.8M1286.3 1241.1h4.8M1287.3 1289.9h4.8M1289.2 1345.8h4.8M1290.2 1327.0h4.8M1291.1 1327.0h4.8M1292.1 1360.0h4.8M1293.0 1336.9h4.8M1294.9 1282.7h4.8M1295.9 1307.5h4.8M1296.9 1351.5h4.8M1297.8 1388.4h4.8M1298.8 1355.9h4.8M1299.7 1316.9h4.8M1300.7 1261.5h4.8M1301.7 1332.5h4.8M1302.6 1391.3h4.8M1303.6 1407.4h4.8M1304.5 1366.7h4.8M1305.5 1342.0h4.8M1307.4 1410.4h4.8M1308.4 1449.3h4.8M1309.3 1364.1h4.8M1310.3 1421.8h4.8M1311.2 1370.1h4.8M1312.2 1378.9h4.8M1313.2 1452.1h4.8M1314.1 1453.2h4.8M1315.1 1374.7h4.8M1316.0 1390.7h4.8M1317.0 1404.1h4.8M1317.9 1360.5h4.8M1318.9 1396.1h4.8M1319.9 1405.2h4.8M1320.8 1415.7h4.8M1321.8 1422.3h4.8M1322.7 1384.4h4.8M1323.7 1436.9h4.8M1324.7 1398.5h4.8M1326.6 1431.4h4.8M1327.5 1421.7h4.8M1329.4 1458.0h4.8M1331.4 1390.5h4.8M1332.3 1432.5h4.8M1333.3 1409.4h4.8M1334.2 1404.1h4.8M1335.2 1416.5h4.8M1336.2 1423.8h4.8M1337.1 1355.6h4.8M1338.1 1503.7h4.8M1339.0 1479.8h4.8M1340.0 1413.4h4.8M1340.9 1426.5h4.8M1341.9 1415.0h4.8M1342.9 1413.1h4.8M1343.8 1432.0h4.8M1344.8 1423.8h4.8M1346.7 1436.2h4.8M1347.7 1393.9h4.8M1348.6 1364.5h4.8M1349.6 1368.4h4.8M1350.5 1397.7h4.8M1351.5 1414.3h4.8M1352.4 1470.5h4.8M1353.4 1431.5h4.8M1354.4 1443.2h4.8M1355.3 1436.1h4.8M1356.3 1415.2h4.8M1358.2 1374.9h4.8M1359.2 1377.5h4.8M1360.1 1429.9h4.8M1361.1 1430.6h4.8M1362.0 1386.8h4.8M1363.0 1402.3h4.8M1363.9 1384.6h4.8M1364.9 1391.3h4.8M1365.9 1337.2h4.8M1366.8 1306.9h4.8M1367.8 1264.6h4.8M1369.7 1348.4h4.8M1370.7 1427.5h4.8M1371.6 1379.2h4.8M1372.6 1370.6h4.8M1373.5 1393.4h4.8M1374.5 1323.8h4.8M1376.4 1403.0h4.8M1377.4 1311.2h4.8M1378.3 1331.9h4.8M1379.3 1305.5h4.8M1380.2 1349.0h4.8M1383.1 1391.6h4.8M1384.1 1323.4h4.8M1385.0 1300.2h4.8M1386.0 1373.8h4.8M1386.9 1336.8h4.8M1387.9 1312.5h4.8M1388.9 1333.1h4.8M1389.8 1302.5h4.8M1390.8 1332.0h4.8M1393.7 1287.6h4.8M1394.6 1423.0h4.8M1396.5 1320.1h4.8M1397.5 1330.7h4.8M1398.4 1319.8h4.8M1400.4 1267.9h4.8M1402.3 1312.0h4.8M1403.2 1243.3h4.8M1404.2 1224.2h4.8M1407.1 1389.5h4.8M1408.0 1316.8h4.8M1409.0 1296.0h4.8M1409.9 1308.2h4.8M1410.9 1307.6h4.8M1411.9 1210.3h4.8M1412.8 1216.4h4.8M1413.8 1256.6h4.8M1414.7 1285.8h4.8M1415.7 1297.5h4.8M1417.6 1299.3h4.8M1418.6 1291.1h4.8M1420.5 1254.2h4.8M1423.4 1179.3h4.8M1424.3 1224.8h4.8M1425.3 1267.5h4.8M1427.2 1280.0h4.8M1429.1 1205.4h4.8M1430.1 1211.8h4.8M1431.0 1249.2h4.8M1432.0 1312.6h4.8M1432.9 1236.2h4.8M1434.9 1234.4h4.8M1436.8 1327.8h4.8M1437.7 1273.8h4.8M1438.7 1181.2h4.8M1439.7 1246.9h4.8M1440.6 1324.8h4.8M1441.6 1340.1h4.8M1443.5 1243.2h4.8M1444.4 1216.4h4.8M1445.4 1232.8h4.8M1446.4 1283.8h4.8M1448.3 1286.5h4.8M1449.2 1289.4h4.8M1450.2 1333.1h4.8M1451.2 1274.9h4.8M1452.1 1235.3h4.8M1453.1 1268.7h4.8M1454.0 1273.6h4.8M1455.0 1329.3h4.8M1455.9 1295.9h4.8M1457.9 1348.5h4.8M1458.8 1289.6h4.8M1459.8 1292.1h4.8M1461.7 1381.7h4.8M1462.7 1345.7h4.8M1463.6 1267.2h4.8M1465.5 1306.6h4.8M1466.5 1274.8h4.8M1469.4 1270.7h4.8M1470.3 1303.9h4.8M1471.3 1299.5h4.8M1473.2 1272.9h4.8M1474.2 1316.5h4.8M1475.1 1298.9h4.8M1476.1 1286.5h4.8M1477.0 1296.1h4.8M1478.0 1312.3h4.8M1478.9 1261.0h4.8M1479.9 1290.1h4.8M1480.9 1343.5h4.8M1481.8 1278.7h4.8M1483.7 1266.5h4.8M1485.7 1311.7h4.8M1486.6 1218.7h4.8M1488.5 1234.1h4.8M1489.5 1280.8h4.8M1490.4 1311.6h4.8M1491.4 1299.9h4.8M1492.4 1256.1h4.8M1493.3 1220.1h4.8M1495.2 1207.9h4.8M1496.2 1240.7h4.8M1498.1 1321.6h4.8M1499.1 1228.1h4.8M1501.0 1257.3h4.8M1501.9 1231.3h4.8M1503.9 1247.4h4.8M1504.8 1259.6h4.8M1506.7 1241.7h4.8M1507.7 1249.0h4.8M1508.7 1276.7h4.8M1509.6 1330.6h4.8M1512.5 1255.4h4.8M1513.4 1259.1h4.8M1514.4 1254.8h4.8M1515.4 1272.8h4.8M1516.3 1233.6h4.8M1517.3 1248.1h4.8M1519.2 1279.5h4.8M1520.2 1241.6h4.8M1521.1 1284.2h4.8M1522.1 1247.3h4.8M1523.0 1200.7h4.8M1524.0 1189.0h4.8M1524.9 1207.8h4.8M1525.9 1302.5h4.8M1526.9 1248.9h4.8M1527.8 1244.5h4.8M1528.8 1194.0h4.8M1529.7 1247.2h4.8M1530.7 1259.1h4.8M1531.7 1180.4h4.8M1532.6 1231.7h4.8M1533.6 1178.2h4.8M1534.5 1183.8h4.8M1535.5 1295.0h4.8M1536.4 1252.7h4.8M1537.4 1237.4h4.8M1538.4 1269.0h4.8M1539.3 1302.8h4.8M1542.2 1250.1h4.8M1543.2 1266.6h4.8M1544.1 1250.2h4.8M1545.1 1215.5h4.8M1546.0 1190.2h4.8M1547.0 1198.0h4.8M1547.9 1238.4h4.8M1548.9 1248.9h4.8M1549.9 1228.9h4.8M1550.8 1196.1h4.8M1551.8 1237.7h4.8M1553.7 1268.1h4.8M1554.7 1236.8h4.8M1556.6 1221.7h4.8M1557.5 1266.9h4.8M1558.5 1265.2h4.8M1560.4 1191.4h4.8M1562.3 1237.2h4.8M1563.3 1209.8h4.8M1564.2 1232.8h4.8M1566.2 1245.9h4.8M1567.1 1289.1h4.8M1568.1 1305.4h4.8M1569.0 1288.1h4.8M1570.0 1290.3h4.8M1570.9 1225.3h4.8M1571.9 1222.7h4.8M1572.9 1276.2h4.8M1573.8 1180.1h4.8M1574.8 1202.4h4.8M1576.7 1338.1h4.8M1578.6 1201.3h4.8M1579.6 1242.2h4.8M1580.5 1212.7h4.8M1582.4 1187.0h4.8M1583.4 1242.0h4.8M1585.3 1315.1h4.8M1586.3 1238.4h4.8M1588.2 1314.0h4.8M1589.2 1304.8h4.8M1590.1 1293.2h4.8M1591.1 1238.0h4.8M1593.0 1215.2h4.8M1593.9 1249.5h4.8M1594.9 1255.1h4.8M1595.9 1318.3h4.8M1596.8 1290.1h4.8M1597.8 1284.3h4.8M1598.7 1258.4h4.8M1599.7 1309.7h4.8M1600.7 1286.8h4.8M1602.6 1359.6h4.8M1604.5 1290.8h4.8M1606.4 1275.4h4.8M1607.4 1306.1h4.8M1610.2 1274.4h4.8M1611.2 1306.3h4.8M1612.2 1261.4h4.8M1613.1 1288.0h4.8M1615.0 1280.6h4.8M1616.0 1257.4h4.8M1616.9 1232.9h4.8M1617.9 1293.7h4.8M1619.8 1301.4h4.8M1620.8 1343.3h4.8M1621.7 1274.8h4.8M1622.7 1379.7h4.8M1624.6 1337.7h4.8M1626.5 1268.1h4.8M1627.5 1219.4h4.8M1628.4 1202.3h4.8M1629.4 1244.5h4.8M1630.4 1319.2h4.8M1631.3 1283.1h4.8M1632.3 1333.7h4.8M1633.2 1340.4h4.8M1634.2 1327.1h4.8M1635.2 1260.4h4.8M1636.1 1181.1h4.8M1637.1 1205.5h4.8M1638.0 1287.9h4.8M1639.0 1262.3h4.8M1639.9 1238.4h4.8M1642.8 1328.8h4.8M1643.8 1329.8h4.8M1644.7 1297.1h4.8M1645.7 1279.4h4.8M1647.6 1282.6h4.8M1649.5 1310.3h4.8M1652.4 1377.1h4.8M1653.4 1372.1h4.8M1654.3 1324.6h4.8M1655.3 1288.5h4.8M1656.2 1282.1h4.8M1657.2 1276.2h4.8M1658.2 1247.6h4.8M1660.1 1302.3h4.8M1661.0 1375.0h4.8M1662.0 1303.8h4.8M1662.9 1310.3h4.8M1663.9 1390.7h4.8M1664.9 1357.1h4.8M1665.8 1325.2h4.8M1666.8 1385.3h4.8M1668.7 1337.1h4.8M1669.7 1279.3h4.8M1670.6 1353.8h4.8M1671.6 1301.8h4.8M1672.5 1382.0h4.8M1673.5 1402.5h4.8M1674.4 1317.1h4.8M1675.4 1305.1h4.8M1676.4 1360.7h4.8M1679.2 1310.1h4.8M1680.2 1339.8h4.8M1681.2 1438.3h4.8M1683.1 1298.8h4.8M1684.0 1312.4h4.8M1685.0 1283.3h4.8M1685.9 1306.0h4.8M1686.9 1256.6h4.8M1687.9 1414.2h4.8M1688.8 1345.1h4.8M1689.8 1375.9h4.8M1690.7 1335.0h4.8M1691.7 1302.4h4.8M1692.7 1263.6h4.8M1693.6 1266.2h4.8M1694.6 1249.0h4.8M1695.5 1339.4h4.8M1696.5 1327.2h4.8M1697.4 1420.1h4.8M1698.4 1354.2h4.8M1699.4 1403.7h4.8M1700.3 1312.3h4.8M1701.3 1307.3h4.8M1702.2 1323.8h4.8M1703.2 1346.2h4.8M1704.2 1318.9h4.8M1706.1 1400.9h4.8M1707.0 1355.0h4.8M1708.9 1341.9h4.8M1709.9 1383.8h4.8M1710.9 1418.2h4.8M1711.8 1294.3h4.8M1712.8 1312.8h4.8M1713.7 1299.5h4.8M1714.7 1353.1h4.8M1715.7 1371.0h4.8M1716.6 1376.2h4.8M1717.6 1301.4h4.8M1718.5 1331.0h4.8M1719.5 1363.0h4.8M1720.4 1382.3h4.8M1721.4 1388.2h4.8M1722.4 1351.1h4.8M1723.3 1374.6h4.8M1724.3 1378.9h4.8M1725.2 1322.9h4.8M1726.2 1314.7h4.8M1727.2 1320.5h4.8M1728.1 1271.3h4.8M1729.1 1330.2h4.8M1730.0 1390.7h4.8M1731.9 1381.5h4.8M1732.9 1343.3h4.8M1734.8 1370.7h4.8M1735.8 1396.6h4.8M1736.7 1362.8h4.8M1737.7 1351.6h4.8M1738.7 1395.0h4.8M1739.6 1357.9h4.8M1740.6 1311.6h4.8M1742.5 1230.1h4.8M1743.4 1260.9h4.8M1744.4 1334.0h4.8M1745.4 1336.9h4.8M1746.3 1390.2h4.8M1747.3 1269.8h4.8M1748.2 1321.9h4.8M1749.2 1342.5h4.8M1750.2 1299.9h4.8M1751.1 1327.1h4.8M1752.1 1355.0h4.8M1754.0 1302.8h4.8M1754.9 1283.6h4.8M1755.9 1374.4h4.8M1756.9 1425.7h4.8M1757.8 1359.8h4.8M1759.7 1382.9h4.8M1760.7 1329.4h4.8M1761.7 1333.3h4.8M1762.6 1372.0h4.8M1763.6 1346.5h4.8M1765.5 1402.4h4.8M1766.4 1314.4h4.8M1767.4 1373.7h4.8M1768.4 1365.4h4.8M1770.3 1412.0h4.8M1772.2 1472.8h4.8M1773.2 1393.9h4.8M1775.1 1357.4h4.8M1776.0 1378.2h4.8M1777.0 1434.3h4.8M1777.9 1436.7h4.8M1778.9 1375.4h4.8M1779.9 1309.6h4.8M1780.8 1357.0h4.8M1782.7 1349.9h4.8M1783.7 1380.0h4.8M1784.7 1433.8h4.8M1785.6 1463.7h4.8M1786.6 1446.5h4.8M1788.5 1509.6h4.8M1790.4 1405.4h4.8M1791.4 1356.9h4.8M1792.3 1342.6h4.8M1793.3 1374.6h4.8M1794.2 1407.2h4.8M1795.2 1397.3h4.8M1796.2 1383.3h4.8M1797.1 1417.3h4.8M1798.1 1366.9h4.8M1799.0 1408.6h4.8M1800.0 1491.1h4.8M1800.9 1397.0h4.8M1801.9 1353.1h4.8M1802.9 1379.5h4.8M1803.8 1340.8h4.8M1804.8 1318.8h4.8M1805.7 1457.7h4.8M1806.7 1392.7h4.8M1807.7 1443.5h4.8M1809.6 1368.6h4.8M1810.5 1335.9h4.8M1813.4 1359.0h4.8M1814.4 1256.7h4.8M1815.3 1297.8h4.8M1816.3 1367.7h4.8M1817.2 1352.0h4.8M1818.2 1346.1h4.8M1819.2 1277.9h4.8M1821.1 1314.2h4.8M1823.9 1270.3h4.8M1824.9 1318.7h4.8M1825.9 1310.2h4.8M1826.8 1276.6h4.8M1827.8 1328.0h4.8M1828.7 1345.3h4.8M1829.7 1325.2h4.8M1831.6 1214.2h4.8M1832.6 1243.6h4.8M1833.5 1213.3h4.8M1836.4 1309.9h4.8M1838.3 1282.3h4.8M1839.3 1245.8h4.8M1840.2 1319.1h4.8M1841.2 1285.9h4.8M1843.1 1252.6h4.8M1844.1 1226.1h4.8M1845.0 1227.4h4.8M1846.0 1214.5h4.8M1846.9 1261.7h4.8M1847.9 1246.8h4.8M1848.9 1235.7h4.8M1849.8 1296.9h4.8M1850.8 1262.3h4.8M1852.7 1251.7h4.8M1853.7 1275.7h4.8M1854.6 1283.7h4.8M1855.6 1261.6h4.8M1856.5 1266.1h4.8M1858.4 1328.6h4.8M1860.4 1308.2h4.8M1861.3 1254.3h4.8M1862.3 1339.3h4.8M1863.2 1337.7h4.8M1864.2 1299.4h4.8M1865.2 1276.7h4.8M1866.1 1307.6h4.8M1868.0 1281.6h4.8M1869.9 1312.1h4.8M1870.9 1353.0h4.8M1871.9 1349.1h4.8M1872.8 1330.8h4.8M1875.7 1323.6h4.8M1876.7 1350.4h4.8M1877.6 1360.6h4.8M1878.6 1266.8h4.8M1880.5 1215.6h4.8M1882.4 1302.9h4.8M1883.4 1322.3h4.8M1885.3 1420.0h4.8M1886.2 1350.1h4.8M364.5 1054.1h4.8M409.9 1047.6h4.8M451.9 1096.1h4.8M415.1 1129.0h4.8M442.4 1148.5h4.8M521.6 1145.9h4.8M529.9 1172.3h4.8M649.8 1158.0h4.8M729.9 1107.4h4.8M723.9 1151.6h4.8M757.2 1135.1h4.8M752.9 1147.2h4.8M796.2 1110.4h4.8M822.2 1151.1h4.8M952.0 1179.7h4.8M1135.1 1107.6h4.8M1076.3 1131.5h4.8M1435.7 1116.7h4.8M1417.4 1140.3h4.8M1530.2 1138.5h4.8M1519.3 1145.0h4.8M1560.7 1151.0h4.8M248.4 1486.3h4.8M311.2 1489.3h4.8M308.2 1540.0h4.8M579.6 1485.0h4.8M588.3 1481.5h4.8M597.0 1480.6h4.8M581.8 1534.8h4.8M581.8 1544.3h4.8M591.3 1523.9h4.8M633.8 1464.6h4.8M668.9 1462.4h4.8M601.3 1469.8h4.8M1164.8 1505.3h4.8M1104.6 1450.8h4.8M1345.1 1502.2h4.8M1323.3 1488.7h4.8M1501.9 1483.5h4.8M1462.7 1472.6h4.8M1785.0 1495.7h4.8M1793.8 1479.2h4.8M1816.4 1487.0h4.8M1738.5 1474.8h4.8" stroke="#000" stroke-width="4.8"/><path d="M242.5 1328.0h5.2M243.5 1306.4h5.2M244.4 1342.4h5.2M245.4 1350.9h5.2M246.3 1351.7h5.2M247.3 1374.5h5.2M248.2 1406.2h5.2M249.2 1384.5h5.2M250.2 1369.1h5.2M251.1 1431.9h5.2M252.1 1321.7h5.2M253.0 1302.2h5.2M254.0 1329.5h5.2M255.0 1304.5h5.2M255.9 1336.5h5.2M256.9 1352.8h5.2M257.8 1336.2h5.2M258.8 1383.0h5.2M259.7 1373.6h5.2M260.7 1322.4h5.2M261.7 1274.7h5.2M262.6 1293.9h5.2M263.6 1275.2h5.2M264.5 1338.5h5.2M265.5 1346.7h5.2M266.5 1339.9h5.2M267.4 1380.7h5.2M268.4 1362.3h5.2M269.3 1303.8h5.2M270.3 1237.2h5.2M271.2 1211.7h5.2M272.2 1200.1h5.2M273.2 1233.9h5.2M274.1 1284.1h5.2M275.1 1336.6h5.2M276.0 1306.4h5.2M277.0 1277.2h5.2M278.0 1290.9h5.2M278.9 1291.4h5.2M279.9 1263.8h5.2M280.8 1258.3h5.2M281.8 1270.9h5.2M282.7 1230.4h5.2M283.7 1236.3h5.2M284.7 1247.3h5.2M285.6 1282.5h5.2M286.6 1289.5h5.2M287.5 1260.8h5.2M288.5 1293.6h5.2M289.5 1288.6h5.2M290.4 1290.9h5.2M291.4 1284.5h5.2M292.3 1295.2h5.2M293.3 1295.9h5.2M294.2 1276.9h5.2M295.2 1323.3h5.2M296.2 1314.9h5.2M297.1 1363.7h5.2M298.1 1331.1h5.2M299.0 1364.7h5.2M300.0 1348.1h5.2M301.0 1334.3h5.2M301.9 1356.0h5.2M302.9 1322.9h5.2M303.8 1369.9h5.2M304.8 1381.5h5.2M305.7 1351.5h5.2M306.7 1389.3h5.2M307.7 1348.2h5.2M308.6 1383.5h5.2M309.6 1409.4h5.2M310.5 1426.7h5.2M311.5 1420.9h5.2M312.5 1388.7h5.2M313.4 1398.8h5.2M314.4 1392.5h5.2M315.3 1334.0h5.2M316.3 1342.3h5.2M317.2 1355.6h5.2M318.2 1343.0h5.2M319.2 1351.5h5.2M320.1 1375.2h5.2M321.1 1425.3h5.2M322.0 1397.3h5.2M323.0 1395.7h5.2M324.0 1392.8h5.2M324.9 1401.7h5.2M325.9 1362.3h5.2M326.8 1363.2h5.2M327.8 1338.2h5.2M328.7 1340.3h5.2M329.7 1344.4h5.2M330.7 1319.6h5.2M331.6 1316.0h5.2M332.6 1304.7h5.2M333.5 1314.7h5.2M334.5 1335.5h5.2M335.5 1368.6h5.2M336.4 1378.7h5.2M337.4 1363.2h5.2M338.3 1353.3h5.2M339.3 1395.4h5.2M340.2 1373.6h5.2M341.2 1343.0h5.2M342.2 1340.2h5.2M343.1 1372.4h5.2M344.1 1370.3h5.2M345.0 1345.7h5.2M346.0 1334.8h5.2M347.0 1363.0h5.2M347.9 1321.7h5.2M348.9 1291.2h5.2M349.8 1295.7h5.2M350.8 1300.4h5.2M351.7 1299.9h5.2M352.7 1316.2h5.2M353.7 1284.7h5.2M354.6 1284.1h5.2M355.6 1296.1h5.2M356.5 1313.0h5.2M357.5 1349.6h5.2M358.5 1347.1h5.2M359.4 1316.6h5.2M360.4 1311.3h5.2M361.3 1309.5h5.2M362.3 1291.6h5.2M363.2 1292.1h5.2M364.2 1285.0h5.2M365.2 1305.6h5.2M366.1 1326.8h5.2M367.1 1311.1h5.2M368.0 1321.8h5.2M369.0 1285.4h5.2M370.0 1300.4h5.2M370.9 1301.8h5.2M371.9 1323.6h5.2M372.8 1307.7h5.2M373.8 1295.2h5.2M374.7 1276.2h5.2M375.7 1248.3h5.2M376.7 1266.1h5.2M377.6 1259.1h5.2M378.6 1304.1h5.2M379.5 1316.3h5.2M380.5 1282.9h5.2M381.5 1251.9h5.2M382.4 1241.4h5.2M383.4 1241.6h5.2M384.3 1260.8h5.2M385.3 1278.5h5.2M386.2 1266.0h5.2M387.2 1215.1h5.2M388.2 1259.3h5.2M389.1 1260.3h5.2M390.1 1257.3h5.2M391.0 1233.4h5.2M392.0 1238.0h5.2M393.0 1233.9h5.2M393.9 1233.3h5.2M394.9 1244.5h5.2M395.8 1253.7h5.2M396.8 1270.5h5.2M397.7 1259.2h5.2M398.7 1239.5h5.2M399.7 1238.9h5.2M400.6 1240.9h5.2M401.6 1241.6h5.2M402.5 1241.6h5.2M403.5 1226.4h5.2M404.5 1252.0h5.2M405.4 1252.9h5.2M406.4 1237.2h5.2M407.3 1214.8h5.2M408.3 1207.9h5.2M409.2 1215.1h5.2M410.2 1217.9h5.2M411.2 1213.3h5.2M412.1 1224.4h5.2M413.1 1224.8h5.2M414.0 1236.5h5.2M415.0 1223.9h5.2M416.0 1238.1h5.2M416.9 1220.6h5.2M417.9 1257.8h5.2M418.8 1250.4h5.2M419.8 1238.7h5.2M420.7 1267.8h5.2M421.7 1237.2h5.2M422.7 1238.7h5.2M423.6 1244.6h5.2M424.6 1273.9h5.2M425.5 1239.5h5.2M426.5 1255.3h5.2M427.5 1251.0h5.2M428.4 1262.5h5.2M429.4 1236.7h5.2M430.3 1236.3h5.2M431.3 1222.8h5.2M432.2 1240.6h5.2M433.2 1244.7h5.2M434.2 1288.2h5.2M435.1 1290.3h5.2M436.1 1271.9h5.2M437.0 1261.1h5.2M438.0 1267.3h5.2M439.0 1256.3h5.2M439.9 1249.9h5.2M440.9 1255.6h5.2M441.8 1249.6h5.2M442.8 1227.0h5.2M443.7 1250.0h5.2M444.7 1232.0h5.2M445.7 1258.7h5.2M446.6 1276.6h5.2M447.6 1276.7h5.2M448.5 1283.0h5.2M449.5 1294.2h5.2M450.5 1283.3h5.2M451.4 1259.4h5.2M452.4 1239.8h5.2M453.3 1234.7h5.2M454.3 1264.7h5.2M455.2 1288.0h5.2M456.2 1259.3h5.2M457.2 1270.0h5.2M458.1 1236.7h5.2M459.1 1258.2h5.2M460.0 1251.9h5.2M461.0 1266.5h5.2M462.0 1253.0h5.2M462.9 1267.6h5.2M463.9 1276.8h5.2M464.8 1265.9h5.2M465.8 1259.0h5.2M466.7 1234.6h5.2M467.7 1263.1h5.2M468.7 1304.4h5.2M469.6 1317.3h5.2M470.6 1317.9h5.2M471.5 1288.9h5.2M472.5 1275.0h5.2M473.5 1253.1h5.2M474.4 1262.8h5.2M475.4 1229.8h5.2M476.3 1240.7h5.2M477.3 1256.0h5.2M478.2 1303.2h5.2M479.2 1322.9h5.2M480.2 1304.7h5.2M481.1 1290.7h5.2M482.1 1268.6h5.2M483.0 1291.6h5.2M484.0 1265.1h5.2M485.0 1259.4h5.2M485.9 1297.3h5.2M486.9 1290.9h5.2M487.8 1323.9h5.2M488.8 1311.0h5.2M489.7 1257.3h5.2M490.7 1272.2h5.2M491.7 1270.8h5.2M492.6 1310.3h5.2M493.6 1296.4h5.2M494.5 1285.8h5.2M495.5 1328.9h5.2M496.5 1321.9h5.2M497.4 1323.0h5.2M498.4 1315.7h5.2M499.3 1311.4h5.2M500.3 1311.9h5.2M501.2 1287.1h5.2M502.2 1290.2h5.2M503.2 1313.2h5.2M504.1 1282.5h5.2M505.1 1273.7h5.2M506.0 1331.9h5.2M507.0 1318.3h5.2M508.0 1304.6h5.2M508.9 1278.7h5.2M509.9 1279.9h5.2M510.8 1317.4h5.2M511.8 1329.5h5.2M512.7 1365.6h5.2M513.7 1362.0h5.2M514.7 1296.5h5.2M515.6 1277.3h5.2M516.6 1248.7h5.2M517.5 1264.0h5.2M518.5 1295.2h5.2M519.5 1323.4h5.2M520.4 1309.5h5.2M521.4 1317.2h5.2M522.3 1309.3h5.2M523.3 1281.0h5.2M524.2 1325.8h5.2M525.2 1356.0h5.2M526.2 1350.6h5.2M527.1 1332.2h5.2M528.1 1321.4h5.2M529.0 1345.3h5.2M530.0 1324.2h5.2M531.0 1310.2h5.2M531.9 1310.4h5.2M532.9 1324.4h5.2M533.8 1304.8h5.2M534.8 1287.6h5.2M535.7 1298.3h5.2M536.7 1308.6h5.2M537.7 1300.9h5.2M538.6 1259.2h5.2M539.6 1334.9h5.2M540.5 1350.2h5.2M541.5 1372.5h5.2M542.5 1350.3h5.2M543.4 1343.1h5.2M544.4 1343.5h5.2M545.3 1312.2h5.2M546.3 1325.6h5.2M547.2 1341.5h5.2M548.2 1314.1h5.2M549.2 1356.7h5.2M550.1 1333.6h5.2M551.1 1320.1h5.2M552.0 1337.0h5.2M553.0 1389.6h5.2M554.0 1327.7h5.2M554.9 1299.9h5.2M555.9 1306.5h5.2M556.8 1333.1h5.2M557.8 1324.7h5.2M558.7 1303.0h5.2M559.7 1312.1h5.2M560.7 1358.5h5.2M561.6 1341.1h5.2M562.6 1341.5h5.2M563.5 1379.6h5.2M564.5 1410.2h5.2M565.5 1373.5h5.2M566.4 1358.4h5.2M567.4 1321.4h5.2M568.3 1358.6h5.2M569.3 1376.6h5.2M570.2 1361.4h5.2M571.2 1350.6h5.2M572.2 1333.9h5.2M573.1 1352.1h5.2M574.1 1308.2h5.2M575.0 1370.7h5.2M576.0 1421.3h5.2M577.0 1455.9h5.2M577.9 1454.5h5.2M578.9 1440.1h5.2M579.8 1403.4h5.2M580.8 1392.3h5.2M581.7 1348.1h5.2M582.7 1378.0h5.2M583.7 1332.8h5.2M584.6 1378.6h5.2M585.6 1359.9h5.2M586.5 1407.3h5.2M587.5 1397.4h5.2M588.5 1388.1h5.2M589.4 1356.9h5.2M590.4 1338.6h5.2M591.3 1333.8h5.2M592.3 1339.2h5.2M593.2 1340.5h5.2M594.2 1382.5h5.2M595.2 1402.2h5.2M596.1 1457.7h5.2M597.1 1421.4h5.2M598.0 1331.6h5.2M599.0 1319.2h5.2M600.0 1329.8h5.2M600.9 1350.8h5.2M601.9 1315.6h5.2M602.8 1342.0h5.2M603.8 1381.5h5.2M604.7 1391.6h5.2M605.7 1403.3h5.2M606.7 1402.8h5.2M607.6 1373.2h5.2M608.6 1343.6h5.2M609.5 1374.5h5.2M610.5 1374.0h5.2M611.5 1388.0h5.2M612.4 1403.4h5.2M613.4 1438.8h5.2M614.3 1362.7h5.2M615.3 1359.6h5.2M616.2 1358.9h5.2M617.2 1336.3h5.2M618.2 1371.9h5.2M619.1 1357.7h5.2M620.1 1344.3h5.2M621.0 1361.5h5.2M622.0 1319.4h5.2M623.0 1331.2h5.2M623.9 1344.8h5.2M624.9 1347.3h5.2M625.8 1314.1h5.2M626.8 1287.5h5.2M627.7 1327.0h5.2M628.7 1352.1h5.2M629.7 1383.0h5.2M630.6 1403.6h5.2M631.6 1366.0h5.2M632.5 1322.8h5.2M633.5 1391.6h5.2M634.5 1351.5h5.2M635.4 1372.3h5.2M636.4 1332.0h5.2M637.3 1296.4h5.2M638.3 1328.8h5.2M639.2 1327.4h5.2M640.2 1349.5h5.2M641.2 1327.8h5.2M642.1 1369.8h5.2M643.1 1394.0h5.2M644.0 1375.6h5.2M645.0 1326.4h5.2M646.0 1259.6h5.2M646.9 1262.1h5.2M647.9 1317.7h5.2M648.8 1307.7h5.2M649.8 1312.3h5.2M650.7 1317.6h5.2M651.7 1346.8h5.2M652.7 1363.9h5.2M653.6 1348.8h5.2M654.6 1313.0h5.2M655.5 1326.3h5.2M656.5 1296.2h5.2M657.5 1285.6h5.2M658.4 1338.9h5.2M659.4 1312.6h5.2M660.3 1326.9h5.2M661.3 1364.9h5.2M662.2 1336.1h5.2M663.2 1378.7h5.2M664.2 1360.1h5.2M665.1 1388.5h5.2M666.1 1365.8h5.2M667.0 1379.6h5.2M668.0 1378.6h5.2M669.0 1416.6h5.2M669.9 1396.0h5.2M670.9 1412.8h5.2M671.8 1404.4h5.2M672.8 1384.6h5.2M673.7 1368.0h5.2M674.7 1349.4h5.2M675.7 1391.7h5.2M676.6 1394.8h5.2M677.6 1392.7h5.2M678.5 1380.6h5.2M679.5 1352.1h5.2M680.5 1363.1h5.2M681.4 1388.5h5.2M682.4 1395.4h5.2M683.3 1370.9h5.2M684.3 1391.1h5.2M685.2 1392.4h5.2M686.2 1414.3h5.2M687.2 1383.4h5.2M688.1 1414.0h5.2M689.1 1417.3h5.2M690.0 1387.1h5.2M691.0 1372.2h5.2M692.0 1324.6h5.2M692.9 1293.1h5.2M693.9 1312.3h5.2M694.8 1283.5h5.2M695.8 1315.4h5.2M696.7 1362.8h5.2M697.7 1385.2h5.2M698.7 1373.6h5.2M699.6 1347.9h5.2M700.6 1377.8h5.2M701.5 1351.0h5.2M702.5 1360.3h5.2M703.5 1327.5h5.2M704.4 1336.3h5.2M705.4 1324.5h5.2M706.3 1314.6h5.2M707.3 1324.9h5.2M708.2 1303.6h5.2M709.2 1314.0h5.2M710.2 1296.7h5.2M711.1 1283.9h5.2M712.1 1309.2h5.2M713.0 1316.8h5.2M714.0 1325.0h5.2M715.0 1358.4h5.2M715.9 1357.9h5.2M716.9 1341.7h5.2M717.8 1306.5h5.2M718.8 1291.5h5.2M719.7 1295.4h5.2M720.7 1322.0h5.2M721.7 1276.5h5.2M722.6 1273.2h5.2M723.6 1272.0h5.2M724.5 1299.9h5.2M725.5 1341.8h5.2M726.5 1326.7h5.2M727.4 1315.2h5.2M728.4 1312.0h5.2M729.3 1306.4h5.2M730.3 1299.1h5.2M731.2 1296.0h5.2M732.2 1301.8h5.2M733.2 1299.2h5.2M734.1 1299.8h5.2M735.1 1279.2h5.2M736.0 1324.2h5.2M737.0 1322.4h5.2M738.0 1308.5h5.2M738.9 1322.5h5.2M739.9 1305.8h5.2M740.8 1313.6h5.2M741.8 1307.1h5.2M742.7 1301.1h5.2M743.7 1289.4h5.2M744.7 1292.8h5.2M745.6 1262.1h5.2M746.6 1261.6h5.2M747.5 1267.2h5.2M748.5 1254.4h5.2M749.5 1259.9h5.2M750.4 1273.2h5.2M751.4 1243.7h5.2M752.3 1245.6h5.2M753.3 1258.6h5.2M754.2 1292.9h5.2M755.2 1280.3h5.2M756.2 1275.6h5.2M757.1 1256.0h5.2M758.1 1268.4h5.2M759.0 1259.7h5.2M760.0 1253.7h5.2M761.0 1267.4h5.2M761.9 1251.6h5.2M762.9 1227.2h5.2M763.8 1213.3h5.2M764.8 1249.3h5.2M765.7 1264.6h5.2M766.7 1290.8h5.2M767.7 1274.9h5.2M768.6 1266.0h5.2M769.6 1256.3h5.2M770.5 1271.5h5.2M771.5 1268.4h5.2M772.5 1252.0h5.2M773.4 1266.3h5.2M774.4 1218.4h5.2M775.3 1255.4h5.2M776.3 1247.0h5.2M777.2 1218.1h5.2M778.2 1225.3h5.2M779.2 1251.0h5.2M780.1 1247.4h5.2M781.1 1199.5h5.2M782.0 1256.9h5.2M783.0 1238.5h5.2M784.0 1234.5h5.2M784.9 1229.8h5.2M785.9 1235.9h5.2M786.8 1246.8h5.2M787.8 1245.1h5.2M788.7 1269.8h5.2M789.7 1249.7h5.2M790.7 1263.1h5.2M791.6 1261.8h5.2M792.6 1270.2h5.2M793.5 1268.2h5.2M794.5 1258.8h5.2M795.5 1256.4h5.2M796.4 1266.5h5.2M797.4 1242.0h5.2M798.3 1222.2h5.2M799.3 1231.8h5.2M800.2 1219.3h5.2M801.2 1227.2h5.2M802.2 1243.5h5.2M803.1 1265.1h5.2M804.1 1275.3h5.2M805.0 1281.4h5.2M806.0 1277.4h5.2M807.0 1272.8h5.2M807.9 1248.7h5.2M808.9 1252.7h5.2M809.8 1249.0h5.2M810.8 1252.7h5.2M811.7 1236.5h5.2M812.7 1248.1h5.2M813.7 1277.5h5.2M814.6 1293.8h5.2M815.6 1262.6h5.2M816.5 1245.7h5.2M817.5 1264.2h5.2M818.5 1315.8h5.2M819.4 1274.0h5.2M820.4 1286.5h5.2M821.3 1286.0h5.2M822.3 1296.8h5.2M823.2 1299.7h5.2M824.2 1275.0h5.2M825.2 1270.3h5.2M826.1 1279.3h5.2M827.1 1289.2h5.2M828.0 1290.9h5.2M829.0 1260.6h5.2M830.0 1313.2h5.2M830.9 1290.8h5.2M831.9 1268.3h5.2M832.8 1277.4h5.2M833.8 1277.7h5.2M834.7 1263.4h5.2M835.7 1253.4h5.2M836.7 1282.8h5.2M837.6 1315.6h5.2M838.6 1337.9h5.2M839.5 1347.2h5.2M840.5 1341.7h5.2M841.5 1341.2h5.2M842.4 1331.8h5.2M843.4 1314.6h5.2M844.3 1306.1h5.2M845.3 1293.3h5.2M846.2 1327.4h5.2M847.2 1309.0h5.2M848.2 1322.3h5.2M849.1 1293.8h5.2M850.1 1325.2h5.2M851.0 1309.4h5.2M852.0 1310.6h5.2M853.0 1303.2h5.2M853.9 1282.8h5.2M854.9 1299.6h5.2M855.8 1293.0h5.2M856.8 1300.9h5.2M857.7 1312.1h5.2M858.7 1344.1h5.2M859.7 1335.4h5.2M860.6 1398.4h5.2M861.6 1407.2h5.2M862.5 1385.5h5.2M863.5 1365.6h5.2M864.5 1336.3h5.2M865.4 1309.1h5.2M866.4 1290.8h5.2M867.3 1315.2h5.2M868.3 1278.0h5.2M869.2 1287.8h5.2M870.2 1261.1h5.2M871.2 1321.0h5.2M872.1 1341.7h5.2M873.1 1338.3h5.2M874.0 1340.1h5.2M875.0 1398.4h5.2M876.0 1349.1h5.2M876.9 1321.5h5.2M877.9 1305.7h5.2M878.8 1325.1h5.2M879.8 1289.5h5.2M880.7 1325.7h5.2M881.7 1297.9h5.2M882.7 1315.3h5.2M883.6 1320.3h5.2M884.6 1348.9h5.2M885.5 1359.8h5.2M886.5 1341.8h5.2M887.5 1304.4h5.2M888.4 1279.3h5.2M889.4 1265.9h5.2M890.3 1262.9h5.2M891.3 1281.7h5.2M892.2 1245.1h5.2M893.2 1275.6h5.2M894.2 1305.7h5.2M895.1 1304.2h5.2M896.1 1367.8h5.2M897.0 1365.4h5.2M898.0 1353.2h5.2M899.0 1372.8h5.2M899.9 1374.9h5.2M900.9 1324.8h5.2M901.8 1312.8h5.2M902.8 1291.2h5.2M903.7 1275.2h5.2M904.7 1314.0h5.2M905.7 1327.5h5.2M906.6 1322.5h5.2M907.6 1314.6h5.2M908.5 1355.5h5.2M909.5 1329.6h5.2M910.5 1349.5h5.2M911.4 1350.2h5.2M912.4 1384.4h5.2M913.3 1373.6h5.2M914.3 1346.5h5.2M915.2 1336.5h5.2M916.2 1308.5h5.2M917.2 1321.6h5.2M918.1 1287.4h5.2M919.1 1279.3h5.2M920.0 1293.3h5.2M921.0 1388.7h5.2M922.0 1386.4h5.2M922.9 1308.0h5.2M923.9 1333.9h5.2M924.8 1374.2h5.2M925.8 1308.0h5.2M926.7 1344.8h5.2M927.7 1334.7h5.2M928.7 1325.5h5.2M929.6 1379.9h5.2M930.6 1376.9h5.2M931.5 1347.6h5.2M932.5 1350.4h5.2M933.5 1337.4h5.2M934.4 1342.9h5.2M935.4 1321.1h5.2M936.3 1281.1h5.2M937.3 1318.4h5.2M938.2 1333.9h5.2M939.2 1318.9h5.2M940.2 1362.1h5.2M941.1 1364.0h5.2M942.1 1374.0h5.2M943.0 1367.5h5.2M944.0 1386.9h5.2M945.0 1361.4h5.2M945.9 1328.4h5.2M946.9 1292.2h5.2M947.8 1275.3h5.2M948.8 1270.0h5.2M949.7 1317.9h5.2M950.7 1323.3h5.2M951.7 1326.2h5.2M952.6 1311.0h5.2M953.6 1358.0h5.2M954.5 1287.9h5.2M955.5 1333.5h5.2M956.5 1328.4h5.2M957.4 1304.5h5.2M958.4 1270.8h5.2M959.3 1310.6h5.2M960.3 1330.5h5.2M961.2 1331.6h5.2M962.2 1310.6h5.2M963.2 1290.5h5.2M964.1 1299.5h5.2M965.1 1321.1h5.2M966.0 1379.4h5.2M967.0 1322.4h5.2M968.0 1389.3h5.2M968.9 1357.1h5.2M969.9 1333.4h5.2M970.8 1329.6h5.2M971.8 1306.9h5.2M972.7 1303.1h5.2M973.7 1307.9h5.2M974.7 1288.4h5.2M975.6 1377.3h5.2M976.6 1374.4h5.2M977.5 1390.5h5.2M978.5 1395.8h5.2M979.5 1344.3h5.2M980.4 1340.9h5.2M981.4 1305.6h5.2M982.3 1309.2h5.2M983.3 1292.2h5.2M984.2 1311.6h5.2M985.2 1392.5h5.2M986.2 1404.6h5.2M987.1 1389.5h5.2M988.1 1368.9h5.2M989.0 1354.9h5.2M990.0 1366.1h5.2M991.0 1327.1h5.2M991.9 1313.1h5.2M992.9 1307.2h5.2M993.8 1284.1h5.2M994.8 1342.0h5.2M995.7 1361.6h5.2M996.7 1374.4h5.2M997.7 1334.5h5.2M998.6 1338.6h5.2M999.6 1382.7h5.2M1000.5 1363.9h5.2M1001.5 1304.6h5.2M1002.5 1328.6h5.2M1003.4 1334.6h5.2M1004.4 1371.0h5.2M1005.3 1375.8h5.2M1006.3 1340.3h5.2M1007.2 1295.4h5.2M1008.2 1309.0h5.2M1009.2 1320.2h5.2M1010.1 1269.0h5.2M1011.1 1279.6h5.2M1012.0 1295.1h5.2M1013.0 1328.4h5.2M1014.0 1327.9h5.2M1014.9 1320.8h5.2M1015.9 1341.8h5.2M1016.8 1320.4h5.2M1017.8 1324.7h5.2M1018.7 1305.6h5.2M1019.7 1313.2h5.2M1020.7 1315.2h5.2M1021.6 1299.2h5.2M1022.6 1286.6h5.2M1023.5 1297.8h5.2M1024.5 1277.7h5.2M1025.5 1317.6h5.2M1026.4 1363.9h5.2M1027.4 1336.8h5.2M1028.3 1353.9h5.2M1029.3 1314.7h5.2M1030.2 1298.6h5.2M1031.2 1330.2h5.2M1032.2 1274.8h5.2M1033.1 1281.5h5.2M1034.1 1287.4h5.2M1035.0 1315.9h5.2M1036.0 1317.7h5.2M1037.0 1346.2h5.2M1037.9 1331.3h5.2M1038.9 1296.7h5.2M1039.8 1345.3h5.2M1040.8 1358.9h5.2M1041.7 1360.9h5.2M1042.7 1306.4h5.2M1043.7 1302.3h5.2M1044.6 1326.0h5.2M1045.6 1306.7h5.2M1046.5 1324.4h5.2M1047.5 1320.4h5.2M1048.5 1324.0h5.2M1049.4 1347.4h5.2M1050.4 1286.8h5.2M1051.3 1270.8h5.2M1052.3 1270.7h5.2M1053.2 1287.0h5.2M1054.2 1326.3h5.2M1055.2 1314.5h5.2M1056.1 1307.7h5.2M1057.1 1310.2h5.2M1058.0 1317.6h5.2M1059.0 1305.5h5.2M1060.0 1289.4h5.2M1060.9 1327.1h5.2M1061.9 1305.8h5.2M1062.8 1295.2h5.2M1063.8 1289.6h5.2M1064.7 1307.4h5.2M1065.7 1338.0h5.2M1066.7 1333.5h5.2M1067.6 1321.2h5.2M1068.6 1278.4h5.2M1069.5 1245.5h5.2M1070.5 1252.8h5.2M1071.5 1271.8h5.2M1072.4 1288.7h5.2M1073.4 1284.9h5.2M1074.3 1265.4h5.2M1075.3 1278.6h5.2M1076.2 1263.9h5.2M1077.2 1270.7h5.2M1078.2 1296.5h5.2M1079.1 1292.7h5.2M1080.1 1294.0h5.2M1081.0 1279.1h5.2M1082.0 1280.2h5.2M1083.0 1301.5h5.2M1083.9 1277.6h5.2M1084.9 1265.9h5.2M1085.8 1264.8h5.2M1086.8 1262.6h5.2M1087.7 1251.2h5.2M1088.7 1257.0h5.2M1089.7 1269.5h5.2M1090.6 1272.1h5.2M1091.6 1265.3h5.2M1092.5 1263.3h5.2M1093.5 1246.6h5.2M1094.5 1262.4h5.2M1095.4 1264.5h5.2M1096.4 1253.3h5.2M1097.3 1247.9h5.2M1098.3 1266.0h5.2M1099.2 1244.5h5.2M1100.2 1216.3h5.2M1101.2 1260.9h5.2M1102.1 1268.7h5.2M1103.1 1269.4h5.2M1104.0 1279.0h5.2M1105.0 1278.2h5.2M1106.0 1265.4h5.2M1106.9 1261.8h5.2M1107.9 1253.3h5.2M1108.8 1234.7h5.2M1109.8 1248.3h5.2M1110.7 1242.3h5.2M1111.7 1240.8h5.2M1112.7 1287.9h5.2M1113.6 1256.6h5.2M1114.6 1258.2h5.2M1115.5 1250.2h5.2M1116.5 1275.6h5.2M1117.5 1275.6h5.2M1118.4 1257.5h5.2M1119.4 1246.8h5.2M1120.3 1231.5h5.2M1121.3 1252.4h5.2M1122.2 1254.3h5.2M1123.2 1264.4h5.2M1124.2 1234.8h5.2M1125.1 1232.4h5.2M1126.1 1234.1h5.2M1127.0 1239.7h5.2M1128.0 1238.0h5.2M1129.0 1230.8h5.2M1129.9 1245.3h5.2M1130.9 1253.3h5.2M1131.8 1240.2h5.2M1132.8 1249.0h5.2M1133.7 1272.5h5.2M1134.7 1258.5h5.2M1135.7 1263.6h5.2M1136.6 1253.8h5.2M1137.6 1237.3h5.2M1138.5 1226.1h5.2M1139.5 1219.9h5.2M1140.5 1198.5h5.2M1141.4 1230.9h5.2M1142.4 1251.4h5.2M1143.3 1248.3h5.2M1144.3 1236.4h5.2M1145.2 1234.8h5.2M1146.2 1209.0h5.2M1147.2 1195.7h5.2M1148.1 1216.2h5.2M1149.1 1213.6h5.2M1150.0 1228.4h5.2M1151.0 1233.9h5.2M1152.0 1273.2h5.2M1152.9 1251.3h5.2M1153.9 1267.7h5.2M1154.8 1265.8h5.2M1155.8 1302.7h5.2M1156.7 1266.3h5.2M1157.7 1264.7h5.2M1158.7 1225.2h5.2M1159.6 1245.6h5.2M1160.6 1279.7h5.2M1161.5 1301.2h5.2M1162.5 1303.8h5.2M1163.5 1267.9h5.2M1164.4 1284.9h5.2M1165.4 1282.4h5.2M1166.3 1282.7h5.2M1167.3 1267.4h5.2M1168.2 1265.2h5.2M1169.2 1276.0h5.2M1170.2 1315.1h5.2M1171.1 1325.1h5.2M1172.1 1371.7h5.2M1173.0 1335.4h5.2M1174.0 1297.3h5.2M1175.0 1322.3h5.2M1175.9 1297.0h5.2M1176.9 1289.4h5.2M1177.8 1296.4h5.2M1178.8 1272.0h5.2M1179.7 1262.2h5.2M1180.7 1251.8h5.2M1181.7 1315.2h5.2M1182.6 1349.1h5.2M1183.6 1295.4h5.2M1184.5 1297.6h5.2M1185.5 1329.5h5.2M1186.5 1308.7h5.2M1187.4 1318.3h5.2M1188.4 1311.4h5.2M1189.3 1357.5h5.2M1190.3 1345.4h5.2M1191.2 1346.5h5.2M1192.2 1322.4h5.2M1193.2 1286.0h5.2M1194.1 1271.2h5.2M1195.1 1243.9h5.2M1196.0 1261.2h5.2M1197.0 1268.1h5.2M1198.0 1289.5h5.2M1198.9 1277.3h5.2M1199.9 1277.1h5.2M1200.8 1319.2h5.2M1201.8 1303.1h5.2M1202.7 1285.6h5.2M1203.7 1344.4h5.2M1204.7 1374.4h5.2M1205.6 1359.0h5.2M1206.6 1385.5h5.2M1207.5 1346.0h5.2M1208.5 1339.3h5.2M1209.5 1315.0h5.2M1210.4 1304.2h5.2M1211.4 1274.7h5.2M1212.3 1285.5h5.2M1213.3 1296.5h5.2M1214.2 1296.0h5.2M1215.2 1291.7h5.2M1216.2 1299.8h5.2M1217.1 1264.6h5.2M1218.1 1263.7h5.2M1219.0 1297.8h5.2M1220.0 1299.5h5.2M1221.0 1340.4h5.2M1221.9 1340.7h5.2M1222.9 1287.0h5.2M1223.8 1305.5h5.2M1224.8 1331.4h5.2M1225.7 1330.0h5.2M1226.7 1338.1h5.2M1227.7 1336.2h5.2M1228.6 1347.3h5.2M1229.6 1348.3h5.2M1230.5 1366.5h5.2M1231.5 1330.4h5.2M1232.5 1345.2h5.2M1233.4 1333.6h5.2M1234.4 1310.5h5.2M1235.3 1311.1h5.2M1236.3 1299.0h5.2M1237.2 1295.6h5.2M1238.2 1294.9h5.2M1239.2 1333.1h5.2M1240.1 1302.1h5.2M1241.1 1332.1h5.2M1242.0 1361.6h5.2M1243.0 1372.1h5.2M1244.0 1393.7h5.2M1244.9 1341.4h5.2M1245.9 1316.5h5.2M1246.8 1335.8h5.2M1247.8 1331.0h5.2M1248.7 1297.6h5.2M1249.7 1316.5h5.2M1250.7 1293.3h5.2M1251.6 1370.9h5.2M1252.6 1382.1h5.2M1253.5 1340.5h5.2M1254.5 1278.6h5.2M1255.5 1281.0h5.2M1256.4 1309.7h5.2M1257.4 1303.3h5.2M1258.3 1324.3h5.2M1259.3 1289.3h5.2M1260.2 1268.0h5.2M1261.2 1254.3h5.2M1262.2 1304.3h5.2M1263.1 1277.7h5.2M1264.1 1301.6h5.2M1265.0 1326.6h5.2M1266.0 1333.9h5.2M1267.0 1339.0h5.2M1267.9 1325.0h5.2M1268.9 1308.3h5.2M1269.8 1298.9h5.2M1270.8 1208.3h5.2M1271.7 1259.7h5.2M1272.7 1239.0h5.2M1273.7 1294.6h5.2M1274.6 1313.4h5.2M1275.6 1353.2h5.2M1276.5 1329.5h5.2M1277.5 1339.3h5.2M1278.5 1342.9h5.2M1279.4 1343.6h5.2M1280.4 1325.6h5.2M1281.3 1344.0h5.2M1282.3 1324.2h5.2M1283.2 1274.1h5.2M1284.2 1296.5h5.2M1285.2 1317.7h5.2M1286.1 1364.9h5.2M1287.1 1345.0h5.2M1288.0 1349.7h5.2M1289.0 1359.9h5.2M1290.0 1396.0h5.2M1290.9 1368.5h5.2M1291.9 1380.2h5.2M1292.8 1296.7h5.2M1293.8 1306.2h5.2M1294.7 1306.3h5.2M1295.7 1311.1h5.2M1296.7 1372.9h5.2M1297.6 1384.9h5.2M1298.6 1382.7h5.2M1299.5 1395.5h5.2M1300.5 1429.8h5.2M1301.5 1353.9h5.2M1302.4 1319.7h5.2M1303.4 1284.7h5.2M1304.3 1255.7h5.2M1305.3 1283.0h5.2M1306.2 1219.9h5.2M1307.2 1254.9h5.2M1308.2 1345.4h5.2M1309.1 1417.9h5.2M1310.1 1404.0h5.2M1311.0 1367.3h5.2M1312.0 1350.1h5.2M1313.0 1296.4h5.2M1313.9 1316.7h5.2M1314.9 1318.2h5.2M1315.8 1296.6h5.2M1316.8 1339.1h5.2M1317.7 1349.8h5.2M1318.7 1347.2h5.2M1319.7 1333.2h5.2M1320.6 1303.6h5.2M1321.6 1294.2h5.2M1322.5 1350.2h5.2M1323.5 1331.2h5.2M1324.5 1313.7h5.2M1325.4 1330.1h5.2M1326.4 1309.0h5.2M1327.3 1297.3h5.2M1328.3 1268.7h5.2M1329.2 1287.5h5.2M1330.2 1277.5h5.2M1331.2 1298.5h5.2M1332.1 1302.0h5.2M1333.1 1344.9h5.2M1334.0 1353.2h5.2M1335.0 1392.6h5.2M1336.0 1398.5h5.2M1336.9 1358.7h5.2M1337.9 1335.2h5.2M1338.8 1309.6h5.2M1339.8 1320.0h5.2M1340.7 1285.1h5.2M1341.7 1313.1h5.2M1342.7 1309.7h5.2M1343.6 1315.3h5.2M1344.6 1332.9h5.2M1345.5 1379.8h5.2M1346.5 1373.1h5.2M1347.5 1377.9h5.2M1348.4 1370.4h5.2M1349.4 1277.5h5.2M1350.3 1267.8h5.2M1351.3 1273.4h5.2M1352.2 1275.8h5.2M1353.2 1300.6h5.2M1354.2 1302.0h5.2M1355.1 1299.8h5.2M1356.1 1324.5h5.2M1357.0 1336.3h5.2M1358.0 1325.2h5.2M1359.0 1311.1h5.2M1359.9 1364.2h5.2M1360.9 1301.8h5.2M1361.8 1294.3h5.2M1362.8 1284.1h5.2M1363.7 1299.9h5.2M1364.7 1322.7h5.2M1365.7 1316.3h5.2M1366.6 1322.5h5.2M1367.6 1306.0h5.2M1368.5 1322.3h5.2M1369.5 1333.9h5.2M1370.5 1335.5h5.2M1371.4 1313.3h5.2M1372.4 1290.9h5.2M1373.3 1307.9h5.2M1374.3 1315.1h5.2M1375.2 1334.6h5.2M1376.2 1316.1h5.2M1377.2 1290.3h5.2M1378.1 1277.5h5.2M1379.1 1336.6h5.2M1380.0 1311.6h5.2M1381.0 1336.5h5.2M1382.0 1326.5h5.2M1382.9 1303.6h5.2M1383.9 1287.8h5.2M1384.8 1317.6h5.2M1385.8 1312.2h5.2M1386.7 1342.4h5.2M1387.7 1367.8h5.2M1388.7 1327.9h5.2M1389.6 1347.5h5.2M1390.6 1319.7h5.2M1391.5 1340.0h5.2M1392.5 1351.6h5.2M1393.5 1324.8h5.2M1394.4 1293.5h5.2M1395.4 1325.8h5.2M1396.3 1343.6h5.2M1397.3 1328.2h5.2M1398.2 1319.1h5.2M1399.2 1335.6h5.2M1400.2 1337.2h5.2M1401.1 1319.2h5.2M1402.1 1310.1h5.2M1403.0 1280.1h5.2M1404.0 1312.9h5.2M1405.0 1275.1h5.2M1405.9 1271.7h5.2M1406.9 1316.6h5.2M1407.8 1348.6h5.2M1408.8 1351.2h5.2M1409.7 1379.5h5.2M1410.7 1361.0h5.2M1411.7 1337.5h5.2M1412.6 1306.2h5.2M1413.6 1284.9h5.2M1414.5 1314.3h5.2M1415.5 1312.6h5.2M1416.5 1294.9h5.2M1417.4 1329.8h5.2M1418.4 1345.7h5.2M1419.3 1321.9h5.2M1420.3 1311.5h5.2M1421.2 1336.6h5.2M1422.2 1328.0h5.2M1423.2 1321.4h5.2M1424.1 1292.8h5.2M1425.1 1290.0h5.2M1426.0 1298.2h5.2M1427.0 1285.7h5.2M1428.0 1279.8h5.2M1428.9 1294.2h5.2M1429.9 1272.1h5.2M1430.8 1272.9h5.2M1431.8 1296.0h5.2M1432.7 1299.9h5.2M1433.7 1301.6h5.2M1434.7 1297.1h5.2M1435.6 1279.4h5.2M1436.6 1312.7h5.2M1437.5 1293.2h5.2M1438.5 1269.1h5.2M1439.5 1292.4h5.2M1440.4 1267.2h5.2M1441.4 1257.5h5.2M1442.3 1263.8h5.2M1443.3 1280.2h5.2M1444.2 1275.2h5.2M1445.2 1245.2h5.2M1446.2 1242.7h5.2M1447.1 1282.8h5.2M1448.1 1284.7h5.2M1449.0 1303.5h5.2M1450.0 1290.2h5.2M1451.0 1303.9h5.2M1451.9 1259.7h5.2M1452.9 1253.3h5.2M1453.8 1217.1h5.2M1454.8 1242.0h5.2M1455.7 1250.5h5.2M1456.7 1212.9h5.2M1457.7 1258.1h5.2M1458.6 1266.8h5.2M1459.6 1283.6h5.2M1460.5 1262.5h5.2M1461.5 1261.9h5.2M1462.5 1263.3h5.2M1463.4 1261.1h5.2M1464.4 1284.1h5.2M1465.3 1268.7h5.2M1466.3 1248.2h5.2M1467.2 1224.3h5.2M1468.2 1253.0h5.2M1469.2 1275.8h5.2M1470.1 1261.6h5.2M1471.1 1241.9h5.2M1472.0 1200.1h5.2M1473.0 1221.7h5.2M1474.0 1247.7h5.2M1474.9 1264.2h5.2M1475.9 1258.5h5.2M1476.8 1242.1h5.2M1477.8 1259.3h5.2M1478.7 1253.2h5.2M1479.7 1229.3h5.2M1480.7 1231.4h5.2M1481.6 1235.9h5.2M1482.6 1232.0h5.2M1483.5 1267.4h5.2M1484.5 1256.7h5.2M1485.5 1260.2h5.2M1486.4 1235.0h5.2M1487.4 1234.0h5.2M1488.3 1191.8h5.2M1489.3 1214.4h5.2M1490.2 1231.9h5.2M1491.2 1232.8h5.2M1492.2 1228.9h5.2M1493.1 1257.3h5.2M1494.1 1243.4h5.2M1495.0 1214.8h5.2M1496.0 1218.9h5.2M1497.0 1246.5h5.2M1497.9 1246.2h5.2M1498.9 1230.6h5.2M1499.8 1240.0h5.2M1500.8 1248.9h5.2M1501.7 1276.4h5.2M1502.7 1275.9h5.2M1503.7 1273.3h5.2M1504.6 1284.2h5.2M1505.6 1250.0h5.2M1506.5 1208.6h5.2M1507.5 1230.7h5.2M1508.5 1225.2h5.2M1509.4 1247.4h5.2M1510.4 1214.5h5.2M1511.3 1236.7h5.2M1512.3 1242.0h5.2M1513.2 1257.1h5.2M1514.2 1283.0h5.2M1515.2 1271.3h5.2M1516.1 1248.2h5.2M1517.1 1288.6h5.2M1518.0 1275.4h5.2M1519.0 1236.0h5.2M1520.0 1267.0h5.2M1520.9 1280.7h5.2M1521.9 1316.8h5.2M1522.8 1312.2h5.2M1523.8 1323.0h5.2M1524.7 1305.0h5.2M1525.7 1281.7h5.2M1526.7 1271.6h5.2M1527.6 1295.4h5.2M1528.6 1283.0h5.2M1529.5 1281.6h5.2M1530.5 1301.3h5.2M1531.5 1307.3h5.2M1532.4 1294.5h5.2M1533.4 1317.4h5.2M1534.3 1309.7h5.2M1535.3 1267.4h5.2M1536.2 1249.5h5.2M1537.2 1246.6h5.2M1538.2 1274.6h5.2M1539.1 1253.5h5.2M1540.1 1264.3h5.2M1541.0 1269.2h5.2M1542.0 1280.3h5.2M1543.0 1278.6h5.2M1543.9 1319.7h5.2M1544.9 1329.5h5.2M1545.8 1343.9h5.2M1546.8 1340.1h5.2M1547.7 1289.3h5.2M1548.7 1306.8h5.2M1549.7 1310.7h5.2M1550.6 1305.4h5.2M1551.6 1285.1h5.2M1552.5 1258.7h5.2M1553.5 1301.5h5.2M1554.5 1311.3h5.2M1555.4 1326.0h5.2M1556.4 1310.2h5.2M1557.3 1290.2h5.2M1558.3 1297.8h5.2M1559.2 1321.6h5.2M1560.2 1332.4h5.2M1561.2 1325.4h5.2M1562.1 1281.2h5.2M1563.1 1278.9h5.2M1564.0 1300.3h5.2M1565.0 1324.5h5.2M1566.0 1342.9h5.2M1566.9 1391.2h5.2M1567.9 1329.0h5.2M1568.8 1345.8h5.2M1569.8 1365.8h5.2M1570.7 1299.6h5.2M1571.7 1297.9h5.2M1572.7 1278.0h5.2M1573.6 1294.0h5.2M1574.6 1295.3h5.2M1575.5 1290.0h5.2M1576.5 1333.7h5.2M1577.5 1309.8h5.2M1578.4 1319.6h5.2M1579.4 1308.0h5.2M1580.3 1311.0h5.2M1581.3 1328.1h5.2M1582.2 1334.1h5.2M1583.2 1333.5h5.2M1584.2 1347.7h5.2M1585.1 1365.5h5.2M1586.1 1329.5h5.2M1587.0 1316.3h5.2M1588.0 1311.7h5.2M1589.0 1332.3h5.2M1589.9 1362.1h5.2M1590.9 1346.9h5.2M1591.8 1348.6h5.2M1592.8 1352.2h5.2M1593.7 1335.5h5.2M1594.7 1305.2h5.2M1595.7 1309.8h5.2M1596.6 1288.9h5.2M1597.6 1330.2h5.2M1598.5 1329.3h5.2M1599.5 1351.7h5.2M1600.5 1378.6h5.2M1601.4 1352.4h5.2M1602.4 1406.3h5.2M1603.3 1388.7h5.2M1604.3 1336.2h5.2M1605.2 1330.1h5.2M1606.2 1357.4h5.2M1607.2 1346.6h5.2M1608.1 1407.8h5.2M1609.1 1414.0h5.2M1610.0 1346.3h5.2M1611.0 1341.1h5.2M1612.0 1305.0h5.2M1612.9 1348.4h5.2M1613.9 1406.3h5.2M1614.8 1432.5h5.2M1615.8 1373.5h5.2M1616.7 1348.3h5.2M1617.7 1333.0h5.2M1618.7 1365.4h5.2M1619.6 1382.7h5.2M1620.6 1388.5h5.2M1621.5 1311.8h5.2M1622.5 1342.7h5.2M1623.5 1297.7h5.2M1624.4 1316.8h5.2M1625.4 1286.6h5.2M1626.3 1338.9h5.2M1627.3 1366.6h5.2M1628.2 1362.1h5.2M1629.2 1384.7h5.2M1630.2 1398.7h5.2M1631.1 1381.6h5.2M1632.1 1406.1h5.2M1633.0 1343.0h5.2M1634.0 1303.4h5.2M1635.0 1337.1h5.2M1635.9 1297.5h5.2M1636.9 1297.3h5.2M1637.8 1304.0h5.2M1638.8 1315.2h5.2M1639.7 1283.9h5.2M1640.7 1290.2h5.2M1641.7 1299.7h5.2M1642.6 1305.7h5.2M1643.6 1340.7h5.2M1644.5 1279.0h5.2M1645.5 1314.6h5.2M1646.5 1353.9h5.2M1647.4 1356.5h5.2M1648.4 1338.2h5.2M1649.3 1319.8h5.2M1650.3 1327.2h5.2M1651.2 1338.6h5.2M1652.2 1350.6h5.2M1653.2 1303.3h5.2M1654.1 1296.7h5.2M1655.1 1374.1h5.2M1656.0 1319.0h5.2M1657.0 1306.8h5.2M1658.0 1270.3h5.2M1658.9 1301.5h5.2M1659.9 1321.9h5.2M1660.8 1324.0h5.2M1661.8 1384.1h5.2M1662.7 1405.2h5.2M1663.7 1359.8h5.2M1664.7 1339.9h5.2M1665.6 1409.7h5.2M1666.6 1355.5h5.2M1667.5 1360.0h5.2M1668.5 1323.0h5.2M1669.5 1343.9h5.2M1670.4 1335.8h5.2M1671.4 1331.8h5.2M1672.3 1329.5h5.2M1673.3 1363.2h5.2M1674.2 1326.4h5.2M1675.2 1330.5h5.2M1676.2 1324.0h5.2M1677.1 1289.8h5.2M1678.1 1294.5h5.2M1679.0 1294.3h5.2M1680.0 1335.4h5.2M1681.0 1342.3h5.2M1681.9 1307.9h5.2M1682.9 1317.0h5.2M1683.8 1359.1h5.2M1684.8 1295.8h5.2M1685.7 1306.5h5.2M1686.7 1294.0h5.2M1687.7 1334.6h5.2M1688.6 1335.8h5.2M1689.6 1339.9h5.2M1690.5 1374.4h5.2M1691.5 1368.5h5.2M1692.5 1290.3h5.2M1693.4 1261.0h5.2M1694.4 1214.9h5.2M1695.3 1263.0h5.2M1696.3 1324.7h5.2M1697.2 1362.2h5.2M1698.2 1429.6h5.2M1699.2 1388.1h5.2M1700.1 1366.2h5.2M1701.1 1352.0h5.2M1702.0 1345.5h5.2M1703.0 1332.6h5.2M1704.0 1334.1h5.2M1704.9 1315.4h5.2M1705.9 1352.7h5.2M1706.8 1361.0h5.2M1707.8 1357.7h5.2M1708.7 1400.1h5.2M1709.7 1414.9h5.2M1710.7 1386.4h5.2M1711.6 1361.5h5.2M1712.6 1426.7h5.2M1713.5 1393.3h5.2M1714.5 1356.0h5.2M1715.5 1330.6h5.2M1716.4 1357.7h5.2M1717.4 1329.1h5.2M1718.3 1356.9h5.2M1719.3 1380.9h5.2M1720.2 1413.8h5.2M1721.2 1420.9h5.2M1722.2 1392.5h5.2M1723.1 1347.6h5.2M1724.1 1346.3h5.2M1725.0 1347.9h5.2M1726.0 1353.8h5.2M1727.0 1337.9h5.2M1727.9 1287.3h5.2M1728.9 1311.9h5.2M1729.8 1370.7h5.2M1730.8 1366.7h5.2M1731.7 1377.9h5.2M1732.7 1386.4h5.2M1733.7 1370.4h5.2M1734.6 1361.8h5.2M1735.6 1356.0h5.2M1736.5 1335.0h5.2M1737.5 1355.1h5.2M1738.5 1353.2h5.2M1739.4 1353.1h5.2M1740.4 1324.0h5.2M1741.3 1360.6h5.2M1742.3 1350.0h5.2M1743.2 1351.3h5.2M1744.2 1324.5h5.2M1745.2 1304.6h5.2M1746.1 1312.4h5.2M1747.1 1333.6h5.2M1748.0 1331.5h5.2M1749.0 1334.3h5.2M1750.0 1389.6h5.2M1750.9 1391.1h5.2M1751.9 1387.9h5.2M1752.8 1337.9h5.2M1753.8 1297.2h5.2M1754.7 1316.5h5.2M1755.7 1322.2h5.2M1756.7 1351.3h5.2M1757.6 1337.6h5.2M1758.6 1318.7h5.2M1759.5 1292.5h5.2M1760.5 1335.9h5.2M1761.5 1330.0h5.2M1762.4 1324.0h5.2M1763.4 1345.7h5.2M1764.3 1343.9h5.2M1765.3 1344.3h5.2M1766.2 1334.9h5.2M1767.2 1316.4h5.2M1768.2 1292.7h5.2M1769.1 1309.8h5.2M1770.1 1333.1h5.2M1771.0 1338.3h5.2M1772.0 1330.5h5.2M1773.0 1346.2h5.2M1773.9 1360.1h5.2M1774.9 1334.3h5.2M1775.8 1344.7h5.2M1776.8 1328.3h5.2M1777.7 1313.4h5.2M1778.7 1307.3h5.2M1779.7 1313.9h5.2M1780.6 1331.8h5.2M1781.6 1343.5h5.2M1782.5 1343.1h5.2M1783.5 1343.3h5.2M1784.5 1349.5h5.2M1785.4 1347.0h5.2M1786.4 1352.7h5.2M1787.3 1323.2h5.2M1788.3 1338.9h5.2M1789.2 1328.5h5.2M1790.2 1307.0h5.2M1791.2 1293.9h5.2M1792.1 1304.9h5.2M1793.1 1283.1h5.2M1794.0 1253.2h5.2M1795.0 1253.2h5.2M1796.0 1294.2h5.2M1796.9 1301.8h5.2M1797.9 1300.7h5.2M1798.8 1303.6h5.2M1799.8 1301.8h5.2M1800.7 1289.7h5.2M1801.7 1275.9h5.2M1802.7 1245.2h5.2M1803.6 1280.8h5.2M1804.6 1313.7h5.2M1805.5 1305.4h5.2M1806.5 1299.9h5.2M1807.5 1286.2h5.2M1808.4 1281.7h5.2M1809.4 1257.4h5.2M1810.3 1226.7h5.2M1811.3 1232.9h5.2M1812.2 1246.0h5.2M1813.2 1258.1h5.2M1814.2 1249.6h5.2M1815.1 1259.1h5.2M1816.1 1269.7h5.2M1817.0 1260.6h5.2M1818.0 1254.3h5.2M1819.0 1264.4h5.2M1819.9 1265.2h5.2M1820.9 1230.8h5.2M1821.8 1275.6h5.2M1822.8 1284.3h5.2M1823.7 1255.0h5.2M1824.7 1260.0h5.2M1825.7 1251.5h5.2M1826.6 1245.6h5.2M1827.6 1231.2h5.2M1828.5 1276.3h5.2M1829.5 1277.4h5.2M1830.5 1281.4h5.2M1831.4 1257.1h5.2M1832.4 1243.7h5.2M1833.3 1252.3h5.2M1834.3 1248.6h5.2M1835.2 1234.2h5.2M1836.2 1261.4h5.2M1837.2 1264.6h5.2M1838.1 1274.0h5.2M1839.1 1309.4h5.2M1840.0 1283.5h5.2M1841.0 1292.6h5.2M1842.0 1268.3h5.2M1842.9 1259.7h5.2M1843.9 1260.1h5.2M1844.8 1277.2h5.2M1845.8 1280.9h5.2M1846.7 1291.6h5.2M1847.7 1281.2h5.2M1848.7 1274.8h5.2M1849.6 1273.6h5.2M1850.6 1265.7h5.2M1851.5 1249.8h5.2M1852.5 1259.5h5.2M1853.5 1274.1h5.2M1854.4 1296.0h5.2M1855.4 1295.0h5.2M1856.3 1309.1h5.2M1857.3 1307.2h5.2M1858.2 1278.9h5.2M1859.2 1266.3h5.2M1860.2 1263.2h5.2M1861.1 1272.3h5.2M1862.1 1238.1h5.2M1863.0 1253.9h5.2M1864.0 1252.6h5.2M1865.0 1256.2h5.2M1865.9 1263.0h5.2M1866.9 1274.5h5.2M1867.8 1279.9h5.2M1868.8 1275.4h5.2M1869.7 1315.5h5.2M1870.7 1292.3h5.2M1871.7 1291.9h5.2M1872.6 1297.7h5.2M1873.6 1318.4h5.2M1874.5 1295.7h5.2M1875.5 1300.5h5.2M1876.5 1305.2h5.2M1877.4 1318.6h5.2M1878.4 1328.6h5.2M1879.3 1331.6h5.2M1880.3 1370.4h5.2M1881.2 1327.7h5.2M1882.2 1344.1h5.2M1883.2 1333.4h5.2M1884.1 1343.4h5.2M1885.1 1316.0h5.2M1886.0 1328.7h5.2" stroke="#ff7f00" stroke-width="5.2"/></g><g fill="#606060"><rect x="246" y="173.0" width="16.6" height="5.30"/><rect x="1871.5" y="173.0" width="16.6" height="5.30"/><rect x="246" y="336.4" width="16.6" height="2.80"/><rect x="1871.5" y="336.4" width="16.6" height="2.80"/><rect x="246" y="497.1" width="16.6" height="4.90"/><rect x="1871.5" y="497.1" width="16.6" height="4.90"/><rect x="246" y="660.6" width="16.6" height="3.60"/><rect x="1871.5" y="660.6" width="16.6" height="3.60"/><rect x="246" y="821.7" width="16.6" height="4.90"/><rect x="1871.5" y="821.7" width="16.6" height="4.90"/><rect x="246" y="984.6" width="16.6" height="3.70"/><rect x="1871.5" y="984.6" width="16.6" height="3.70"/><rect x="246" y="1146.5" width="16.6" height="5.30"/><rect x="1871.5" y="1146.5" width="16.6" height="5.30"/><rect x="246" y="1309.5" width="16.6" height="4.00"/><rect x="1871.5" y="1309.5" width="16.6" height="4.00"/><rect x="246" y="1470.5" width="16.6" height="5.40"/><rect x="1871.5" y="1470.5" width="16.6" height="5.40"/></g><g fill="#555555"><rect x="592.63" y="1618" width="5.0" height="16.2"/><rect x="592.63" y="96.7" width="5.0" height="16.1"/><rect x="942.66" y="1618" width="5.0" height="16.2"/><rect x="942.66" y="96.7" width="5.0" height="16.1"/><rect x="1292.69" y="1618" width="5.0" height="16.2"/><rect x="1292.69" y="96.7" width="5.0" height="16.1"/><rect x="1642.72" y="1618" width="5.0" height="16.2"/><rect x="1642.72" y="96.7" width="5.0" height="16.1"/></g><rect x="241.0" y="91.3" width="2.0" height="1547.8" fill="#aaaaaa"/><rect x="243.0" y="94.0" width="3.0" height="1545.1" fill="#161616"/><rect x="243.0" y="91.3" width="1650.3" height="2.7" fill="#888888"/><rect x="243.0" y="94.0" width="1650.3" height="2.7" fill="#181818"/><rect x="1888.0" y="96.7" width="3.0" height="1537.4" fill="#616161"/><rect x="1891.0" y="94.0" width="2.3" height="1545.1" fill="#1a1a1a"/><rect x="243.0" y="1634.1" width="1650.3" height="2.8" fill="#1c1c1c"/><rect x="243.0" y="1636.9" width="1650.3" height="2.2" fill="#5a5a5a"/><g font-family="Liberation Sans, Arial, Helvetica, sans-serif"><text transform="matrix(0.65543 0 0 0.65851 724.33 74.07)" font-size="100" fill="#000">XJWU (39.7°N, 75.2°E)</text><text transform="matrix(0.671 0 0 0.648 138.60 199.10)" font-size="100" fill="#262626">70</text><text transform="matrix(0.671 0 0 0.648 138.60 361.37)" font-size="100" fill="#262626">60</text><text transform="matrix(0.671 0 0 0.648 138.60 523.64)" font-size="100" fill="#262626">50</text><text transform="matrix(0.671 0 0 0.648 138.60 685.91)" font-size="100" fill="#262626">40</text><text transform="matrix(0.671 0 0 0.648 138.60 848.18)" font-size="100" fill="#262626">30</text><text transform="matrix(0.671 0 0 0.648 138.60 1010.45)" font-size="100" fill="#262626">20</text><text transform="matrix(0.671 0 0 0.648 138.60 1172.72)" font-size="100" fill="#262626">10</text><text transform="matrix(0.671 0 0 0.648 175.51 1334.99)" font-size="100" fill="#262626">0</text><text transform="matrix(0.671 0 0 0.648 138.60 1497.26)" font-size="100" fill="#262626">10</text><text transform="matrix(0.8600 0 0 0.648 111.46 1497.26)" font-size="100" fill="#262626">-</text><text transform="matrix(0.671 0 0 0.648 138.60 1659.53)" font-size="100" fill="#262626">20</text><text transform="matrix(0.8600 0 0 0.648 111.46 1659.53)" font-size="100" fill="#262626">-</text><text transform="matrix(0.66341 0 0 0.64930 166.68 1728.65)" font-size="100" fill="#262626">2011</text><text transform="matrix(0.66934 0 0 0.64648 518.05 1728.25)" font-size="100" fill="#262626">2012</text><text transform="matrix(0.67840 0 0 0.64789 867.51 1728.35)" font-size="100" fill="#262626">2013</text><text transform="matrix(0.67664 0 0 0.64789 1218.72 1728.35)" font-size="100" fill="#262626">2014</text><text transform="matrix(0.67606 0 0 0.64648 1568.52 1728.25)" font-size="100" fill="#262626">2015</text><text transform="matrix(0 -0.66980 0.64894 0 71.47 1291.07)" font-size="100" fill="#262626">Vertical Displacements (mm)</text><text transform="matrix(0.64970 0 0 0.65638 901.90 1815.32)" font-size="100" fill="#262626">Time (year)</text><text transform="matrix(0.69297 0 0 0.70435 1506.00 199.90)" font-size="100" fill="#ff1515">ATML</text><text transform="matrix(0.66339 0 0 0.68028 1154.59 687.02)" font-size="100" fill="#00b040">NTOL</text><text transform="matrix(0.65977 0 0 0.68986 1506.32 736.30)" font-size="100" fill="#0380be">HYDL</text><text transform="matrix(0.66139 0 0 0.70563 1153.59 1043.79)" font-size="100" fill="#000">GPS</text><text transform="matrix(0.68182 0 0 0.69437 1504.59 1092.61)" font-size="100" fill="#ff7f00">SumL</text></g></svg></body></html>
